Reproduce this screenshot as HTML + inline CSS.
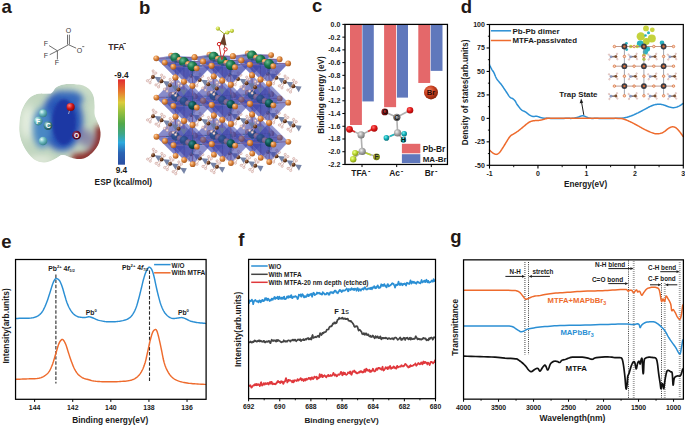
<!DOCTYPE html>
<html><head><meta charset="utf-8"><style>
html,body{margin:0;padding:0;background:#fff;}
svg{display:block;font-family:"Liberation Sans", sans-serif;}
</style></head><body>
<svg width="685" height="425" viewBox="0 0 685 425">
<rect width="685" height="425" fill="#fff"/>
<text x="1.40" y="12.90" font-size="18.5" font-weight="bold" text-anchor="start" fill="#231815" >a</text>
<text x="139.00" y="14.00" font-size="18.5" font-weight="bold" text-anchor="start" fill="#231815" >b</text>
<text x="312.10" y="12.20" font-size="18.5" font-weight="bold" text-anchor="start" fill="#231815" >c</text>
<text x="460.80" y="12.90" font-size="18.5" font-weight="bold" text-anchor="start" fill="#231815" >d</text>
<text x="1.20" y="247.60" font-size="18.5" font-weight="bold" text-anchor="start" fill="#231815" >e</text>
<text x="238.30" y="245.90" font-size="18.5" font-weight="bold" text-anchor="start" fill="#231815" >f</text>
<text x="450.30" y="242.80" font-size="18.5" font-weight="bold" text-anchor="start" fill="#231815" >g</text>
<line x1="49.10" y1="45.60" x2="57.40" y2="50.80" stroke="#4a4a4a" stroke-width="0.8" />
<line x1="49.70" y1="54.70" x2="57.40" y2="50.80" stroke="#4a4a4a" stroke-width="0.8" />
<line x1="57.40" y1="50.80" x2="57.40" y2="59.40" stroke="#4a4a4a" stroke-width="0.8" />
<line x1="57.40" y1="50.80" x2="68.50" y2="44.70" stroke="#4a4a4a" stroke-width="0.8" />
<line x1="68.50" y1="44.70" x2="76.20" y2="48.20" stroke="#4a4a4a" stroke-width="0.8" />
<line x1="67.50" y1="44.50" x2="67.50" y2="34.70" stroke="#4a4a4a" stroke-width="0.8" />
<line x1="69.40" y1="44.50" x2="69.40" y2="34.70" stroke="#4a4a4a" stroke-width="0.8" />
<text x="68.50" y="33.40" font-size="7.0" font-weight="normal" text-anchor="middle" fill="#3a3a3a" >O</text>
<text x="79.50" y="52.60" font-size="7.0" font-weight="normal" text-anchor="middle" fill="#3a3a3a" >O</text>
<line x1="82.2" y1="46.6" x2="84.3" y2="46.6" stroke="#3a3a3a" stroke-width="0.7"/>
<text x="46.00" y="46.00" font-size="7.0" font-weight="normal" text-anchor="middle" fill="#3a3a3a" >F</text>
<text x="45.80" y="58.40" font-size="7.0" font-weight="normal" text-anchor="middle" fill="#3a3a3a" >F</text>
<text x="56.90" y="64.90" font-size="7.0" font-weight="normal" text-anchor="middle" fill="#3a3a3a" >F</text>
<text x="108.20" y="49.70" font-size="8.6" font-weight="bold" text-anchor="start" fill="#3a2c2c" >TFA</text>
<rect x="123.3" y="43.0" width="2.6" height="0.9" fill="#3a2c2c"/>
<defs><linearGradient id="cbar" x1="0" y1="0" x2="0" y2="1">
<stop offset="0" stop-color="#e02a30"/><stop offset="0.14" stop-color="#e8762e"/><stop offset="0.27" stop-color="#dccc3c"/>
<stop offset="0.38" stop-color="#98c03e"/><stop offset="0.52" stop-color="#52a84a"/><stop offset="0.64" stop-color="#3ea688"/>
<stop offset="0.74" stop-color="#2eaade"/><stop offset="0.86" stop-color="#2a64b4"/><stop offset="1" stop-color="#2a4ea2"/></linearGradient></defs>
<rect x="118.0" y="79.3" width="7.0" height="85.4" fill="url(#cbar)"/>
<text x="121.40" y="77.90" font-size="8.3" font-weight="bold" text-anchor="middle" fill="#1a1a1a" >-9.4</text>
<text x="121.40" y="173.40" font-size="8.3" font-weight="bold" text-anchor="middle" fill="#1a1a1a" >9.4</text>
<text x="94.60" y="185.00" font-size="8.3" font-weight="bold" text-anchor="start" fill="#1a1a1a" >ESP (kcal/mol)</text>
<defs><clipPath id="espclip"><path d="M73.0,84.0 L74.0,84.1 L75.4,84.2 L77.1,84.4 L78.8,84.6 L80.5,84.8 L82.0,85.2 L83.3,85.6 L84.6,86.2 L85.8,86.7 L86.9,87.4 L88.0,88.2 L89.0,89.0 L89.9,90.0 L90.8,91.0 L91.6,92.2 L92.4,93.4 L93.0,94.7 L93.5,96.0 L93.9,97.4 L94.1,98.9 L94.3,100.4 L94.4,101.9 L94.4,103.5 L94.5,105.0 L94.5,106.5 L94.5,108.1 L94.4,109.7 L94.4,111.2 L94.4,112.7 L94.5,114.0 L94.7,115.2 L95.0,116.2 L95.3,117.1 L95.7,118.0 L96.1,119.0 L96.5,120.0 L97.0,121.1 L97.5,122.2 L98.1,123.4 L98.6,124.6 L99.1,125.8 L99.5,127.0 L99.8,128.3 L100.1,129.6 L100.3,130.9 L100.5,132.2 L100.5,133.6 L100.5,135.0 L100.4,136.5 L100.2,138.0 L99.9,139.5 L99.5,141.0 L99.1,142.5 L98.5,144.0 L97.8,145.4 L97.0,146.8 L96.1,148.2 L95.1,149.5 L94.1,150.8 L93.0,152.0 L91.8,153.2 L90.5,154.3 L89.2,155.4 L87.8,156.4 L86.4,157.3 L85.0,158.0 L83.7,158.5 L82.3,158.8 L81.0,159.0 L79.7,159.1 L78.3,159.1 L77.0,159.0 L75.7,158.8 L74.3,158.6 L72.9,158.2 L71.6,157.8 L70.3,157.4 L69.0,157.0 L67.8,156.6 L66.6,156.1 L65.4,155.6 L64.3,155.2 L63.2,155.0 L62.0,155.0 L60.9,155.3 L59.8,155.9 L58.7,156.7 L57.6,157.5 L56.3,158.3 L55.0,159.0 L53.5,159.7 L51.9,160.4 L50.2,161.2 L48.4,161.8 L46.7,162.3 L45.0,162.5 L43.3,162.5 L41.6,162.3 L39.9,162.0 L38.2,161.5 L36.6,160.8 L35.0,160.0 L33.5,159.0 L32.1,157.8 L30.7,156.4 L29.4,154.9 L28.1,153.5 L27.0,152.0 L26.0,150.6 L25.0,149.1 L24.2,147.6 L23.4,146.1 L22.7,144.6 L22.0,143.0 L21.4,141.4 L20.9,139.8 L20.4,138.1 L20.1,136.4 L19.7,134.7 L19.5,133.0 L19.3,131.2 L19.2,129.4 L19.2,127.6 L19.3,125.7 L19.4,123.8 L19.5,122.0 L19.7,120.1 L19.9,118.3 L20.2,116.4 L20.6,114.5 L21.0,112.7 L21.5,111.0 L22.1,109.3 L22.8,107.7 L23.5,106.2 L24.3,104.7 L25.1,103.3 L26.0,102.0 L26.9,100.8 L27.9,99.6 L28.8,98.6 L29.9,97.6 L30.9,96.8 L32.0,96.0 L33.1,95.4 L34.3,94.8 L35.4,94.4 L36.6,94.0 L37.8,93.7 L39.0,93.5 L40.2,93.4 L41.4,93.3 L42.6,93.4 L43.8,93.4 L44.9,93.5 L46.0,93.5 L47.0,93.5 L48.0,93.6 L48.9,93.6 L49.8,93.6 L50.7,93.4 L51.5,93.0 L52.3,92.3 L53.0,91.4 L53.7,90.4 L54.4,89.3 L55.1,88.3 L56.0,87.5 L57.0,86.8 L58.0,86.2 L59.2,85.7 L60.4,85.2 L61.6,84.8 L63.0,84.5 L64.6,84.3 L66.5,84.1 L68.4,84.1 L70.3,84.0 L71.9,84.0 L73.0,84.0Z"/></clipPath>
<filter id="bl3" x="-50%" y="-50%" width="200%" height="200%"><feGaussianBlur stdDeviation="3"/></filter>
<filter id="bl5" x="-50%" y="-50%" width="200%" height="200%"><feGaussianBlur stdDeviation="5"/></filter>
<filter id="bl2" x="-50%" y="-50%" width="200%" height="200%"><feGaussianBlur stdDeviation="1.5"/></filter>
<radialGradient id="gTeal" cx="0.35" cy="0.32" r="0.75"><stop offset="0" stop-color="#e0fafa"/><stop offset="0.45" stop-color="#70bcc0"/><stop offset="1" stop-color="#2e7880"/></radialGradient>
<radialGradient id="gTealD" cx="0.35" cy="0.32" r="0.75"><stop offset="0" stop-color="#b8e0e0"/><stop offset="0.5" stop-color="#3e8488"/><stop offset="1" stop-color="#1a4a50"/></radialGradient>
<radialGradient id="gORed" cx="0.35" cy="0.32" r="0.75"><stop offset="0" stop-color="#ff8080"/><stop offset="0.5" stop-color="#d01818"/><stop offset="1" stop-color="#800000"/></radialGradient>
<radialGradient id="gOMar" cx="0.35" cy="0.32" r="0.75"><stop offset="0" stop-color="#a05070"/><stop offset="0.5" stop-color="#6a1030"/><stop offset="1" stop-color="#400018"/></radialGradient>
</defs>
<g clip-path="url(#espclip)">
<path d="M73.0,84.0 L74.0,84.1 L75.4,84.2 L77.1,84.4 L78.8,84.6 L80.5,84.8 L82.0,85.2 L83.3,85.6 L84.6,86.2 L85.8,86.7 L86.9,87.4 L88.0,88.2 L89.0,89.0 L89.9,90.0 L90.8,91.0 L91.6,92.2 L92.4,93.4 L93.0,94.7 L93.5,96.0 L93.9,97.4 L94.1,98.9 L94.3,100.4 L94.4,101.9 L94.4,103.5 L94.5,105.0 L94.5,106.5 L94.5,108.1 L94.4,109.7 L94.4,111.2 L94.4,112.7 L94.5,114.0 L94.7,115.2 L95.0,116.2 L95.3,117.1 L95.7,118.0 L96.1,119.0 L96.5,120.0 L97.0,121.1 L97.5,122.2 L98.1,123.4 L98.6,124.6 L99.1,125.8 L99.5,127.0 L99.8,128.3 L100.1,129.6 L100.3,130.9 L100.5,132.2 L100.5,133.6 L100.5,135.0 L100.4,136.5 L100.2,138.0 L99.9,139.5 L99.5,141.0 L99.1,142.5 L98.5,144.0 L97.8,145.4 L97.0,146.8 L96.1,148.2 L95.1,149.5 L94.1,150.8 L93.0,152.0 L91.8,153.2 L90.5,154.3 L89.2,155.4 L87.8,156.4 L86.4,157.3 L85.0,158.0 L83.7,158.5 L82.3,158.8 L81.0,159.0 L79.7,159.1 L78.3,159.1 L77.0,159.0 L75.7,158.8 L74.3,158.6 L72.9,158.2 L71.6,157.8 L70.3,157.4 L69.0,157.0 L67.8,156.6 L66.6,156.1 L65.4,155.6 L64.3,155.2 L63.2,155.0 L62.0,155.0 L60.9,155.3 L59.8,155.9 L58.7,156.7 L57.6,157.5 L56.3,158.3 L55.0,159.0 L53.5,159.7 L51.9,160.4 L50.2,161.2 L48.4,161.8 L46.7,162.3 L45.0,162.5 L43.3,162.5 L41.6,162.3 L39.9,162.0 L38.2,161.5 L36.6,160.8 L35.0,160.0 L33.5,159.0 L32.1,157.8 L30.7,156.4 L29.4,154.9 L28.1,153.5 L27.0,152.0 L26.0,150.6 L25.0,149.1 L24.2,147.6 L23.4,146.1 L22.7,144.6 L22.0,143.0 L21.4,141.4 L20.9,139.8 L20.4,138.1 L20.1,136.4 L19.7,134.7 L19.5,133.0 L19.3,131.2 L19.2,129.4 L19.2,127.6 L19.3,125.7 L19.4,123.8 L19.5,122.0 L19.7,120.1 L19.9,118.3 L20.2,116.4 L20.6,114.5 L21.0,112.7 L21.5,111.0 L22.1,109.3 L22.8,107.7 L23.5,106.2 L24.3,104.7 L25.1,103.3 L26.0,102.0 L26.9,100.8 L27.9,99.6 L28.8,98.6 L29.9,97.6 L30.9,96.8 L32.0,96.0 L33.1,95.4 L34.3,94.8 L35.4,94.4 L36.6,94.0 L37.8,93.7 L39.0,93.5 L40.2,93.4 L41.4,93.3 L42.6,93.4 L43.8,93.4 L44.9,93.5 L46.0,93.5 L47.0,93.5 L48.0,93.6 L48.9,93.6 L49.8,93.6 L50.7,93.4 L51.5,93.0 L52.3,92.3 L53.0,91.4 L53.7,90.4 L54.4,89.3 L55.1,88.3 L56.0,87.5 L57.0,86.8 L58.0,86.2 L59.2,85.7 L60.4,85.2 L61.6,84.8 L63.0,84.5 L64.6,84.3 L66.5,84.1 L68.4,84.1 L70.3,84.0 L71.9,84.0 L73.0,84.0Z" fill="#c2d6c0"/>
<g filter="url(#bl5)">
<ellipse cx="28" cy="122" rx="8" ry="17" fill="#e6efe0"/>
<ellipse cx="82" cy="87" rx="10" ry="3.5" fill="#dce8d6"/>
</g>
<g filter="url(#bl3)">
<ellipse cx="84" cy="91" rx="10" ry="5" fill="#cadcc6"/>
<ellipse cx="93" cy="108" rx="4" ry="10" fill="#cadcc6"/>
<ellipse cx="40" cy="160" rx="13" ry="4" fill="#e2eadc"/>
<ellipse cx="97" cy="116" rx="3.5" ry="12" fill="#d0e2cc"/>
</g>
<g filter="url(#bl3)">
<path d="M100,126 Q101,146 90,155 Q82,160 72,158" fill="none" stroke="#882222" stroke-width="9"/>
<ellipse cx="62" cy="121" rx="21" ry="30" fill="#2c58b8"/>
<ellipse cx="70" cy="99" rx="13" ry="8" fill="#3468bc"/>
<ellipse cx="42" cy="128" rx="9" ry="20" fill="#4a88c4"/>
<ellipse cx="86" cy="138" rx="7" ry="9" fill="#8a8aa8"/>
</g>
<g filter="url(#bl2)">
<ellipse cx="64" cy="122" rx="12" ry="23" fill="#1c38a4"/>
</g>
</g>
<line x1="70.70" y1="106.80" x2="68.50" y2="114.00" stroke="#c0c0d0" stroke-width="0.8" />
<circle cx="43" cy="113.3" r="4.0" fill="url(#gTeal)"/>
<circle cx="38.2" cy="121" r="4.4" fill="url(#gTeal)"/>
<circle cx="48" cy="125.6" r="4.4" fill="url(#gTealD)"/>
<circle cx="43" cy="141" r="4.3" fill="url(#gTeal)"/>
<text x="38.20" y="123.60" font-size="6.8" font-weight="bold" text-anchor="middle" fill="#fff" >F</text>
<text x="48.20" y="128.20" font-size="6.8" font-weight="bold" text-anchor="middle" fill="#fff" >C</text>
<circle cx="70.6" cy="107" r="4.1" fill="url(#gORed)"/>
<circle cx="76.6" cy="135.2" r="4.4" fill="url(#gOMar)"/>
<text x="76.60" y="137.70" font-size="6.6" font-weight="bold" text-anchor="middle" fill="#fff" >O</text>
<defs>
<radialGradient id="gOr" cx="0.35" cy="0.32" r="0.75"><stop offset="0" stop-color="#ffd0a0"/><stop offset="0.45" stop-color="#e08a40"/><stop offset="1" stop-color="#a05018"/></radialGradient>
<radialGradient id="gPb" cx="0.35" cy="0.32" r="0.75"><stop offset="0" stop-color="#3a9090"/><stop offset="0.45" stop-color="#0e5858"/><stop offset="1" stop-color="#053030"/></radialGradient>
<radialGradient id="gPbG" cx="0.35" cy="0.32" r="0.75"><stop offset="0" stop-color="#70c090"/><stop offset="0.45" stop-color="#1a7a50"/><stop offset="1" stop-color="#0a4828"/></radialGradient>
<radialGradient id="gMA" cx="0.35" cy="0.32" r="0.75"><stop offset="0" stop-color="#b08060"/><stop offset="0.5" stop-color="#6a3a1c"/><stop offset="1" stop-color="#3a1e0c"/></radialGradient>
<radialGradient id="gYF" cx="0.35" cy="0.32" r="0.75"><stop offset="0" stop-color="#f8ffb0"/><stop offset="0.5" stop-color="#c8d840"/><stop offset="1" stop-color="#909818"/></radialGradient>
</defs>
<g transform="translate(152.95,76.95)"><polygon points="1.4,-0.2 8.2,0.3 5.4,6.0" fill="#6a7aa0" fill-opacity="0.92"/><line x1="0" y1="0" x2="0.2" y2="-6.0" stroke="#d0a8a0" stroke-width="0.8"/><line x1="0" y1="0" x2="2.8" y2="-3.9" stroke="#d0a8a0" stroke-width="0.8"/><line x1="0" y1="0" x2="-5.5" y2="3.8" stroke="#d0a8a0" stroke-width="0.8"/><line x1="0" y1="0" x2="-2.9" y2="5.8" stroke="#d0a8a0" stroke-width="0.8"/><circle cx="0" cy="0" r="2.0" fill="url(#gMA)"/><circle cx="0.2" cy="-6.0" r="1.15" fill="#f4e8e6" stroke="#c49088" stroke-width="0.5"/><circle cx="2.8" cy="-3.9" r="1.15" fill="#f4e8e6" stroke="#c49088" stroke-width="0.5"/><circle cx="-5.5" cy="3.8" r="1.15" fill="#f4e8e6" stroke="#c49088" stroke-width="0.5"/><circle cx="-2.9" cy="5.8" r="1.15" fill="#f4e8e6" stroke="#c49088" stroke-width="0.5"/></g>
<g transform="translate(153.05,116.15)"><polygon points="1.4,-0.2 8.2,0.3 5.4,6.0" fill="#6a7aa0" fill-opacity="0.92"/><line x1="0" y1="0" x2="0.2" y2="-6.0" stroke="#d0a8a0" stroke-width="0.8"/><line x1="0" y1="0" x2="2.8" y2="-3.9" stroke="#d0a8a0" stroke-width="0.8"/><line x1="0" y1="0" x2="-5.5" y2="3.8" stroke="#d0a8a0" stroke-width="0.8"/><line x1="0" y1="0" x2="-2.9" y2="5.8" stroke="#d0a8a0" stroke-width="0.8"/><circle cx="0" cy="0" r="2.0" fill="url(#gMA)"/><circle cx="0.2" cy="-6.0" r="1.15" fill="#f4e8e6" stroke="#c49088" stroke-width="0.5"/><circle cx="2.8" cy="-3.9" r="1.15" fill="#f4e8e6" stroke="#c49088" stroke-width="0.5"/><circle cx="-5.5" cy="3.8" r="1.15" fill="#f4e8e6" stroke="#c49088" stroke-width="0.5"/><circle cx="-2.9" cy="5.8" r="1.15" fill="#f4e8e6" stroke="#c49088" stroke-width="0.5"/></g>
<g transform="translate(153.15,155.35)"><polygon points="1.4,-0.2 8.2,0.3 5.4,6.0" fill="#6a7aa0" fill-opacity="0.92"/><line x1="0" y1="0" x2="0.2" y2="-6.0" stroke="#d0a8a0" stroke-width="0.8"/><line x1="0" y1="0" x2="2.8" y2="-3.9" stroke="#d0a8a0" stroke-width="0.8"/><line x1="0" y1="0" x2="-5.5" y2="3.8" stroke="#d0a8a0" stroke-width="0.8"/><line x1="0" y1="0" x2="-2.9" y2="5.8" stroke="#d0a8a0" stroke-width="0.8"/><circle cx="0" cy="0" r="2.0" fill="url(#gMA)"/><circle cx="0.2" cy="-6.0" r="1.15" fill="#f4e8e6" stroke="#c49088" stroke-width="0.5"/><circle cx="2.8" cy="-3.9" r="1.15" fill="#f4e8e6" stroke="#c49088" stroke-width="0.5"/><circle cx="-5.5" cy="3.8" r="1.15" fill="#f4e8e6" stroke="#c49088" stroke-width="0.5"/><circle cx="-2.9" cy="5.8" r="1.15" fill="#f4e8e6" stroke="#c49088" stroke-width="0.5"/></g>
<g transform="translate(191.25,75.85)"><polygon points="1.4,-0.2 8.2,0.3 5.4,6.0" fill="#6a7aa0" fill-opacity="0.92"/><line x1="0" y1="0" x2="0.2" y2="-6.0" stroke="#d0a8a0" stroke-width="0.8"/><line x1="0" y1="0" x2="2.8" y2="-3.9" stroke="#d0a8a0" stroke-width="0.8"/><line x1="0" y1="0" x2="-5.5" y2="3.8" stroke="#d0a8a0" stroke-width="0.8"/><line x1="0" y1="0" x2="-2.9" y2="5.8" stroke="#d0a8a0" stroke-width="0.8"/><circle cx="0" cy="0" r="2.0" fill="url(#gMA)"/><circle cx="0.2" cy="-6.0" r="1.15" fill="#f4e8e6" stroke="#c49088" stroke-width="0.5"/><circle cx="2.8" cy="-3.9" r="1.15" fill="#f4e8e6" stroke="#c49088" stroke-width="0.5"/><circle cx="-5.5" cy="3.8" r="1.15" fill="#f4e8e6" stroke="#c49088" stroke-width="0.5"/><circle cx="-2.9" cy="5.8" r="1.15" fill="#f4e8e6" stroke="#c49088" stroke-width="0.5"/></g>
<g transform="translate(191.35,115.05)"><polygon points="1.4,-0.2 8.2,0.3 5.4,6.0" fill="#6a7aa0" fill-opacity="0.92"/><line x1="0" y1="0" x2="0.2" y2="-6.0" stroke="#d0a8a0" stroke-width="0.8"/><line x1="0" y1="0" x2="2.8" y2="-3.9" stroke="#d0a8a0" stroke-width="0.8"/><line x1="0" y1="0" x2="-5.5" y2="3.8" stroke="#d0a8a0" stroke-width="0.8"/><line x1="0" y1="0" x2="-2.9" y2="5.8" stroke="#d0a8a0" stroke-width="0.8"/><circle cx="0" cy="0" r="2.0" fill="url(#gMA)"/><circle cx="0.2" cy="-6.0" r="1.15" fill="#f4e8e6" stroke="#c49088" stroke-width="0.5"/><circle cx="2.8" cy="-3.9" r="1.15" fill="#f4e8e6" stroke="#c49088" stroke-width="0.5"/><circle cx="-5.5" cy="3.8" r="1.15" fill="#f4e8e6" stroke="#c49088" stroke-width="0.5"/><circle cx="-2.9" cy="5.8" r="1.15" fill="#f4e8e6" stroke="#c49088" stroke-width="0.5"/></g>
<g transform="translate(191.45,154.25)"><polygon points="1.4,-0.2 8.2,0.3 5.4,6.0" fill="#6a7aa0" fill-opacity="0.92"/><line x1="0" y1="0" x2="0.2" y2="-6.0" stroke="#d0a8a0" stroke-width="0.8"/><line x1="0" y1="0" x2="2.8" y2="-3.9" stroke="#d0a8a0" stroke-width="0.8"/><line x1="0" y1="0" x2="-5.5" y2="3.8" stroke="#d0a8a0" stroke-width="0.8"/><line x1="0" y1="0" x2="-2.9" y2="5.8" stroke="#d0a8a0" stroke-width="0.8"/><circle cx="0" cy="0" r="2.0" fill="url(#gMA)"/><circle cx="0.2" cy="-6.0" r="1.15" fill="#f4e8e6" stroke="#c49088" stroke-width="0.5"/><circle cx="2.8" cy="-3.9" r="1.15" fill="#f4e8e6" stroke="#c49088" stroke-width="0.5"/><circle cx="-5.5" cy="3.8" r="1.15" fill="#f4e8e6" stroke="#c49088" stroke-width="0.5"/><circle cx="-2.9" cy="5.8" r="1.15" fill="#f4e8e6" stroke="#c49088" stroke-width="0.5"/></g>
<g transform="translate(229.55,74.75)"><polygon points="1.4,-0.2 8.2,0.3 5.4,6.0" fill="#6a7aa0" fill-opacity="0.92"/><line x1="0" y1="0" x2="0.2" y2="-6.0" stroke="#d0a8a0" stroke-width="0.8"/><line x1="0" y1="0" x2="2.8" y2="-3.9" stroke="#d0a8a0" stroke-width="0.8"/><line x1="0" y1="0" x2="-5.5" y2="3.8" stroke="#d0a8a0" stroke-width="0.8"/><line x1="0" y1="0" x2="-2.9" y2="5.8" stroke="#d0a8a0" stroke-width="0.8"/><circle cx="0" cy="0" r="2.0" fill="url(#gMA)"/><circle cx="0.2" cy="-6.0" r="1.15" fill="#f4e8e6" stroke="#c49088" stroke-width="0.5"/><circle cx="2.8" cy="-3.9" r="1.15" fill="#f4e8e6" stroke="#c49088" stroke-width="0.5"/><circle cx="-5.5" cy="3.8" r="1.15" fill="#f4e8e6" stroke="#c49088" stroke-width="0.5"/><circle cx="-2.9" cy="5.8" r="1.15" fill="#f4e8e6" stroke="#c49088" stroke-width="0.5"/></g>
<g transform="translate(229.65,113.95)"><polygon points="1.4,-0.2 8.2,0.3 5.4,6.0" fill="#6a7aa0" fill-opacity="0.92"/><line x1="0" y1="0" x2="0.2" y2="-6.0" stroke="#d0a8a0" stroke-width="0.8"/><line x1="0" y1="0" x2="2.8" y2="-3.9" stroke="#d0a8a0" stroke-width="0.8"/><line x1="0" y1="0" x2="-5.5" y2="3.8" stroke="#d0a8a0" stroke-width="0.8"/><line x1="0" y1="0" x2="-2.9" y2="5.8" stroke="#d0a8a0" stroke-width="0.8"/><circle cx="0" cy="0" r="2.0" fill="url(#gMA)"/><circle cx="0.2" cy="-6.0" r="1.15" fill="#f4e8e6" stroke="#c49088" stroke-width="0.5"/><circle cx="2.8" cy="-3.9" r="1.15" fill="#f4e8e6" stroke="#c49088" stroke-width="0.5"/><circle cx="-5.5" cy="3.8" r="1.15" fill="#f4e8e6" stroke="#c49088" stroke-width="0.5"/><circle cx="-2.9" cy="5.8" r="1.15" fill="#f4e8e6" stroke="#c49088" stroke-width="0.5"/></g>
<g transform="translate(229.75,153.15)"><polygon points="1.4,-0.2 8.2,0.3 5.4,6.0" fill="#6a7aa0" fill-opacity="0.92"/><line x1="0" y1="0" x2="0.2" y2="-6.0" stroke="#d0a8a0" stroke-width="0.8"/><line x1="0" y1="0" x2="2.8" y2="-3.9" stroke="#d0a8a0" stroke-width="0.8"/><line x1="0" y1="0" x2="-5.5" y2="3.8" stroke="#d0a8a0" stroke-width="0.8"/><line x1="0" y1="0" x2="-2.9" y2="5.8" stroke="#d0a8a0" stroke-width="0.8"/><circle cx="0" cy="0" r="2.0" fill="url(#gMA)"/><circle cx="0.2" cy="-6.0" r="1.15" fill="#f4e8e6" stroke="#c49088" stroke-width="0.5"/><circle cx="2.8" cy="-3.9" r="1.15" fill="#f4e8e6" stroke="#c49088" stroke-width="0.5"/><circle cx="-5.5" cy="3.8" r="1.15" fill="#f4e8e6" stroke="#c49088" stroke-width="0.5"/><circle cx="-2.9" cy="5.8" r="1.15" fill="#f4e8e6" stroke="#c49088" stroke-width="0.5"/></g>
<g transform="translate(267.85,73.65)"><polygon points="1.4,-0.2 8.2,0.3 5.4,6.0" fill="#6a7aa0" fill-opacity="0.92"/><line x1="0" y1="0" x2="0.2" y2="-6.0" stroke="#d0a8a0" stroke-width="0.8"/><line x1="0" y1="0" x2="2.8" y2="-3.9" stroke="#d0a8a0" stroke-width="0.8"/><line x1="0" y1="0" x2="-5.5" y2="3.8" stroke="#d0a8a0" stroke-width="0.8"/><line x1="0" y1="0" x2="-2.9" y2="5.8" stroke="#d0a8a0" stroke-width="0.8"/><circle cx="0" cy="0" r="2.0" fill="url(#gMA)"/><circle cx="0.2" cy="-6.0" r="1.15" fill="#f4e8e6" stroke="#c49088" stroke-width="0.5"/><circle cx="2.8" cy="-3.9" r="1.15" fill="#f4e8e6" stroke="#c49088" stroke-width="0.5"/><circle cx="-5.5" cy="3.8" r="1.15" fill="#f4e8e6" stroke="#c49088" stroke-width="0.5"/><circle cx="-2.9" cy="5.8" r="1.15" fill="#f4e8e6" stroke="#c49088" stroke-width="0.5"/></g>
<g transform="translate(267.95,112.85)"><polygon points="1.4,-0.2 8.2,0.3 5.4,6.0" fill="#6a7aa0" fill-opacity="0.92"/><line x1="0" y1="0" x2="0.2" y2="-6.0" stroke="#d0a8a0" stroke-width="0.8"/><line x1="0" y1="0" x2="2.8" y2="-3.9" stroke="#d0a8a0" stroke-width="0.8"/><line x1="0" y1="0" x2="-5.5" y2="3.8" stroke="#d0a8a0" stroke-width="0.8"/><line x1="0" y1="0" x2="-2.9" y2="5.8" stroke="#d0a8a0" stroke-width="0.8"/><circle cx="0" cy="0" r="2.0" fill="url(#gMA)"/><circle cx="0.2" cy="-6.0" r="1.15" fill="#f4e8e6" stroke="#c49088" stroke-width="0.5"/><circle cx="2.8" cy="-3.9" r="1.15" fill="#f4e8e6" stroke="#c49088" stroke-width="0.5"/><circle cx="-5.5" cy="3.8" r="1.15" fill="#f4e8e6" stroke="#c49088" stroke-width="0.5"/><circle cx="-2.9" cy="5.8" r="1.15" fill="#f4e8e6" stroke="#c49088" stroke-width="0.5"/></g>
<g transform="translate(268.05,152.05)"><polygon points="1.4,-0.2 8.2,0.3 5.4,6.0" fill="#6a7aa0" fill-opacity="0.92"/><line x1="0" y1="0" x2="0.2" y2="-6.0" stroke="#d0a8a0" stroke-width="0.8"/><line x1="0" y1="0" x2="2.8" y2="-3.9" stroke="#d0a8a0" stroke-width="0.8"/><line x1="0" y1="0" x2="-5.5" y2="3.8" stroke="#d0a8a0" stroke-width="0.8"/><line x1="0" y1="0" x2="-2.9" y2="5.8" stroke="#d0a8a0" stroke-width="0.8"/><circle cx="0" cy="0" r="2.0" fill="url(#gMA)"/><circle cx="0.2" cy="-6.0" r="1.15" fill="#f4e8e6" stroke="#c49088" stroke-width="0.5"/><circle cx="2.8" cy="-3.9" r="1.15" fill="#f4e8e6" stroke="#c49088" stroke-width="0.5"/><circle cx="-5.5" cy="3.8" r="1.15" fill="#f4e8e6" stroke="#c49088" stroke-width="0.5"/><circle cx="-2.9" cy="5.8" r="1.15" fill="#f4e8e6" stroke="#c49088" stroke-width="0.5"/></g>
<line x1="175.40" y1="57.80" x2="184.97" y2="57.53" stroke="#1a7070" stroke-width="1.0" />
<line x1="184.97" y1="57.53" x2="194.55" y2="57.25" stroke="#c87868" stroke-width="1.0" />
<line x1="175.40" y1="57.80" x2="165.83" y2="58.08" stroke="#1a7070" stroke-width="1.0" />
<line x1="165.83" y1="58.08" x2="156.25" y2="58.35" stroke="#c87868" stroke-width="1.0" />
<line x1="175.40" y1="57.80" x2="175.43" y2="67.60" stroke="#1a7070" stroke-width="1.0" />
<line x1="175.43" y1="67.60" x2="175.45" y2="77.40" stroke="#c87868" stroke-width="1.0" />
<circle cx="171.15" cy="55.70" r="2.9" fill="url(#gOr)"/>
<polygon points="156.25,58.35 179.65,59.90 175.45,77.40" fill="#3f46aa" fill-opacity="0.5" stroke="#8a90e0" stroke-opacity="0.35" stroke-width="0.4"/>
<polygon points="179.65,59.90 194.55,57.25 175.45,77.40" fill="#3f46aa" fill-opacity="0.58" stroke="#8a90e0" stroke-opacity="0.35" stroke-width="0.4"/>
<polygon points="156.25,58.35 171.15,55.70 175.45,77.40" fill="#3f46aa" fill-opacity="0.34" stroke="#8a90e0" stroke-opacity="0.35" stroke-width="0.4"/>
<polygon points="171.15,55.70 194.55,57.25 175.45,77.40" fill="#3f46aa" fill-opacity="0.38" stroke="#8a90e0" stroke-opacity="0.35" stroke-width="0.4"/>
<polygon points="156.25,58.35 179.65,59.90 194.55,57.25 171.15,55.70" fill="#3f46aa" fill-opacity="0.36" stroke="#8a90e0" stroke-opacity="0.35" stroke-width="0.4"/>
<circle cx="175.40" cy="57.80" r="5.0" fill="url(#gPbG)"/>
<line x1="213.70" y1="56.70" x2="223.27" y2="56.43" stroke="#1a7070" stroke-width="1.0" />
<line x1="223.27" y1="56.43" x2="232.85" y2="56.15" stroke="#c87868" stroke-width="1.0" />
<line x1="213.70" y1="56.70" x2="204.12" y2="56.98" stroke="#1a7070" stroke-width="1.0" />
<line x1="204.12" y1="56.98" x2="194.55" y2="57.25" stroke="#c87868" stroke-width="1.0" />
<line x1="213.70" y1="56.70" x2="213.72" y2="66.50" stroke="#1a7070" stroke-width="1.0" />
<line x1="213.72" y1="66.50" x2="213.75" y2="76.30" stroke="#c87868" stroke-width="1.0" />
<circle cx="209.45" cy="54.60" r="2.9" fill="url(#gOr)"/>
<polygon points="194.55,57.25 217.95,58.80 213.75,76.30" fill="#3f46aa" fill-opacity="0.5" stroke="#8a90e0" stroke-opacity="0.35" stroke-width="0.4"/>
<polygon points="217.95,58.80 232.85,56.15 213.75,76.30" fill="#3f46aa" fill-opacity="0.58" stroke="#8a90e0" stroke-opacity="0.35" stroke-width="0.4"/>
<polygon points="194.55,57.25 209.45,54.60 213.75,76.30" fill="#3f46aa" fill-opacity="0.34" stroke="#8a90e0" stroke-opacity="0.35" stroke-width="0.4"/>
<polygon points="209.45,54.60 232.85,56.15 213.75,76.30" fill="#3f46aa" fill-opacity="0.38" stroke="#8a90e0" stroke-opacity="0.35" stroke-width="0.4"/>
<polygon points="194.55,57.25 217.95,58.80 232.85,56.15 209.45,54.60" fill="#3f46aa" fill-opacity="0.36" stroke="#8a90e0" stroke-opacity="0.35" stroke-width="0.4"/>
<circle cx="213.70" cy="56.70" r="5.0" fill="url(#gPbG)"/>
<line x1="252.00" y1="55.60" x2="261.57" y2="55.33" stroke="#1a7070" stroke-width="1.0" />
<line x1="261.57" y1="55.33" x2="271.15" y2="55.05" stroke="#c87868" stroke-width="1.0" />
<line x1="252.00" y1="55.60" x2="242.43" y2="55.88" stroke="#1a7070" stroke-width="1.0" />
<line x1="242.43" y1="55.88" x2="232.85" y2="56.15" stroke="#c87868" stroke-width="1.0" />
<line x1="252.00" y1="55.60" x2="252.03" y2="65.40" stroke="#1a7070" stroke-width="1.0" />
<line x1="252.03" y1="65.40" x2="252.05" y2="75.20" stroke="#c87868" stroke-width="1.0" />
<circle cx="247.75" cy="53.50" r="2.9" fill="url(#gOr)"/>
<polygon points="232.85,56.15 256.25,57.70 252.05,75.20" fill="#3f46aa" fill-opacity="0.5" stroke="#8a90e0" stroke-opacity="0.35" stroke-width="0.4"/>
<polygon points="256.25,57.70 271.15,55.05 252.05,75.20" fill="#3f46aa" fill-opacity="0.58" stroke="#8a90e0" stroke-opacity="0.35" stroke-width="0.4"/>
<polygon points="232.85,56.15 247.75,53.50 252.05,75.20" fill="#3f46aa" fill-opacity="0.34" stroke="#8a90e0" stroke-opacity="0.35" stroke-width="0.4"/>
<polygon points="247.75,53.50 271.15,55.05 252.05,75.20" fill="#3f46aa" fill-opacity="0.38" stroke="#8a90e0" stroke-opacity="0.35" stroke-width="0.4"/>
<polygon points="232.85,56.15 256.25,57.70 271.15,55.05 247.75,53.50" fill="#3f46aa" fill-opacity="0.36" stroke="#8a90e0" stroke-opacity="0.35" stroke-width="0.4"/>
<circle cx="252.00" cy="55.60" r="5.0" fill="url(#gPbG)"/>
<line x1="175.50" y1="97.00" x2="185.07" y2="96.72" stroke="#1a7070" stroke-width="1.0" />
<line x1="185.07" y1="96.72" x2="194.65" y2="96.45" stroke="#c87868" stroke-width="1.0" />
<line x1="175.50" y1="97.00" x2="165.93" y2="97.28" stroke="#1a7070" stroke-width="1.0" />
<line x1="165.93" y1="97.28" x2="156.35" y2="97.55" stroke="#c87868" stroke-width="1.0" />
<line x1="175.50" y1="97.00" x2="175.53" y2="106.80" stroke="#1a7070" stroke-width="1.0" />
<line x1="175.53" y1="106.80" x2="175.55" y2="116.60" stroke="#c87868" stroke-width="1.0" />
<line x1="175.50" y1="97.00" x2="175.47" y2="87.20" stroke="#1a7070" stroke-width="1.0" />
<line x1="175.47" y1="87.20" x2="175.45" y2="77.40" stroke="#c87868" stroke-width="1.0" />
<circle cx="171.25" cy="94.90" r="2.9" fill="url(#gOr)"/>
<polygon points="171.25,94.90 175.45,77.40 156.35,97.55" fill="#3f46aa" fill-opacity="0.24" stroke="#8a90e0" stroke-opacity="0.35" stroke-width="0.4"/>
<polygon points="171.25,94.90 194.65,96.45 175.45,77.40" fill="#3f46aa" fill-opacity="0.24" stroke="#8a90e0" stroke-opacity="0.35" stroke-width="0.4"/>
<polygon points="171.25,94.90 156.35,97.55 175.55,116.60" fill="#3f46aa" fill-opacity="0.24" stroke="#8a90e0" stroke-opacity="0.35" stroke-width="0.4"/>
<polygon points="171.25,94.90 175.55,116.60 194.65,96.45" fill="#3f46aa" fill-opacity="0.24" stroke="#8a90e0" stroke-opacity="0.35" stroke-width="0.4"/>
<polygon points="179.75,99.10 175.45,77.40 156.35,97.55" fill="#3f46aa" fill-opacity="0.5" stroke="#8a90e0" stroke-opacity="0.35" stroke-width="0.4"/>
<polygon points="179.75,99.10 194.65,96.45 175.45,77.40" fill="#3f46aa" fill-opacity="0.42" stroke="#8a90e0" stroke-opacity="0.35" stroke-width="0.4"/>
<polygon points="179.75,99.10 156.35,97.55 175.55,116.60" fill="#3f46aa" fill-opacity="0.58" stroke="#8a90e0" stroke-opacity="0.35" stroke-width="0.4"/>
<polygon points="179.75,99.10 175.55,116.60 194.65,96.45" fill="#3f46aa" fill-opacity="0.48" stroke="#8a90e0" stroke-opacity="0.35" stroke-width="0.4"/>
<circle cx="175.50" cy="97.00" r="4.3" fill="url(#gPb)"/>
<line x1="213.80" y1="95.90" x2="223.37" y2="95.62" stroke="#1a7070" stroke-width="1.0" />
<line x1="223.37" y1="95.62" x2="232.95" y2="95.35" stroke="#c87868" stroke-width="1.0" />
<line x1="213.80" y1="95.90" x2="204.22" y2="96.18" stroke="#1a7070" stroke-width="1.0" />
<line x1="204.22" y1="96.18" x2="194.65" y2="96.45" stroke="#c87868" stroke-width="1.0" />
<line x1="213.80" y1="95.90" x2="213.82" y2="105.70" stroke="#1a7070" stroke-width="1.0" />
<line x1="213.82" y1="105.70" x2="213.85" y2="115.50" stroke="#c87868" stroke-width="1.0" />
<line x1="213.80" y1="95.90" x2="213.77" y2="86.10" stroke="#1a7070" stroke-width="1.0" />
<line x1="213.77" y1="86.10" x2="213.75" y2="76.30" stroke="#c87868" stroke-width="1.0" />
<circle cx="209.55" cy="93.80" r="2.9" fill="url(#gOr)"/>
<polygon points="209.55,93.80 213.75,76.30 194.65,96.45" fill="#3f46aa" fill-opacity="0.24" stroke="#8a90e0" stroke-opacity="0.35" stroke-width="0.4"/>
<polygon points="209.55,93.80 232.95,95.35 213.75,76.30" fill="#3f46aa" fill-opacity="0.24" stroke="#8a90e0" stroke-opacity="0.35" stroke-width="0.4"/>
<polygon points="209.55,93.80 194.65,96.45 213.85,115.50" fill="#3f46aa" fill-opacity="0.24" stroke="#8a90e0" stroke-opacity="0.35" stroke-width="0.4"/>
<polygon points="209.55,93.80 213.85,115.50 232.95,95.35" fill="#3f46aa" fill-opacity="0.24" stroke="#8a90e0" stroke-opacity="0.35" stroke-width="0.4"/>
<polygon points="218.05,98.00 213.75,76.30 194.65,96.45" fill="#3f46aa" fill-opacity="0.5" stroke="#8a90e0" stroke-opacity="0.35" stroke-width="0.4"/>
<polygon points="218.05,98.00 232.95,95.35 213.75,76.30" fill="#3f46aa" fill-opacity="0.42" stroke="#8a90e0" stroke-opacity="0.35" stroke-width="0.4"/>
<polygon points="218.05,98.00 194.65,96.45 213.85,115.50" fill="#3f46aa" fill-opacity="0.58" stroke="#8a90e0" stroke-opacity="0.35" stroke-width="0.4"/>
<polygon points="218.05,98.00 213.85,115.50 232.95,95.35" fill="#3f46aa" fill-opacity="0.48" stroke="#8a90e0" stroke-opacity="0.35" stroke-width="0.4"/>
<circle cx="213.80" cy="95.90" r="4.3" fill="url(#gPb)"/>
<line x1="252.10" y1="94.80" x2="261.68" y2="94.52" stroke="#1a7070" stroke-width="1.0" />
<line x1="261.68" y1="94.52" x2="271.25" y2="94.25" stroke="#c87868" stroke-width="1.0" />
<line x1="252.10" y1="94.80" x2="242.53" y2="95.08" stroke="#1a7070" stroke-width="1.0" />
<line x1="242.53" y1="95.08" x2="232.95" y2="95.35" stroke="#c87868" stroke-width="1.0" />
<line x1="252.10" y1="94.80" x2="252.13" y2="104.60" stroke="#1a7070" stroke-width="1.0" />
<line x1="252.13" y1="104.60" x2="252.15" y2="114.40" stroke="#c87868" stroke-width="1.0" />
<line x1="252.10" y1="94.80" x2="252.08" y2="85.00" stroke="#1a7070" stroke-width="1.0" />
<line x1="252.08" y1="85.00" x2="252.05" y2="75.20" stroke="#c87868" stroke-width="1.0" />
<circle cx="247.85" cy="92.70" r="2.9" fill="url(#gOr)"/>
<polygon points="247.85,92.70 252.05,75.20 232.95,95.35" fill="#3f46aa" fill-opacity="0.24" stroke="#8a90e0" stroke-opacity="0.35" stroke-width="0.4"/>
<polygon points="247.85,92.70 271.25,94.25 252.05,75.20" fill="#3f46aa" fill-opacity="0.24" stroke="#8a90e0" stroke-opacity="0.35" stroke-width="0.4"/>
<polygon points="247.85,92.70 232.95,95.35 252.15,114.40" fill="#3f46aa" fill-opacity="0.24" stroke="#8a90e0" stroke-opacity="0.35" stroke-width="0.4"/>
<polygon points="247.85,92.70 252.15,114.40 271.25,94.25" fill="#3f46aa" fill-opacity="0.24" stroke="#8a90e0" stroke-opacity="0.35" stroke-width="0.4"/>
<polygon points="256.35,96.90 252.05,75.20 232.95,95.35" fill="#3f46aa" fill-opacity="0.5" stroke="#8a90e0" stroke-opacity="0.35" stroke-width="0.4"/>
<polygon points="256.35,96.90 271.25,94.25 252.05,75.20" fill="#3f46aa" fill-opacity="0.42" stroke="#8a90e0" stroke-opacity="0.35" stroke-width="0.4"/>
<polygon points="256.35,96.90 232.95,95.35 252.15,114.40" fill="#3f46aa" fill-opacity="0.58" stroke="#8a90e0" stroke-opacity="0.35" stroke-width="0.4"/>
<polygon points="256.35,96.90 252.15,114.40 271.25,94.25" fill="#3f46aa" fill-opacity="0.48" stroke="#8a90e0" stroke-opacity="0.35" stroke-width="0.4"/>
<circle cx="252.10" cy="94.80" r="4.3" fill="url(#gPb)"/>
<line x1="175.60" y1="136.20" x2="185.17" y2="135.93" stroke="#1a7070" stroke-width="1.0" />
<line x1="185.17" y1="135.93" x2="194.75" y2="135.65" stroke="#c87868" stroke-width="1.0" />
<line x1="175.60" y1="136.20" x2="166.03" y2="136.48" stroke="#1a7070" stroke-width="1.0" />
<line x1="166.03" y1="136.48" x2="156.45" y2="136.75" stroke="#c87868" stroke-width="1.0" />
<line x1="175.60" y1="136.20" x2="175.62" y2="146.00" stroke="#1a7070" stroke-width="1.0" />
<line x1="175.62" y1="146.00" x2="175.65" y2="155.80" stroke="#c87868" stroke-width="1.0" />
<line x1="175.60" y1="136.20" x2="175.57" y2="126.40" stroke="#1a7070" stroke-width="1.0" />
<line x1="175.57" y1="126.40" x2="175.55" y2="116.60" stroke="#c87868" stroke-width="1.0" />
<circle cx="171.35" cy="134.10" r="2.9" fill="url(#gOr)"/>
<polygon points="171.35,134.10 175.55,116.60 156.45,136.75" fill="#3f46aa" fill-opacity="0.24" stroke="#8a90e0" stroke-opacity="0.35" stroke-width="0.4"/>
<polygon points="171.35,134.10 194.75,135.65 175.55,116.60" fill="#3f46aa" fill-opacity="0.24" stroke="#8a90e0" stroke-opacity="0.35" stroke-width="0.4"/>
<polygon points="171.35,134.10 156.45,136.75 175.65,155.80" fill="#3f46aa" fill-opacity="0.24" stroke="#8a90e0" stroke-opacity="0.35" stroke-width="0.4"/>
<polygon points="171.35,134.10 175.65,155.80 194.75,135.65" fill="#3f46aa" fill-opacity="0.24" stroke="#8a90e0" stroke-opacity="0.35" stroke-width="0.4"/>
<polygon points="179.85,138.30 175.55,116.60 156.45,136.75" fill="#3f46aa" fill-opacity="0.5" stroke="#8a90e0" stroke-opacity="0.35" stroke-width="0.4"/>
<polygon points="179.85,138.30 194.75,135.65 175.55,116.60" fill="#3f46aa" fill-opacity="0.42" stroke="#8a90e0" stroke-opacity="0.35" stroke-width="0.4"/>
<polygon points="179.85,138.30 156.45,136.75 175.65,155.80" fill="#3f46aa" fill-opacity="0.58" stroke="#8a90e0" stroke-opacity="0.35" stroke-width="0.4"/>
<polygon points="179.85,138.30 175.65,155.80 194.75,135.65" fill="#3f46aa" fill-opacity="0.48" stroke="#8a90e0" stroke-opacity="0.35" stroke-width="0.4"/>
<circle cx="175.60" cy="136.20" r="4.3" fill="url(#gPb)"/>
<line x1="213.90" y1="135.10" x2="223.47" y2="134.82" stroke="#1a7070" stroke-width="1.0" />
<line x1="223.47" y1="134.82" x2="233.05" y2="134.55" stroke="#c87868" stroke-width="1.0" />
<line x1="213.90" y1="135.10" x2="204.32" y2="135.38" stroke="#1a7070" stroke-width="1.0" />
<line x1="204.32" y1="135.38" x2="194.75" y2="135.65" stroke="#c87868" stroke-width="1.0" />
<line x1="213.90" y1="135.10" x2="213.92" y2="144.90" stroke="#1a7070" stroke-width="1.0" />
<line x1="213.92" y1="144.90" x2="213.95" y2="154.70" stroke="#c87868" stroke-width="1.0" />
<line x1="213.90" y1="135.10" x2="213.87" y2="125.30" stroke="#1a7070" stroke-width="1.0" />
<line x1="213.87" y1="125.30" x2="213.85" y2="115.50" stroke="#c87868" stroke-width="1.0" />
<circle cx="209.65" cy="133.00" r="2.9" fill="url(#gOr)"/>
<polygon points="209.65,133.00 213.85,115.50 194.75,135.65" fill="#3f46aa" fill-opacity="0.24" stroke="#8a90e0" stroke-opacity="0.35" stroke-width="0.4"/>
<polygon points="209.65,133.00 233.05,134.55 213.85,115.50" fill="#3f46aa" fill-opacity="0.24" stroke="#8a90e0" stroke-opacity="0.35" stroke-width="0.4"/>
<polygon points="209.65,133.00 194.75,135.65 213.95,154.70" fill="#3f46aa" fill-opacity="0.24" stroke="#8a90e0" stroke-opacity="0.35" stroke-width="0.4"/>
<polygon points="209.65,133.00 213.95,154.70 233.05,134.55" fill="#3f46aa" fill-opacity="0.24" stroke="#8a90e0" stroke-opacity="0.35" stroke-width="0.4"/>
<polygon points="218.15,137.20 213.85,115.50 194.75,135.65" fill="#3f46aa" fill-opacity="0.5" stroke="#8a90e0" stroke-opacity="0.35" stroke-width="0.4"/>
<polygon points="218.15,137.20 233.05,134.55 213.85,115.50" fill="#3f46aa" fill-opacity="0.42" stroke="#8a90e0" stroke-opacity="0.35" stroke-width="0.4"/>
<polygon points="218.15,137.20 194.75,135.65 213.95,154.70" fill="#3f46aa" fill-opacity="0.58" stroke="#8a90e0" stroke-opacity="0.35" stroke-width="0.4"/>
<polygon points="218.15,137.20 213.95,154.70 233.05,134.55" fill="#3f46aa" fill-opacity="0.48" stroke="#8a90e0" stroke-opacity="0.35" stroke-width="0.4"/>
<circle cx="213.90" cy="135.10" r="4.3" fill="url(#gPb)"/>
<line x1="252.20" y1="134.00" x2="261.77" y2="133.72" stroke="#1a7070" stroke-width="1.0" />
<line x1="261.77" y1="133.72" x2="271.35" y2="133.45" stroke="#c87868" stroke-width="1.0" />
<line x1="252.20" y1="134.00" x2="242.62" y2="134.28" stroke="#1a7070" stroke-width="1.0" />
<line x1="242.62" y1="134.28" x2="233.05" y2="134.55" stroke="#c87868" stroke-width="1.0" />
<line x1="252.20" y1="134.00" x2="252.22" y2="143.80" stroke="#1a7070" stroke-width="1.0" />
<line x1="252.22" y1="143.80" x2="252.25" y2="153.60" stroke="#c87868" stroke-width="1.0" />
<line x1="252.20" y1="134.00" x2="252.17" y2="124.20" stroke="#1a7070" stroke-width="1.0" />
<line x1="252.17" y1="124.20" x2="252.15" y2="114.40" stroke="#c87868" stroke-width="1.0" />
<circle cx="247.95" cy="131.90" r="2.9" fill="url(#gOr)"/>
<polygon points="247.95,131.90 252.15,114.40 233.05,134.55" fill="#3f46aa" fill-opacity="0.24" stroke="#8a90e0" stroke-opacity="0.35" stroke-width="0.4"/>
<polygon points="247.95,131.90 271.35,133.45 252.15,114.40" fill="#3f46aa" fill-opacity="0.24" stroke="#8a90e0" stroke-opacity="0.35" stroke-width="0.4"/>
<polygon points="247.95,131.90 233.05,134.55 252.25,153.60" fill="#3f46aa" fill-opacity="0.24" stroke="#8a90e0" stroke-opacity="0.35" stroke-width="0.4"/>
<polygon points="247.95,131.90 252.25,153.60 271.35,133.45" fill="#3f46aa" fill-opacity="0.24" stroke="#8a90e0" stroke-opacity="0.35" stroke-width="0.4"/>
<polygon points="256.45,136.10 252.15,114.40 233.05,134.55" fill="#3f46aa" fill-opacity="0.5" stroke="#8a90e0" stroke-opacity="0.35" stroke-width="0.4"/>
<polygon points="256.45,136.10 271.35,133.45 252.15,114.40" fill="#3f46aa" fill-opacity="0.42" stroke="#8a90e0" stroke-opacity="0.35" stroke-width="0.4"/>
<polygon points="256.45,136.10 233.05,134.55 252.25,153.60" fill="#3f46aa" fill-opacity="0.58" stroke="#8a90e0" stroke-opacity="0.35" stroke-width="0.4"/>
<polygon points="256.45,136.10 252.25,153.60 271.35,133.45" fill="#3f46aa" fill-opacity="0.48" stroke="#8a90e0" stroke-opacity="0.35" stroke-width="0.4"/>
<circle cx="252.20" cy="134.00" r="4.3" fill="url(#gPb)"/>
<circle cx="156.25" cy="58.35" r="2.9" fill="url(#gOr)"/>
<circle cx="194.55" cy="57.25" r="2.9" fill="url(#gOr)"/>
<circle cx="175.45" cy="77.40" r="2.9" fill="url(#gOr)"/>
<circle cx="179.65" cy="59.90" r="2.9" fill="url(#gOr)"/>
<circle cx="194.55" cy="57.25" r="2.9" fill="url(#gOr)"/>
<circle cx="232.85" cy="56.15" r="2.9" fill="url(#gOr)"/>
<circle cx="213.75" cy="76.30" r="2.9" fill="url(#gOr)"/>
<circle cx="217.95" cy="58.80" r="2.9" fill="url(#gOr)"/>
<circle cx="232.85" cy="56.15" r="2.9" fill="url(#gOr)"/>
<circle cx="271.15" cy="55.05" r="2.9" fill="url(#gOr)"/>
<circle cx="252.05" cy="75.20" r="2.9" fill="url(#gOr)"/>
<circle cx="256.25" cy="57.70" r="2.9" fill="url(#gOr)"/>
<circle cx="156.35" cy="97.55" r="2.9" fill="url(#gOr)"/>
<circle cx="194.65" cy="96.45" r="2.9" fill="url(#gOr)"/>
<circle cx="175.55" cy="116.60" r="2.9" fill="url(#gOr)"/>
<circle cx="179.75" cy="99.10" r="2.9" fill="url(#gOr)"/>
<circle cx="175.45" cy="77.40" r="2.9" fill="url(#gOr)"/>
<circle cx="194.65" cy="96.45" r="2.9" fill="url(#gOr)"/>
<circle cx="232.95" cy="95.35" r="2.9" fill="url(#gOr)"/>
<circle cx="213.85" cy="115.50" r="2.9" fill="url(#gOr)"/>
<circle cx="218.05" cy="98.00" r="2.9" fill="url(#gOr)"/>
<circle cx="213.75" cy="76.30" r="2.9" fill="url(#gOr)"/>
<circle cx="232.95" cy="95.35" r="2.9" fill="url(#gOr)"/>
<circle cx="271.25" cy="94.25" r="2.9" fill="url(#gOr)"/>
<circle cx="252.15" cy="114.40" r="2.9" fill="url(#gOr)"/>
<circle cx="256.35" cy="96.90" r="2.9" fill="url(#gOr)"/>
<circle cx="252.05" cy="75.20" r="2.9" fill="url(#gOr)"/>
<circle cx="156.45" cy="136.75" r="2.9" fill="url(#gOr)"/>
<circle cx="194.75" cy="135.65" r="2.9" fill="url(#gOr)"/>
<circle cx="175.65" cy="155.80" r="2.9" fill="url(#gOr)"/>
<circle cx="179.85" cy="138.30" r="2.9" fill="url(#gOr)"/>
<circle cx="175.55" cy="116.60" r="2.9" fill="url(#gOr)"/>
<circle cx="194.75" cy="135.65" r="2.9" fill="url(#gOr)"/>
<circle cx="233.05" cy="134.55" r="2.9" fill="url(#gOr)"/>
<circle cx="213.95" cy="154.70" r="2.9" fill="url(#gOr)"/>
<circle cx="218.15" cy="137.20" r="2.9" fill="url(#gOr)"/>
<circle cx="213.85" cy="115.50" r="2.9" fill="url(#gOr)"/>
<circle cx="233.05" cy="134.55" r="2.9" fill="url(#gOr)"/>
<circle cx="271.35" cy="133.45" r="2.9" fill="url(#gOr)"/>
<circle cx="252.25" cy="153.60" r="2.9" fill="url(#gOr)"/>
<circle cx="256.45" cy="136.10" r="2.9" fill="url(#gOr)"/>
<circle cx="252.15" cy="114.40" r="2.9" fill="url(#gOr)"/>
<g transform="translate(161.45,81.15)"><polygon points="1.4,-0.2 8.2,0.3 5.4,6.0" fill="#6a7aa0" fill-opacity="0.92"/><line x1="0" y1="0" x2="0.2" y2="-6.0" stroke="#d0a8a0" stroke-width="0.8"/><line x1="0" y1="0" x2="2.8" y2="-3.9" stroke="#d0a8a0" stroke-width="0.8"/><line x1="0" y1="0" x2="-5.5" y2="3.8" stroke="#d0a8a0" stroke-width="0.8"/><line x1="0" y1="0" x2="-2.9" y2="5.8" stroke="#d0a8a0" stroke-width="0.8"/><circle cx="0" cy="0" r="2.0" fill="url(#gMA)"/><circle cx="0.2" cy="-6.0" r="1.15" fill="#f4e8e6" stroke="#c49088" stroke-width="0.5"/><circle cx="2.8" cy="-3.9" r="1.15" fill="#f4e8e6" stroke="#c49088" stroke-width="0.5"/><circle cx="-5.5" cy="3.8" r="1.15" fill="#f4e8e6" stroke="#c49088" stroke-width="0.5"/><circle cx="-2.9" cy="5.8" r="1.15" fill="#f4e8e6" stroke="#c49088" stroke-width="0.5"/></g>
<g transform="translate(161.55,120.35)"><polygon points="1.4,-0.2 8.2,0.3 5.4,6.0" fill="#6a7aa0" fill-opacity="0.92"/><line x1="0" y1="0" x2="0.2" y2="-6.0" stroke="#d0a8a0" stroke-width="0.8"/><line x1="0" y1="0" x2="2.8" y2="-3.9" stroke="#d0a8a0" stroke-width="0.8"/><line x1="0" y1="0" x2="-5.5" y2="3.8" stroke="#d0a8a0" stroke-width="0.8"/><line x1="0" y1="0" x2="-2.9" y2="5.8" stroke="#d0a8a0" stroke-width="0.8"/><circle cx="0" cy="0" r="2.0" fill="url(#gMA)"/><circle cx="0.2" cy="-6.0" r="1.15" fill="#f4e8e6" stroke="#c49088" stroke-width="0.5"/><circle cx="2.8" cy="-3.9" r="1.15" fill="#f4e8e6" stroke="#c49088" stroke-width="0.5"/><circle cx="-5.5" cy="3.8" r="1.15" fill="#f4e8e6" stroke="#c49088" stroke-width="0.5"/><circle cx="-2.9" cy="5.8" r="1.15" fill="#f4e8e6" stroke="#c49088" stroke-width="0.5"/></g>
<g transform="translate(161.65,159.55)"><polygon points="1.4,-0.2 8.2,0.3 5.4,6.0" fill="#6a7aa0" fill-opacity="0.92"/><line x1="0" y1="0" x2="0.2" y2="-6.0" stroke="#d0a8a0" stroke-width="0.8"/><line x1="0" y1="0" x2="2.8" y2="-3.9" stroke="#d0a8a0" stroke-width="0.8"/><line x1="0" y1="0" x2="-5.5" y2="3.8" stroke="#d0a8a0" stroke-width="0.8"/><line x1="0" y1="0" x2="-2.9" y2="5.8" stroke="#d0a8a0" stroke-width="0.8"/><circle cx="0" cy="0" r="2.0" fill="url(#gMA)"/><circle cx="0.2" cy="-6.0" r="1.15" fill="#f4e8e6" stroke="#c49088" stroke-width="0.5"/><circle cx="2.8" cy="-3.9" r="1.15" fill="#f4e8e6" stroke="#c49088" stroke-width="0.5"/><circle cx="-5.5" cy="3.8" r="1.15" fill="#f4e8e6" stroke="#c49088" stroke-width="0.5"/><circle cx="-2.9" cy="5.8" r="1.15" fill="#f4e8e6" stroke="#c49088" stroke-width="0.5"/></g>
<g transform="translate(199.75,80.05)"><polygon points="1.4,-0.2 8.2,0.3 5.4,6.0" fill="#6a7aa0" fill-opacity="0.92"/><line x1="0" y1="0" x2="0.2" y2="-6.0" stroke="#d0a8a0" stroke-width="0.8"/><line x1="0" y1="0" x2="2.8" y2="-3.9" stroke="#d0a8a0" stroke-width="0.8"/><line x1="0" y1="0" x2="-5.5" y2="3.8" stroke="#d0a8a0" stroke-width="0.8"/><line x1="0" y1="0" x2="-2.9" y2="5.8" stroke="#d0a8a0" stroke-width="0.8"/><circle cx="0" cy="0" r="2.0" fill="url(#gMA)"/><circle cx="0.2" cy="-6.0" r="1.15" fill="#f4e8e6" stroke="#c49088" stroke-width="0.5"/><circle cx="2.8" cy="-3.9" r="1.15" fill="#f4e8e6" stroke="#c49088" stroke-width="0.5"/><circle cx="-5.5" cy="3.8" r="1.15" fill="#f4e8e6" stroke="#c49088" stroke-width="0.5"/><circle cx="-2.9" cy="5.8" r="1.15" fill="#f4e8e6" stroke="#c49088" stroke-width="0.5"/></g>
<g transform="translate(199.85,119.25)"><polygon points="1.4,-0.2 8.2,0.3 5.4,6.0" fill="#6a7aa0" fill-opacity="0.92"/><line x1="0" y1="0" x2="0.2" y2="-6.0" stroke="#d0a8a0" stroke-width="0.8"/><line x1="0" y1="0" x2="2.8" y2="-3.9" stroke="#d0a8a0" stroke-width="0.8"/><line x1="0" y1="0" x2="-5.5" y2="3.8" stroke="#d0a8a0" stroke-width="0.8"/><line x1="0" y1="0" x2="-2.9" y2="5.8" stroke="#d0a8a0" stroke-width="0.8"/><circle cx="0" cy="0" r="2.0" fill="url(#gMA)"/><circle cx="0.2" cy="-6.0" r="1.15" fill="#f4e8e6" stroke="#c49088" stroke-width="0.5"/><circle cx="2.8" cy="-3.9" r="1.15" fill="#f4e8e6" stroke="#c49088" stroke-width="0.5"/><circle cx="-5.5" cy="3.8" r="1.15" fill="#f4e8e6" stroke="#c49088" stroke-width="0.5"/><circle cx="-2.9" cy="5.8" r="1.15" fill="#f4e8e6" stroke="#c49088" stroke-width="0.5"/></g>
<g transform="translate(199.95,158.45)"><polygon points="1.4,-0.2 8.2,0.3 5.4,6.0" fill="#6a7aa0" fill-opacity="0.92"/><line x1="0" y1="0" x2="0.2" y2="-6.0" stroke="#d0a8a0" stroke-width="0.8"/><line x1="0" y1="0" x2="2.8" y2="-3.9" stroke="#d0a8a0" stroke-width="0.8"/><line x1="0" y1="0" x2="-5.5" y2="3.8" stroke="#d0a8a0" stroke-width="0.8"/><line x1="0" y1="0" x2="-2.9" y2="5.8" stroke="#d0a8a0" stroke-width="0.8"/><circle cx="0" cy="0" r="2.0" fill="url(#gMA)"/><circle cx="0.2" cy="-6.0" r="1.15" fill="#f4e8e6" stroke="#c49088" stroke-width="0.5"/><circle cx="2.8" cy="-3.9" r="1.15" fill="#f4e8e6" stroke="#c49088" stroke-width="0.5"/><circle cx="-5.5" cy="3.8" r="1.15" fill="#f4e8e6" stroke="#c49088" stroke-width="0.5"/><circle cx="-2.9" cy="5.8" r="1.15" fill="#f4e8e6" stroke="#c49088" stroke-width="0.5"/></g>
<g transform="translate(238.05,78.95)"><polygon points="1.4,-0.2 8.2,0.3 5.4,6.0" fill="#6a7aa0" fill-opacity="0.92"/><line x1="0" y1="0" x2="0.2" y2="-6.0" stroke="#d0a8a0" stroke-width="0.8"/><line x1="0" y1="0" x2="2.8" y2="-3.9" stroke="#d0a8a0" stroke-width="0.8"/><line x1="0" y1="0" x2="-5.5" y2="3.8" stroke="#d0a8a0" stroke-width="0.8"/><line x1="0" y1="0" x2="-2.9" y2="5.8" stroke="#d0a8a0" stroke-width="0.8"/><circle cx="0" cy="0" r="2.0" fill="url(#gMA)"/><circle cx="0.2" cy="-6.0" r="1.15" fill="#f4e8e6" stroke="#c49088" stroke-width="0.5"/><circle cx="2.8" cy="-3.9" r="1.15" fill="#f4e8e6" stroke="#c49088" stroke-width="0.5"/><circle cx="-5.5" cy="3.8" r="1.15" fill="#f4e8e6" stroke="#c49088" stroke-width="0.5"/><circle cx="-2.9" cy="5.8" r="1.15" fill="#f4e8e6" stroke="#c49088" stroke-width="0.5"/></g>
<g transform="translate(238.15,118.15)"><polygon points="1.4,-0.2 8.2,0.3 5.4,6.0" fill="#6a7aa0" fill-opacity="0.92"/><line x1="0" y1="0" x2="0.2" y2="-6.0" stroke="#d0a8a0" stroke-width="0.8"/><line x1="0" y1="0" x2="2.8" y2="-3.9" stroke="#d0a8a0" stroke-width="0.8"/><line x1="0" y1="0" x2="-5.5" y2="3.8" stroke="#d0a8a0" stroke-width="0.8"/><line x1="0" y1="0" x2="-2.9" y2="5.8" stroke="#d0a8a0" stroke-width="0.8"/><circle cx="0" cy="0" r="2.0" fill="url(#gMA)"/><circle cx="0.2" cy="-6.0" r="1.15" fill="#f4e8e6" stroke="#c49088" stroke-width="0.5"/><circle cx="2.8" cy="-3.9" r="1.15" fill="#f4e8e6" stroke="#c49088" stroke-width="0.5"/><circle cx="-5.5" cy="3.8" r="1.15" fill="#f4e8e6" stroke="#c49088" stroke-width="0.5"/><circle cx="-2.9" cy="5.8" r="1.15" fill="#f4e8e6" stroke="#c49088" stroke-width="0.5"/></g>
<g transform="translate(238.25,157.35)"><polygon points="1.4,-0.2 8.2,0.3 5.4,6.0" fill="#6a7aa0" fill-opacity="0.92"/><line x1="0" y1="0" x2="0.2" y2="-6.0" stroke="#d0a8a0" stroke-width="0.8"/><line x1="0" y1="0" x2="2.8" y2="-3.9" stroke="#d0a8a0" stroke-width="0.8"/><line x1="0" y1="0" x2="-5.5" y2="3.8" stroke="#d0a8a0" stroke-width="0.8"/><line x1="0" y1="0" x2="-2.9" y2="5.8" stroke="#d0a8a0" stroke-width="0.8"/><circle cx="0" cy="0" r="2.0" fill="url(#gMA)"/><circle cx="0.2" cy="-6.0" r="1.15" fill="#f4e8e6" stroke="#c49088" stroke-width="0.5"/><circle cx="2.8" cy="-3.9" r="1.15" fill="#f4e8e6" stroke="#c49088" stroke-width="0.5"/><circle cx="-5.5" cy="3.8" r="1.15" fill="#f4e8e6" stroke="#c49088" stroke-width="0.5"/><circle cx="-2.9" cy="5.8" r="1.15" fill="#f4e8e6" stroke="#c49088" stroke-width="0.5"/></g>
<g transform="translate(276.35,77.85)"><polygon points="1.4,-0.2 8.2,0.3 5.4,6.0" fill="#6a7aa0" fill-opacity="0.92"/><line x1="0" y1="0" x2="0.2" y2="-6.0" stroke="#d0a8a0" stroke-width="0.8"/><line x1="0" y1="0" x2="2.8" y2="-3.9" stroke="#d0a8a0" stroke-width="0.8"/><line x1="0" y1="0" x2="-5.5" y2="3.8" stroke="#d0a8a0" stroke-width="0.8"/><line x1="0" y1="0" x2="-2.9" y2="5.8" stroke="#d0a8a0" stroke-width="0.8"/><circle cx="0" cy="0" r="2.0" fill="url(#gMA)"/><circle cx="0.2" cy="-6.0" r="1.15" fill="#f4e8e6" stroke="#c49088" stroke-width="0.5"/><circle cx="2.8" cy="-3.9" r="1.15" fill="#f4e8e6" stroke="#c49088" stroke-width="0.5"/><circle cx="-5.5" cy="3.8" r="1.15" fill="#f4e8e6" stroke="#c49088" stroke-width="0.5"/><circle cx="-2.9" cy="5.8" r="1.15" fill="#f4e8e6" stroke="#c49088" stroke-width="0.5"/></g>
<g transform="translate(276.45,117.05)"><polygon points="1.4,-0.2 8.2,0.3 5.4,6.0" fill="#6a7aa0" fill-opacity="0.92"/><line x1="0" y1="0" x2="0.2" y2="-6.0" stroke="#d0a8a0" stroke-width="0.8"/><line x1="0" y1="0" x2="2.8" y2="-3.9" stroke="#d0a8a0" stroke-width="0.8"/><line x1="0" y1="0" x2="-5.5" y2="3.8" stroke="#d0a8a0" stroke-width="0.8"/><line x1="0" y1="0" x2="-2.9" y2="5.8" stroke="#d0a8a0" stroke-width="0.8"/><circle cx="0" cy="0" r="2.0" fill="url(#gMA)"/><circle cx="0.2" cy="-6.0" r="1.15" fill="#f4e8e6" stroke="#c49088" stroke-width="0.5"/><circle cx="2.8" cy="-3.9" r="1.15" fill="#f4e8e6" stroke="#c49088" stroke-width="0.5"/><circle cx="-5.5" cy="3.8" r="1.15" fill="#f4e8e6" stroke="#c49088" stroke-width="0.5"/><circle cx="-2.9" cy="5.8" r="1.15" fill="#f4e8e6" stroke="#c49088" stroke-width="0.5"/></g>
<g transform="translate(276.55,156.25)"><polygon points="1.4,-0.2 8.2,0.3 5.4,6.0" fill="#6a7aa0" fill-opacity="0.92"/><line x1="0" y1="0" x2="0.2" y2="-6.0" stroke="#d0a8a0" stroke-width="0.8"/><line x1="0" y1="0" x2="2.8" y2="-3.9" stroke="#d0a8a0" stroke-width="0.8"/><line x1="0" y1="0" x2="-5.5" y2="3.8" stroke="#d0a8a0" stroke-width="0.8"/><line x1="0" y1="0" x2="-2.9" y2="5.8" stroke="#d0a8a0" stroke-width="0.8"/><circle cx="0" cy="0" r="2.0" fill="url(#gMA)"/><circle cx="0.2" cy="-6.0" r="1.15" fill="#f4e8e6" stroke="#c49088" stroke-width="0.5"/><circle cx="2.8" cy="-3.9" r="1.15" fill="#f4e8e6" stroke="#c49088" stroke-width="0.5"/><circle cx="-5.5" cy="3.8" r="1.15" fill="#f4e8e6" stroke="#c49088" stroke-width="0.5"/><circle cx="-2.9" cy="5.8" r="1.15" fill="#f4e8e6" stroke="#c49088" stroke-width="0.5"/></g>
<line x1="183.90" y1="62.00" x2="193.47" y2="61.73" stroke="#1a7070" stroke-width="1.0" />
<line x1="193.47" y1="61.73" x2="203.05" y2="61.45" stroke="#c87868" stroke-width="1.0" />
<line x1="183.90" y1="62.00" x2="174.33" y2="62.27" stroke="#1a7070" stroke-width="1.0" />
<line x1="174.33" y1="62.27" x2="164.75" y2="62.55" stroke="#c87868" stroke-width="1.0" />
<line x1="183.90" y1="62.00" x2="183.93" y2="71.80" stroke="#1a7070" stroke-width="1.0" />
<line x1="183.93" y1="71.80" x2="183.95" y2="81.60" stroke="#c87868" stroke-width="1.0" />
<circle cx="179.65" cy="59.90" r="2.9" fill="url(#gOr)"/>
<polygon points="164.75,62.55 188.15,64.10 183.95,81.60" fill="#3f46aa" fill-opacity="0.5" stroke="#8a90e0" stroke-opacity="0.35" stroke-width="0.4"/>
<polygon points="188.15,64.10 203.05,61.45 183.95,81.60" fill="#3f46aa" fill-opacity="0.58" stroke="#8a90e0" stroke-opacity="0.35" stroke-width="0.4"/>
<polygon points="164.75,62.55 179.65,59.90 183.95,81.60" fill="#3f46aa" fill-opacity="0.34" stroke="#8a90e0" stroke-opacity="0.35" stroke-width="0.4"/>
<polygon points="179.65,59.90 203.05,61.45 183.95,81.60" fill="#3f46aa" fill-opacity="0.38" stroke="#8a90e0" stroke-opacity="0.35" stroke-width="0.4"/>
<polygon points="164.75,62.55 188.15,64.10 203.05,61.45 179.65,59.90" fill="#3f46aa" fill-opacity="0.36" stroke="#8a90e0" stroke-opacity="0.35" stroke-width="0.4"/>
<circle cx="183.90" cy="62.00" r="5.0" fill="url(#gPbG)"/>
<line x1="222.20" y1="60.90" x2="231.77" y2="60.63" stroke="#1a7070" stroke-width="1.0" />
<line x1="231.77" y1="60.63" x2="241.35" y2="60.35" stroke="#c87868" stroke-width="1.0" />
<line x1="222.20" y1="60.90" x2="212.62" y2="61.18" stroke="#1a7070" stroke-width="1.0" />
<line x1="212.62" y1="61.18" x2="203.05" y2="61.45" stroke="#c87868" stroke-width="1.0" />
<line x1="222.20" y1="60.90" x2="222.22" y2="70.70" stroke="#1a7070" stroke-width="1.0" />
<line x1="222.22" y1="70.70" x2="222.25" y2="80.50" stroke="#c87868" stroke-width="1.0" />
<circle cx="217.95" cy="58.80" r="2.9" fill="url(#gOr)"/>
<polygon points="203.05,61.45 226.45,63.00 222.25,80.50" fill="#3f46aa" fill-opacity="0.5" stroke="#8a90e0" stroke-opacity="0.35" stroke-width="0.4"/>
<polygon points="226.45,63.00 241.35,60.35 222.25,80.50" fill="#3f46aa" fill-opacity="0.58" stroke="#8a90e0" stroke-opacity="0.35" stroke-width="0.4"/>
<polygon points="203.05,61.45 217.95,58.80 222.25,80.50" fill="#3f46aa" fill-opacity="0.34" stroke="#8a90e0" stroke-opacity="0.35" stroke-width="0.4"/>
<polygon points="217.95,58.80 241.35,60.35 222.25,80.50" fill="#3f46aa" fill-opacity="0.38" stroke="#8a90e0" stroke-opacity="0.35" stroke-width="0.4"/>
<polygon points="203.05,61.45 226.45,63.00 241.35,60.35 217.95,58.80" fill="#3f46aa" fill-opacity="0.36" stroke="#8a90e0" stroke-opacity="0.35" stroke-width="0.4"/>
<circle cx="222.20" cy="60.90" r="5.0" fill="url(#gPbG)"/>
<line x1="260.50" y1="59.80" x2="270.07" y2="59.52" stroke="#1a7070" stroke-width="1.0" />
<line x1="270.07" y1="59.52" x2="279.65" y2="59.25" stroke="#c87868" stroke-width="1.0" />
<line x1="260.50" y1="59.80" x2="250.93" y2="60.07" stroke="#1a7070" stroke-width="1.0" />
<line x1="250.93" y1="60.07" x2="241.35" y2="60.35" stroke="#c87868" stroke-width="1.0" />
<line x1="260.50" y1="59.80" x2="260.52" y2="69.60" stroke="#1a7070" stroke-width="1.0" />
<line x1="260.52" y1="69.60" x2="260.55" y2="79.40" stroke="#c87868" stroke-width="1.0" />
<circle cx="256.25" cy="57.70" r="2.9" fill="url(#gOr)"/>
<polygon points="241.35,60.35 264.75,61.90 260.55,79.40" fill="#3f46aa" fill-opacity="0.5" stroke="#8a90e0" stroke-opacity="0.35" stroke-width="0.4"/>
<polygon points="264.75,61.90 279.65,59.25 260.55,79.40" fill="#3f46aa" fill-opacity="0.58" stroke="#8a90e0" stroke-opacity="0.35" stroke-width="0.4"/>
<polygon points="241.35,60.35 256.25,57.70 260.55,79.40" fill="#3f46aa" fill-opacity="0.34" stroke="#8a90e0" stroke-opacity="0.35" stroke-width="0.4"/>
<polygon points="256.25,57.70 279.65,59.25 260.55,79.40" fill="#3f46aa" fill-opacity="0.38" stroke="#8a90e0" stroke-opacity="0.35" stroke-width="0.4"/>
<polygon points="241.35,60.35 264.75,61.90 279.65,59.25 256.25,57.70" fill="#3f46aa" fill-opacity="0.36" stroke="#8a90e0" stroke-opacity="0.35" stroke-width="0.4"/>
<circle cx="260.50" cy="59.80" r="5.0" fill="url(#gPbG)"/>
<line x1="184.00" y1="101.20" x2="193.57" y2="100.92" stroke="#1a7070" stroke-width="1.0" />
<line x1="193.57" y1="100.92" x2="203.15" y2="100.65" stroke="#c87868" stroke-width="1.0" />
<line x1="184.00" y1="101.20" x2="174.43" y2="101.48" stroke="#1a7070" stroke-width="1.0" />
<line x1="174.43" y1="101.48" x2="164.85" y2="101.75" stroke="#c87868" stroke-width="1.0" />
<line x1="184.00" y1="101.20" x2="184.03" y2="111.00" stroke="#1a7070" stroke-width="1.0" />
<line x1="184.03" y1="111.00" x2="184.05" y2="120.80" stroke="#c87868" stroke-width="1.0" />
<line x1="184.00" y1="101.20" x2="183.97" y2="91.40" stroke="#1a7070" stroke-width="1.0" />
<line x1="183.97" y1="91.40" x2="183.95" y2="81.60" stroke="#c87868" stroke-width="1.0" />
<circle cx="179.75" cy="99.10" r="2.9" fill="url(#gOr)"/>
<polygon points="179.75,99.10 183.95,81.60 164.85,101.75" fill="#3f46aa" fill-opacity="0.24" stroke="#8a90e0" stroke-opacity="0.35" stroke-width="0.4"/>
<polygon points="179.75,99.10 203.15,100.65 183.95,81.60" fill="#3f46aa" fill-opacity="0.24" stroke="#8a90e0" stroke-opacity="0.35" stroke-width="0.4"/>
<polygon points="179.75,99.10 164.85,101.75 184.05,120.80" fill="#3f46aa" fill-opacity="0.24" stroke="#8a90e0" stroke-opacity="0.35" stroke-width="0.4"/>
<polygon points="179.75,99.10 184.05,120.80 203.15,100.65" fill="#3f46aa" fill-opacity="0.24" stroke="#8a90e0" stroke-opacity="0.35" stroke-width="0.4"/>
<polygon points="188.25,103.30 183.95,81.60 164.85,101.75" fill="#3f46aa" fill-opacity="0.5" stroke="#8a90e0" stroke-opacity="0.35" stroke-width="0.4"/>
<polygon points="188.25,103.30 203.15,100.65 183.95,81.60" fill="#3f46aa" fill-opacity="0.42" stroke="#8a90e0" stroke-opacity="0.35" stroke-width="0.4"/>
<polygon points="188.25,103.30 164.85,101.75 184.05,120.80" fill="#3f46aa" fill-opacity="0.58" stroke="#8a90e0" stroke-opacity="0.35" stroke-width="0.4"/>
<polygon points="188.25,103.30 184.05,120.80 203.15,100.65" fill="#3f46aa" fill-opacity="0.48" stroke="#8a90e0" stroke-opacity="0.35" stroke-width="0.4"/>
<circle cx="184.00" cy="101.20" r="4.3" fill="url(#gPb)"/>
<line x1="222.30" y1="100.10" x2="231.87" y2="99.83" stroke="#1a7070" stroke-width="1.0" />
<line x1="231.87" y1="99.83" x2="241.45" y2="99.55" stroke="#c87868" stroke-width="1.0" />
<line x1="222.30" y1="100.10" x2="212.72" y2="100.38" stroke="#1a7070" stroke-width="1.0" />
<line x1="212.72" y1="100.38" x2="203.15" y2="100.65" stroke="#c87868" stroke-width="1.0" />
<line x1="222.30" y1="100.10" x2="222.32" y2="109.90" stroke="#1a7070" stroke-width="1.0" />
<line x1="222.32" y1="109.90" x2="222.35" y2="119.70" stroke="#c87868" stroke-width="1.0" />
<line x1="222.30" y1="100.10" x2="222.27" y2="90.30" stroke="#1a7070" stroke-width="1.0" />
<line x1="222.27" y1="90.30" x2="222.25" y2="80.50" stroke="#c87868" stroke-width="1.0" />
<circle cx="218.05" cy="98.00" r="2.9" fill="url(#gOr)"/>
<polygon points="218.05,98.00 222.25,80.50 203.15,100.65" fill="#3f46aa" fill-opacity="0.24" stroke="#8a90e0" stroke-opacity="0.35" stroke-width="0.4"/>
<polygon points="218.05,98.00 241.45,99.55 222.25,80.50" fill="#3f46aa" fill-opacity="0.24" stroke="#8a90e0" stroke-opacity="0.35" stroke-width="0.4"/>
<polygon points="218.05,98.00 203.15,100.65 222.35,119.70" fill="#3f46aa" fill-opacity="0.24" stroke="#8a90e0" stroke-opacity="0.35" stroke-width="0.4"/>
<polygon points="218.05,98.00 222.35,119.70 241.45,99.55" fill="#3f46aa" fill-opacity="0.24" stroke="#8a90e0" stroke-opacity="0.35" stroke-width="0.4"/>
<polygon points="226.55,102.20 222.25,80.50 203.15,100.65" fill="#3f46aa" fill-opacity="0.5" stroke="#8a90e0" stroke-opacity="0.35" stroke-width="0.4"/>
<polygon points="226.55,102.20 241.45,99.55 222.25,80.50" fill="#3f46aa" fill-opacity="0.42" stroke="#8a90e0" stroke-opacity="0.35" stroke-width="0.4"/>
<polygon points="226.55,102.20 203.15,100.65 222.35,119.70" fill="#3f46aa" fill-opacity="0.58" stroke="#8a90e0" stroke-opacity="0.35" stroke-width="0.4"/>
<polygon points="226.55,102.20 222.35,119.70 241.45,99.55" fill="#3f46aa" fill-opacity="0.48" stroke="#8a90e0" stroke-opacity="0.35" stroke-width="0.4"/>
<circle cx="222.30" cy="100.10" r="4.3" fill="url(#gPb)"/>
<line x1="260.60" y1="99.00" x2="270.18" y2="98.72" stroke="#1a7070" stroke-width="1.0" />
<line x1="270.18" y1="98.72" x2="279.75" y2="98.45" stroke="#c87868" stroke-width="1.0" />
<line x1="260.60" y1="99.00" x2="251.03" y2="99.28" stroke="#1a7070" stroke-width="1.0" />
<line x1="251.03" y1="99.28" x2="241.45" y2="99.55" stroke="#c87868" stroke-width="1.0" />
<line x1="260.60" y1="99.00" x2="260.62" y2="108.80" stroke="#1a7070" stroke-width="1.0" />
<line x1="260.62" y1="108.80" x2="260.65" y2="118.60" stroke="#c87868" stroke-width="1.0" />
<line x1="260.60" y1="99.00" x2="260.58" y2="89.20" stroke="#1a7070" stroke-width="1.0" />
<line x1="260.58" y1="89.20" x2="260.55" y2="79.40" stroke="#c87868" stroke-width="1.0" />
<circle cx="256.35" cy="96.90" r="2.9" fill="url(#gOr)"/>
<polygon points="256.35,96.90 260.55,79.40 241.45,99.55" fill="#3f46aa" fill-opacity="0.24" stroke="#8a90e0" stroke-opacity="0.35" stroke-width="0.4"/>
<polygon points="256.35,96.90 279.75,98.45 260.55,79.40" fill="#3f46aa" fill-opacity="0.24" stroke="#8a90e0" stroke-opacity="0.35" stroke-width="0.4"/>
<polygon points="256.35,96.90 241.45,99.55 260.65,118.60" fill="#3f46aa" fill-opacity="0.24" stroke="#8a90e0" stroke-opacity="0.35" stroke-width="0.4"/>
<polygon points="256.35,96.90 260.65,118.60 279.75,98.45" fill="#3f46aa" fill-opacity="0.24" stroke="#8a90e0" stroke-opacity="0.35" stroke-width="0.4"/>
<polygon points="264.85,101.10 260.55,79.40 241.45,99.55" fill="#3f46aa" fill-opacity="0.5" stroke="#8a90e0" stroke-opacity="0.35" stroke-width="0.4"/>
<polygon points="264.85,101.10 279.75,98.45 260.55,79.40" fill="#3f46aa" fill-opacity="0.42" stroke="#8a90e0" stroke-opacity="0.35" stroke-width="0.4"/>
<polygon points="264.85,101.10 241.45,99.55 260.65,118.60" fill="#3f46aa" fill-opacity="0.58" stroke="#8a90e0" stroke-opacity="0.35" stroke-width="0.4"/>
<polygon points="264.85,101.10 260.65,118.60 279.75,98.45" fill="#3f46aa" fill-opacity="0.48" stroke="#8a90e0" stroke-opacity="0.35" stroke-width="0.4"/>
<circle cx="260.60" cy="99.00" r="4.3" fill="url(#gPb)"/>
<line x1="184.10" y1="140.40" x2="193.67" y2="140.13" stroke="#1a7070" stroke-width="1.0" />
<line x1="193.67" y1="140.13" x2="203.25" y2="139.85" stroke="#c87868" stroke-width="1.0" />
<line x1="184.10" y1="140.40" x2="174.53" y2="140.68" stroke="#1a7070" stroke-width="1.0" />
<line x1="174.53" y1="140.68" x2="164.95" y2="140.95" stroke="#c87868" stroke-width="1.0" />
<line x1="184.10" y1="140.40" x2="184.12" y2="150.20" stroke="#1a7070" stroke-width="1.0" />
<line x1="184.12" y1="150.20" x2="184.15" y2="160.00" stroke="#c87868" stroke-width="1.0" />
<line x1="184.10" y1="140.40" x2="184.07" y2="130.60" stroke="#1a7070" stroke-width="1.0" />
<line x1="184.07" y1="130.60" x2="184.05" y2="120.80" stroke="#c87868" stroke-width="1.0" />
<circle cx="179.85" cy="138.30" r="2.9" fill="url(#gOr)"/>
<polygon points="179.85,138.30 184.05,120.80 164.95,140.95" fill="#3f46aa" fill-opacity="0.24" stroke="#8a90e0" stroke-opacity="0.35" stroke-width="0.4"/>
<polygon points="179.85,138.30 203.25,139.85 184.05,120.80" fill="#3f46aa" fill-opacity="0.24" stroke="#8a90e0" stroke-opacity="0.35" stroke-width="0.4"/>
<polygon points="179.85,138.30 164.95,140.95 184.15,160.00" fill="#3f46aa" fill-opacity="0.24" stroke="#8a90e0" stroke-opacity="0.35" stroke-width="0.4"/>
<polygon points="179.85,138.30 184.15,160.00 203.25,139.85" fill="#3f46aa" fill-opacity="0.24" stroke="#8a90e0" stroke-opacity="0.35" stroke-width="0.4"/>
<polygon points="188.35,142.50 184.05,120.80 164.95,140.95" fill="#3f46aa" fill-opacity="0.5" stroke="#8a90e0" stroke-opacity="0.35" stroke-width="0.4"/>
<polygon points="188.35,142.50 203.25,139.85 184.05,120.80" fill="#3f46aa" fill-opacity="0.42" stroke="#8a90e0" stroke-opacity="0.35" stroke-width="0.4"/>
<polygon points="188.35,142.50 164.95,140.95 184.15,160.00" fill="#3f46aa" fill-opacity="0.58" stroke="#8a90e0" stroke-opacity="0.35" stroke-width="0.4"/>
<polygon points="188.35,142.50 184.15,160.00 203.25,139.85" fill="#3f46aa" fill-opacity="0.48" stroke="#8a90e0" stroke-opacity="0.35" stroke-width="0.4"/>
<circle cx="184.10" cy="140.40" r="4.3" fill="url(#gPb)"/>
<line x1="222.40" y1="139.30" x2="231.97" y2="139.03" stroke="#1a7070" stroke-width="1.0" />
<line x1="231.97" y1="139.03" x2="241.55" y2="138.75" stroke="#c87868" stroke-width="1.0" />
<line x1="222.40" y1="139.30" x2="212.82" y2="139.58" stroke="#1a7070" stroke-width="1.0" />
<line x1="212.82" y1="139.58" x2="203.25" y2="139.85" stroke="#c87868" stroke-width="1.0" />
<line x1="222.40" y1="139.30" x2="222.42" y2="149.10" stroke="#1a7070" stroke-width="1.0" />
<line x1="222.42" y1="149.10" x2="222.45" y2="158.90" stroke="#c87868" stroke-width="1.0" />
<line x1="222.40" y1="139.30" x2="222.37" y2="129.50" stroke="#1a7070" stroke-width="1.0" />
<line x1="222.37" y1="129.50" x2="222.35" y2="119.70" stroke="#c87868" stroke-width="1.0" />
<circle cx="218.15" cy="137.20" r="2.9" fill="url(#gOr)"/>
<polygon points="218.15,137.20 222.35,119.70 203.25,139.85" fill="#3f46aa" fill-opacity="0.24" stroke="#8a90e0" stroke-opacity="0.35" stroke-width="0.4"/>
<polygon points="218.15,137.20 241.55,138.75 222.35,119.70" fill="#3f46aa" fill-opacity="0.24" stroke="#8a90e0" stroke-opacity="0.35" stroke-width="0.4"/>
<polygon points="218.15,137.20 203.25,139.85 222.45,158.90" fill="#3f46aa" fill-opacity="0.24" stroke="#8a90e0" stroke-opacity="0.35" stroke-width="0.4"/>
<polygon points="218.15,137.20 222.45,158.90 241.55,138.75" fill="#3f46aa" fill-opacity="0.24" stroke="#8a90e0" stroke-opacity="0.35" stroke-width="0.4"/>
<polygon points="226.65,141.40 222.35,119.70 203.25,139.85" fill="#3f46aa" fill-opacity="0.5" stroke="#8a90e0" stroke-opacity="0.35" stroke-width="0.4"/>
<polygon points="226.65,141.40 241.55,138.75 222.35,119.70" fill="#3f46aa" fill-opacity="0.42" stroke="#8a90e0" stroke-opacity="0.35" stroke-width="0.4"/>
<polygon points="226.65,141.40 203.25,139.85 222.45,158.90" fill="#3f46aa" fill-opacity="0.58" stroke="#8a90e0" stroke-opacity="0.35" stroke-width="0.4"/>
<polygon points="226.65,141.40 222.45,158.90 241.55,138.75" fill="#3f46aa" fill-opacity="0.48" stroke="#8a90e0" stroke-opacity="0.35" stroke-width="0.4"/>
<circle cx="222.40" cy="139.30" r="4.3" fill="url(#gPb)"/>
<line x1="260.70" y1="138.20" x2="270.27" y2="137.93" stroke="#1a7070" stroke-width="1.0" />
<line x1="270.27" y1="137.93" x2="279.85" y2="137.65" stroke="#c87868" stroke-width="1.0" />
<line x1="260.70" y1="138.20" x2="251.12" y2="138.48" stroke="#1a7070" stroke-width="1.0" />
<line x1="251.12" y1="138.48" x2="241.55" y2="138.75" stroke="#c87868" stroke-width="1.0" />
<line x1="260.70" y1="138.20" x2="260.72" y2="148.00" stroke="#1a7070" stroke-width="1.0" />
<line x1="260.72" y1="148.00" x2="260.75" y2="157.80" stroke="#c87868" stroke-width="1.0" />
<line x1="260.70" y1="138.20" x2="260.68" y2="128.40" stroke="#1a7070" stroke-width="1.0" />
<line x1="260.68" y1="128.40" x2="260.65" y2="118.60" stroke="#c87868" stroke-width="1.0" />
<circle cx="256.45" cy="136.10" r="2.9" fill="url(#gOr)"/>
<polygon points="256.45,136.10 260.65,118.60 241.55,138.75" fill="#3f46aa" fill-opacity="0.24" stroke="#8a90e0" stroke-opacity="0.35" stroke-width="0.4"/>
<polygon points="256.45,136.10 279.85,137.65 260.65,118.60" fill="#3f46aa" fill-opacity="0.24" stroke="#8a90e0" stroke-opacity="0.35" stroke-width="0.4"/>
<polygon points="256.45,136.10 241.55,138.75 260.75,157.80" fill="#3f46aa" fill-opacity="0.24" stroke="#8a90e0" stroke-opacity="0.35" stroke-width="0.4"/>
<polygon points="256.45,136.10 260.75,157.80 279.85,137.65" fill="#3f46aa" fill-opacity="0.24" stroke="#8a90e0" stroke-opacity="0.35" stroke-width="0.4"/>
<polygon points="264.95,140.30 260.65,118.60 241.55,138.75" fill="#3f46aa" fill-opacity="0.5" stroke="#8a90e0" stroke-opacity="0.35" stroke-width="0.4"/>
<polygon points="264.95,140.30 279.85,137.65 260.65,118.60" fill="#3f46aa" fill-opacity="0.42" stroke="#8a90e0" stroke-opacity="0.35" stroke-width="0.4"/>
<polygon points="264.95,140.30 241.55,138.75 260.75,157.80" fill="#3f46aa" fill-opacity="0.58" stroke="#8a90e0" stroke-opacity="0.35" stroke-width="0.4"/>
<polygon points="264.95,140.30 260.75,157.80 279.85,137.65" fill="#3f46aa" fill-opacity="0.48" stroke="#8a90e0" stroke-opacity="0.35" stroke-width="0.4"/>
<circle cx="260.70" cy="138.20" r="4.3" fill="url(#gPb)"/>
<circle cx="164.75" cy="62.55" r="2.9" fill="url(#gOr)"/>
<circle cx="203.05" cy="61.45" r="2.9" fill="url(#gOr)"/>
<circle cx="183.95" cy="81.60" r="2.9" fill="url(#gOr)"/>
<circle cx="188.15" cy="64.10" r="2.9" fill="url(#gOr)"/>
<circle cx="203.05" cy="61.45" r="2.9" fill="url(#gOr)"/>
<circle cx="241.35" cy="60.35" r="2.9" fill="url(#gOr)"/>
<circle cx="222.25" cy="80.50" r="2.9" fill="url(#gOr)"/>
<circle cx="226.45" cy="63.00" r="2.9" fill="url(#gOr)"/>
<circle cx="241.35" cy="60.35" r="2.9" fill="url(#gOr)"/>
<circle cx="279.65" cy="59.25" r="2.9" fill="url(#gOr)"/>
<circle cx="260.55" cy="79.40" r="2.9" fill="url(#gOr)"/>
<circle cx="264.75" cy="61.90" r="2.9" fill="url(#gOr)"/>
<circle cx="164.85" cy="101.75" r="2.9" fill="url(#gOr)"/>
<circle cx="203.15" cy="100.65" r="2.9" fill="url(#gOr)"/>
<circle cx="184.05" cy="120.80" r="2.9" fill="url(#gOr)"/>
<circle cx="188.25" cy="103.30" r="2.9" fill="url(#gOr)"/>
<circle cx="183.95" cy="81.60" r="2.9" fill="url(#gOr)"/>
<circle cx="203.15" cy="100.65" r="2.9" fill="url(#gOr)"/>
<circle cx="241.45" cy="99.55" r="2.9" fill="url(#gOr)"/>
<circle cx="222.35" cy="119.70" r="2.9" fill="url(#gOr)"/>
<circle cx="226.55" cy="102.20" r="2.9" fill="url(#gOr)"/>
<circle cx="222.25" cy="80.50" r="2.9" fill="url(#gOr)"/>
<circle cx="241.45" cy="99.55" r="2.9" fill="url(#gOr)"/>
<circle cx="279.75" cy="98.45" r="2.9" fill="url(#gOr)"/>
<circle cx="260.65" cy="118.60" r="2.9" fill="url(#gOr)"/>
<circle cx="264.85" cy="101.10" r="2.9" fill="url(#gOr)"/>
<circle cx="260.55" cy="79.40" r="2.9" fill="url(#gOr)"/>
<circle cx="164.95" cy="140.95" r="2.9" fill="url(#gOr)"/>
<circle cx="203.25" cy="139.85" r="2.9" fill="url(#gOr)"/>
<circle cx="184.15" cy="160.00" r="2.9" fill="url(#gOr)"/>
<circle cx="188.35" cy="142.50" r="2.9" fill="url(#gOr)"/>
<circle cx="184.05" cy="120.80" r="2.9" fill="url(#gOr)"/>
<circle cx="203.25" cy="139.85" r="2.9" fill="url(#gOr)"/>
<circle cx="241.55" cy="138.75" r="2.9" fill="url(#gOr)"/>
<circle cx="222.45" cy="158.90" r="2.9" fill="url(#gOr)"/>
<circle cx="226.65" cy="141.40" r="2.9" fill="url(#gOr)"/>
<circle cx="222.35" cy="119.70" r="2.9" fill="url(#gOr)"/>
<circle cx="241.55" cy="138.75" r="2.9" fill="url(#gOr)"/>
<circle cx="279.85" cy="137.65" r="2.9" fill="url(#gOr)"/>
<circle cx="260.75" cy="157.80" r="2.9" fill="url(#gOr)"/>
<circle cx="264.95" cy="140.30" r="2.9" fill="url(#gOr)"/>
<circle cx="260.65" cy="118.60" r="2.9" fill="url(#gOr)"/>
<g transform="translate(169.95,85.35)"><polygon points="1.4,-0.2 8.2,0.3 5.4,6.0" fill="#6a7aa0" fill-opacity="0.92"/><line x1="0" y1="0" x2="0.2" y2="-6.0" stroke="#d0a8a0" stroke-width="0.8"/><line x1="0" y1="0" x2="2.8" y2="-3.9" stroke="#d0a8a0" stroke-width="0.8"/><line x1="0" y1="0" x2="-5.5" y2="3.8" stroke="#d0a8a0" stroke-width="0.8"/><line x1="0" y1="0" x2="-2.9" y2="5.8" stroke="#d0a8a0" stroke-width="0.8"/><circle cx="0" cy="0" r="2.0" fill="url(#gMA)"/><circle cx="0.2" cy="-6.0" r="1.15" fill="#f4e8e6" stroke="#c49088" stroke-width="0.5"/><circle cx="2.8" cy="-3.9" r="1.15" fill="#f4e8e6" stroke="#c49088" stroke-width="0.5"/><circle cx="-5.5" cy="3.8" r="1.15" fill="#f4e8e6" stroke="#c49088" stroke-width="0.5"/><circle cx="-2.9" cy="5.8" r="1.15" fill="#f4e8e6" stroke="#c49088" stroke-width="0.5"/></g>
<g transform="translate(170.05,124.55)"><polygon points="1.4,-0.2 8.2,0.3 5.4,6.0" fill="#6a7aa0" fill-opacity="0.92"/><line x1="0" y1="0" x2="0.2" y2="-6.0" stroke="#d0a8a0" stroke-width="0.8"/><line x1="0" y1="0" x2="2.8" y2="-3.9" stroke="#d0a8a0" stroke-width="0.8"/><line x1="0" y1="0" x2="-5.5" y2="3.8" stroke="#d0a8a0" stroke-width="0.8"/><line x1="0" y1="0" x2="-2.9" y2="5.8" stroke="#d0a8a0" stroke-width="0.8"/><circle cx="0" cy="0" r="2.0" fill="url(#gMA)"/><circle cx="0.2" cy="-6.0" r="1.15" fill="#f4e8e6" stroke="#c49088" stroke-width="0.5"/><circle cx="2.8" cy="-3.9" r="1.15" fill="#f4e8e6" stroke="#c49088" stroke-width="0.5"/><circle cx="-5.5" cy="3.8" r="1.15" fill="#f4e8e6" stroke="#c49088" stroke-width="0.5"/><circle cx="-2.9" cy="5.8" r="1.15" fill="#f4e8e6" stroke="#c49088" stroke-width="0.5"/></g>
<g transform="translate(170.15,163.75)"><polygon points="1.4,-0.2 8.2,0.3 5.4,6.0" fill="#6a7aa0" fill-opacity="0.92"/><line x1="0" y1="0" x2="0.2" y2="-6.0" stroke="#d0a8a0" stroke-width="0.8"/><line x1="0" y1="0" x2="2.8" y2="-3.9" stroke="#d0a8a0" stroke-width="0.8"/><line x1="0" y1="0" x2="-5.5" y2="3.8" stroke="#d0a8a0" stroke-width="0.8"/><line x1="0" y1="0" x2="-2.9" y2="5.8" stroke="#d0a8a0" stroke-width="0.8"/><circle cx="0" cy="0" r="2.0" fill="url(#gMA)"/><circle cx="0.2" cy="-6.0" r="1.15" fill="#f4e8e6" stroke="#c49088" stroke-width="0.5"/><circle cx="2.8" cy="-3.9" r="1.15" fill="#f4e8e6" stroke="#c49088" stroke-width="0.5"/><circle cx="-5.5" cy="3.8" r="1.15" fill="#f4e8e6" stroke="#c49088" stroke-width="0.5"/><circle cx="-2.9" cy="5.8" r="1.15" fill="#f4e8e6" stroke="#c49088" stroke-width="0.5"/></g>
<g transform="translate(208.25,84.25)"><polygon points="1.4,-0.2 8.2,0.3 5.4,6.0" fill="#6a7aa0" fill-opacity="0.92"/><line x1="0" y1="0" x2="0.2" y2="-6.0" stroke="#d0a8a0" stroke-width="0.8"/><line x1="0" y1="0" x2="2.8" y2="-3.9" stroke="#d0a8a0" stroke-width="0.8"/><line x1="0" y1="0" x2="-5.5" y2="3.8" stroke="#d0a8a0" stroke-width="0.8"/><line x1="0" y1="0" x2="-2.9" y2="5.8" stroke="#d0a8a0" stroke-width="0.8"/><circle cx="0" cy="0" r="2.0" fill="url(#gMA)"/><circle cx="0.2" cy="-6.0" r="1.15" fill="#f4e8e6" stroke="#c49088" stroke-width="0.5"/><circle cx="2.8" cy="-3.9" r="1.15" fill="#f4e8e6" stroke="#c49088" stroke-width="0.5"/><circle cx="-5.5" cy="3.8" r="1.15" fill="#f4e8e6" stroke="#c49088" stroke-width="0.5"/><circle cx="-2.9" cy="5.8" r="1.15" fill="#f4e8e6" stroke="#c49088" stroke-width="0.5"/></g>
<g transform="translate(208.35,123.45)"><polygon points="1.4,-0.2 8.2,0.3 5.4,6.0" fill="#6a7aa0" fill-opacity="0.92"/><line x1="0" y1="0" x2="0.2" y2="-6.0" stroke="#d0a8a0" stroke-width="0.8"/><line x1="0" y1="0" x2="2.8" y2="-3.9" stroke="#d0a8a0" stroke-width="0.8"/><line x1="0" y1="0" x2="-5.5" y2="3.8" stroke="#d0a8a0" stroke-width="0.8"/><line x1="0" y1="0" x2="-2.9" y2="5.8" stroke="#d0a8a0" stroke-width="0.8"/><circle cx="0" cy="0" r="2.0" fill="url(#gMA)"/><circle cx="0.2" cy="-6.0" r="1.15" fill="#f4e8e6" stroke="#c49088" stroke-width="0.5"/><circle cx="2.8" cy="-3.9" r="1.15" fill="#f4e8e6" stroke="#c49088" stroke-width="0.5"/><circle cx="-5.5" cy="3.8" r="1.15" fill="#f4e8e6" stroke="#c49088" stroke-width="0.5"/><circle cx="-2.9" cy="5.8" r="1.15" fill="#f4e8e6" stroke="#c49088" stroke-width="0.5"/></g>
<g transform="translate(208.45,162.65)"><polygon points="1.4,-0.2 8.2,0.3 5.4,6.0" fill="#6a7aa0" fill-opacity="0.92"/><line x1="0" y1="0" x2="0.2" y2="-6.0" stroke="#d0a8a0" stroke-width="0.8"/><line x1="0" y1="0" x2="2.8" y2="-3.9" stroke="#d0a8a0" stroke-width="0.8"/><line x1="0" y1="0" x2="-5.5" y2="3.8" stroke="#d0a8a0" stroke-width="0.8"/><line x1="0" y1="0" x2="-2.9" y2="5.8" stroke="#d0a8a0" stroke-width="0.8"/><circle cx="0" cy="0" r="2.0" fill="url(#gMA)"/><circle cx="0.2" cy="-6.0" r="1.15" fill="#f4e8e6" stroke="#c49088" stroke-width="0.5"/><circle cx="2.8" cy="-3.9" r="1.15" fill="#f4e8e6" stroke="#c49088" stroke-width="0.5"/><circle cx="-5.5" cy="3.8" r="1.15" fill="#f4e8e6" stroke="#c49088" stroke-width="0.5"/><circle cx="-2.9" cy="5.8" r="1.15" fill="#f4e8e6" stroke="#c49088" stroke-width="0.5"/></g>
<g transform="translate(246.55,83.15)"><polygon points="1.4,-0.2 8.2,0.3 5.4,6.0" fill="#6a7aa0" fill-opacity="0.92"/><line x1="0" y1="0" x2="0.2" y2="-6.0" stroke="#d0a8a0" stroke-width="0.8"/><line x1="0" y1="0" x2="2.8" y2="-3.9" stroke="#d0a8a0" stroke-width="0.8"/><line x1="0" y1="0" x2="-5.5" y2="3.8" stroke="#d0a8a0" stroke-width="0.8"/><line x1="0" y1="0" x2="-2.9" y2="5.8" stroke="#d0a8a0" stroke-width="0.8"/><circle cx="0" cy="0" r="2.0" fill="url(#gMA)"/><circle cx="0.2" cy="-6.0" r="1.15" fill="#f4e8e6" stroke="#c49088" stroke-width="0.5"/><circle cx="2.8" cy="-3.9" r="1.15" fill="#f4e8e6" stroke="#c49088" stroke-width="0.5"/><circle cx="-5.5" cy="3.8" r="1.15" fill="#f4e8e6" stroke="#c49088" stroke-width="0.5"/><circle cx="-2.9" cy="5.8" r="1.15" fill="#f4e8e6" stroke="#c49088" stroke-width="0.5"/></g>
<g transform="translate(246.65,122.35)"><polygon points="1.4,-0.2 8.2,0.3 5.4,6.0" fill="#6a7aa0" fill-opacity="0.92"/><line x1="0" y1="0" x2="0.2" y2="-6.0" stroke="#d0a8a0" stroke-width="0.8"/><line x1="0" y1="0" x2="2.8" y2="-3.9" stroke="#d0a8a0" stroke-width="0.8"/><line x1="0" y1="0" x2="-5.5" y2="3.8" stroke="#d0a8a0" stroke-width="0.8"/><line x1="0" y1="0" x2="-2.9" y2="5.8" stroke="#d0a8a0" stroke-width="0.8"/><circle cx="0" cy="0" r="2.0" fill="url(#gMA)"/><circle cx="0.2" cy="-6.0" r="1.15" fill="#f4e8e6" stroke="#c49088" stroke-width="0.5"/><circle cx="2.8" cy="-3.9" r="1.15" fill="#f4e8e6" stroke="#c49088" stroke-width="0.5"/><circle cx="-5.5" cy="3.8" r="1.15" fill="#f4e8e6" stroke="#c49088" stroke-width="0.5"/><circle cx="-2.9" cy="5.8" r="1.15" fill="#f4e8e6" stroke="#c49088" stroke-width="0.5"/></g>
<g transform="translate(246.75,161.55)"><polygon points="1.4,-0.2 8.2,0.3 5.4,6.0" fill="#6a7aa0" fill-opacity="0.92"/><line x1="0" y1="0" x2="0.2" y2="-6.0" stroke="#d0a8a0" stroke-width="0.8"/><line x1="0" y1="0" x2="2.8" y2="-3.9" stroke="#d0a8a0" stroke-width="0.8"/><line x1="0" y1="0" x2="-5.5" y2="3.8" stroke="#d0a8a0" stroke-width="0.8"/><line x1="0" y1="0" x2="-2.9" y2="5.8" stroke="#d0a8a0" stroke-width="0.8"/><circle cx="0" cy="0" r="2.0" fill="url(#gMA)"/><circle cx="0.2" cy="-6.0" r="1.15" fill="#f4e8e6" stroke="#c49088" stroke-width="0.5"/><circle cx="2.8" cy="-3.9" r="1.15" fill="#f4e8e6" stroke="#c49088" stroke-width="0.5"/><circle cx="-5.5" cy="3.8" r="1.15" fill="#f4e8e6" stroke="#c49088" stroke-width="0.5"/><circle cx="-2.9" cy="5.8" r="1.15" fill="#f4e8e6" stroke="#c49088" stroke-width="0.5"/></g>
<g transform="translate(284.85,82.05)"><polygon points="1.4,-0.2 8.2,0.3 5.4,6.0" fill="#6a7aa0" fill-opacity="0.92"/><line x1="0" y1="0" x2="0.2" y2="-6.0" stroke="#d0a8a0" stroke-width="0.8"/><line x1="0" y1="0" x2="2.8" y2="-3.9" stroke="#d0a8a0" stroke-width="0.8"/><line x1="0" y1="0" x2="-5.5" y2="3.8" stroke="#d0a8a0" stroke-width="0.8"/><line x1="0" y1="0" x2="-2.9" y2="5.8" stroke="#d0a8a0" stroke-width="0.8"/><circle cx="0" cy="0" r="2.0" fill="url(#gMA)"/><circle cx="0.2" cy="-6.0" r="1.15" fill="#f4e8e6" stroke="#c49088" stroke-width="0.5"/><circle cx="2.8" cy="-3.9" r="1.15" fill="#f4e8e6" stroke="#c49088" stroke-width="0.5"/><circle cx="-5.5" cy="3.8" r="1.15" fill="#f4e8e6" stroke="#c49088" stroke-width="0.5"/><circle cx="-2.9" cy="5.8" r="1.15" fill="#f4e8e6" stroke="#c49088" stroke-width="0.5"/></g>
<g transform="translate(284.95,121.25)"><polygon points="1.4,-0.2 8.2,0.3 5.4,6.0" fill="#6a7aa0" fill-opacity="0.92"/><line x1="0" y1="0" x2="0.2" y2="-6.0" stroke="#d0a8a0" stroke-width="0.8"/><line x1="0" y1="0" x2="2.8" y2="-3.9" stroke="#d0a8a0" stroke-width="0.8"/><line x1="0" y1="0" x2="-5.5" y2="3.8" stroke="#d0a8a0" stroke-width="0.8"/><line x1="0" y1="0" x2="-2.9" y2="5.8" stroke="#d0a8a0" stroke-width="0.8"/><circle cx="0" cy="0" r="2.0" fill="url(#gMA)"/><circle cx="0.2" cy="-6.0" r="1.15" fill="#f4e8e6" stroke="#c49088" stroke-width="0.5"/><circle cx="2.8" cy="-3.9" r="1.15" fill="#f4e8e6" stroke="#c49088" stroke-width="0.5"/><circle cx="-5.5" cy="3.8" r="1.15" fill="#f4e8e6" stroke="#c49088" stroke-width="0.5"/><circle cx="-2.9" cy="5.8" r="1.15" fill="#f4e8e6" stroke="#c49088" stroke-width="0.5"/></g>
<g transform="translate(285.05,160.45)"><polygon points="1.4,-0.2 8.2,0.3 5.4,6.0" fill="#6a7aa0" fill-opacity="0.92"/><line x1="0" y1="0" x2="0.2" y2="-6.0" stroke="#d0a8a0" stroke-width="0.8"/><line x1="0" y1="0" x2="2.8" y2="-3.9" stroke="#d0a8a0" stroke-width="0.8"/><line x1="0" y1="0" x2="-5.5" y2="3.8" stroke="#d0a8a0" stroke-width="0.8"/><line x1="0" y1="0" x2="-2.9" y2="5.8" stroke="#d0a8a0" stroke-width="0.8"/><circle cx="0" cy="0" r="2.0" fill="url(#gMA)"/><circle cx="0.2" cy="-6.0" r="1.15" fill="#f4e8e6" stroke="#c49088" stroke-width="0.5"/><circle cx="2.8" cy="-3.9" r="1.15" fill="#f4e8e6" stroke="#c49088" stroke-width="0.5"/><circle cx="-5.5" cy="3.8" r="1.15" fill="#f4e8e6" stroke="#c49088" stroke-width="0.5"/><circle cx="-2.9" cy="5.8" r="1.15" fill="#f4e8e6" stroke="#c49088" stroke-width="0.5"/></g>
<line x1="192.40" y1="66.20" x2="201.97" y2="65.92" stroke="#1a7070" stroke-width="1.0" />
<line x1="201.97" y1="65.92" x2="211.55" y2="65.65" stroke="#c87868" stroke-width="1.0" />
<line x1="192.40" y1="66.20" x2="182.83" y2="66.48" stroke="#1a7070" stroke-width="1.0" />
<line x1="182.83" y1="66.48" x2="173.25" y2="66.75" stroke="#c87868" stroke-width="1.0" />
<line x1="192.40" y1="66.20" x2="192.43" y2="76.00" stroke="#1a7070" stroke-width="1.0" />
<line x1="192.43" y1="76.00" x2="192.45" y2="85.80" stroke="#c87868" stroke-width="1.0" />
<circle cx="188.15" cy="64.10" r="2.9" fill="url(#gOr)"/>
<polygon points="173.25,66.75 196.65,68.30 192.45,85.80" fill="#3f46aa" fill-opacity="0.5" stroke="#8a90e0" stroke-opacity="0.35" stroke-width="0.4"/>
<polygon points="196.65,68.30 211.55,65.65 192.45,85.80" fill="#3f46aa" fill-opacity="0.58" stroke="#8a90e0" stroke-opacity="0.35" stroke-width="0.4"/>
<polygon points="173.25,66.75 188.15,64.10 192.45,85.80" fill="#3f46aa" fill-opacity="0.34" stroke="#8a90e0" stroke-opacity="0.35" stroke-width="0.4"/>
<polygon points="188.15,64.10 211.55,65.65 192.45,85.80" fill="#3f46aa" fill-opacity="0.38" stroke="#8a90e0" stroke-opacity="0.35" stroke-width="0.4"/>
<polygon points="173.25,66.75 196.65,68.30 211.55,65.65 188.15,64.10" fill="#3f46aa" fill-opacity="0.36" stroke="#8a90e0" stroke-opacity="0.35" stroke-width="0.4"/>
<circle cx="192.40" cy="66.20" r="5.0" fill="url(#gPbG)"/>
<line x1="230.70" y1="65.10" x2="240.27" y2="64.83" stroke="#1a7070" stroke-width="1.0" />
<line x1="240.27" y1="64.83" x2="249.85" y2="64.55" stroke="#c87868" stroke-width="1.0" />
<line x1="230.70" y1="65.10" x2="221.12" y2="65.38" stroke="#1a7070" stroke-width="1.0" />
<line x1="221.12" y1="65.38" x2="211.55" y2="65.65" stroke="#c87868" stroke-width="1.0" />
<line x1="230.70" y1="65.10" x2="230.72" y2="74.90" stroke="#1a7070" stroke-width="1.0" />
<line x1="230.72" y1="74.90" x2="230.75" y2="84.70" stroke="#c87868" stroke-width="1.0" />
<circle cx="226.45" cy="63.00" r="2.9" fill="url(#gOr)"/>
<polygon points="211.55,65.65 234.95,67.20 230.75,84.70" fill="#3f46aa" fill-opacity="0.5" stroke="#8a90e0" stroke-opacity="0.35" stroke-width="0.4"/>
<polygon points="234.95,67.20 249.85,64.55 230.75,84.70" fill="#3f46aa" fill-opacity="0.58" stroke="#8a90e0" stroke-opacity="0.35" stroke-width="0.4"/>
<polygon points="211.55,65.65 226.45,63.00 230.75,84.70" fill="#3f46aa" fill-opacity="0.34" stroke="#8a90e0" stroke-opacity="0.35" stroke-width="0.4"/>
<polygon points="226.45,63.00 249.85,64.55 230.75,84.70" fill="#3f46aa" fill-opacity="0.38" stroke="#8a90e0" stroke-opacity="0.35" stroke-width="0.4"/>
<polygon points="211.55,65.65 234.95,67.20 249.85,64.55 226.45,63.00" fill="#3f46aa" fill-opacity="0.36" stroke="#8a90e0" stroke-opacity="0.35" stroke-width="0.4"/>
<circle cx="230.70" cy="65.10" r="5.0" fill="url(#gPbG)"/>
<line x1="269.00" y1="64.00" x2="278.57" y2="63.73" stroke="#1a7070" stroke-width="1.0" />
<line x1="278.57" y1="63.73" x2="288.15" y2="63.45" stroke="#c87868" stroke-width="1.0" />
<line x1="269.00" y1="64.00" x2="259.43" y2="64.28" stroke="#1a7070" stroke-width="1.0" />
<line x1="259.43" y1="64.28" x2="249.85" y2="64.55" stroke="#c87868" stroke-width="1.0" />
<line x1="269.00" y1="64.00" x2="269.02" y2="73.80" stroke="#1a7070" stroke-width="1.0" />
<line x1="269.02" y1="73.80" x2="269.05" y2="83.60" stroke="#c87868" stroke-width="1.0" />
<circle cx="264.75" cy="61.90" r="2.9" fill="url(#gOr)"/>
<polygon points="249.85,64.55 273.25,66.10 269.05,83.60" fill="#3f46aa" fill-opacity="0.5" stroke="#8a90e0" stroke-opacity="0.35" stroke-width="0.4"/>
<polygon points="273.25,66.10 288.15,63.45 269.05,83.60" fill="#3f46aa" fill-opacity="0.58" stroke="#8a90e0" stroke-opacity="0.35" stroke-width="0.4"/>
<polygon points="249.85,64.55 264.75,61.90 269.05,83.60" fill="#3f46aa" fill-opacity="0.34" stroke="#8a90e0" stroke-opacity="0.35" stroke-width="0.4"/>
<polygon points="264.75,61.90 288.15,63.45 269.05,83.60" fill="#3f46aa" fill-opacity="0.38" stroke="#8a90e0" stroke-opacity="0.35" stroke-width="0.4"/>
<polygon points="249.85,64.55 273.25,66.10 288.15,63.45 264.75,61.90" fill="#3f46aa" fill-opacity="0.36" stroke="#8a90e0" stroke-opacity="0.35" stroke-width="0.4"/>
<circle cx="269.00" cy="64.00" r="5.0" fill="url(#gPbG)"/>
<line x1="192.50" y1="105.40" x2="202.07" y2="105.12" stroke="#1a7070" stroke-width="1.0" />
<line x1="202.07" y1="105.12" x2="211.65" y2="104.85" stroke="#c87868" stroke-width="1.0" />
<line x1="192.50" y1="105.40" x2="182.93" y2="105.68" stroke="#1a7070" stroke-width="1.0" />
<line x1="182.93" y1="105.68" x2="173.35" y2="105.95" stroke="#c87868" stroke-width="1.0" />
<line x1="192.50" y1="105.40" x2="192.53" y2="115.20" stroke="#1a7070" stroke-width="1.0" />
<line x1="192.53" y1="115.20" x2="192.55" y2="125.00" stroke="#c87868" stroke-width="1.0" />
<line x1="192.50" y1="105.40" x2="192.47" y2="95.60" stroke="#1a7070" stroke-width="1.0" />
<line x1="192.47" y1="95.60" x2="192.45" y2="85.80" stroke="#c87868" stroke-width="1.0" />
<circle cx="188.25" cy="103.30" r="2.9" fill="url(#gOr)"/>
<polygon points="188.25,103.30 192.45,85.80 173.35,105.95" fill="#3f46aa" fill-opacity="0.24" stroke="#8a90e0" stroke-opacity="0.35" stroke-width="0.4"/>
<polygon points="188.25,103.30 211.65,104.85 192.45,85.80" fill="#3f46aa" fill-opacity="0.24" stroke="#8a90e0" stroke-opacity="0.35" stroke-width="0.4"/>
<polygon points="188.25,103.30 173.35,105.95 192.55,125.00" fill="#3f46aa" fill-opacity="0.24" stroke="#8a90e0" stroke-opacity="0.35" stroke-width="0.4"/>
<polygon points="188.25,103.30 192.55,125.00 211.65,104.85" fill="#3f46aa" fill-opacity="0.24" stroke="#8a90e0" stroke-opacity="0.35" stroke-width="0.4"/>
<polygon points="196.75,107.50 192.45,85.80 173.35,105.95" fill="#3f46aa" fill-opacity="0.5" stroke="#8a90e0" stroke-opacity="0.35" stroke-width="0.4"/>
<polygon points="196.75,107.50 211.65,104.85 192.45,85.80" fill="#3f46aa" fill-opacity="0.42" stroke="#8a90e0" stroke-opacity="0.35" stroke-width="0.4"/>
<polygon points="196.75,107.50 173.35,105.95 192.55,125.00" fill="#3f46aa" fill-opacity="0.58" stroke="#8a90e0" stroke-opacity="0.35" stroke-width="0.4"/>
<polygon points="196.75,107.50 192.55,125.00 211.65,104.85" fill="#3f46aa" fill-opacity="0.48" stroke="#8a90e0" stroke-opacity="0.35" stroke-width="0.4"/>
<circle cx="192.50" cy="105.40" r="4.3" fill="url(#gPb)"/>
<line x1="230.80" y1="104.30" x2="240.37" y2="104.03" stroke="#1a7070" stroke-width="1.0" />
<line x1="240.37" y1="104.03" x2="249.95" y2="103.75" stroke="#c87868" stroke-width="1.0" />
<line x1="230.80" y1="104.30" x2="221.22" y2="104.58" stroke="#1a7070" stroke-width="1.0" />
<line x1="221.22" y1="104.58" x2="211.65" y2="104.85" stroke="#c87868" stroke-width="1.0" />
<line x1="230.80" y1="104.30" x2="230.82" y2="114.10" stroke="#1a7070" stroke-width="1.0" />
<line x1="230.82" y1="114.10" x2="230.85" y2="123.90" stroke="#c87868" stroke-width="1.0" />
<line x1="230.80" y1="104.30" x2="230.77" y2="94.50" stroke="#1a7070" stroke-width="1.0" />
<line x1="230.77" y1="94.50" x2="230.75" y2="84.70" stroke="#c87868" stroke-width="1.0" />
<circle cx="226.55" cy="102.20" r="2.9" fill="url(#gOr)"/>
<polygon points="226.55,102.20 230.75,84.70 211.65,104.85" fill="#3f46aa" fill-opacity="0.24" stroke="#8a90e0" stroke-opacity="0.35" stroke-width="0.4"/>
<polygon points="226.55,102.20 249.95,103.75 230.75,84.70" fill="#3f46aa" fill-opacity="0.24" stroke="#8a90e0" stroke-opacity="0.35" stroke-width="0.4"/>
<polygon points="226.55,102.20 211.65,104.85 230.85,123.90" fill="#3f46aa" fill-opacity="0.24" stroke="#8a90e0" stroke-opacity="0.35" stroke-width="0.4"/>
<polygon points="226.55,102.20 230.85,123.90 249.95,103.75" fill="#3f46aa" fill-opacity="0.24" stroke="#8a90e0" stroke-opacity="0.35" stroke-width="0.4"/>
<polygon points="235.05,106.40 230.75,84.70 211.65,104.85" fill="#3f46aa" fill-opacity="0.5" stroke="#8a90e0" stroke-opacity="0.35" stroke-width="0.4"/>
<polygon points="235.05,106.40 249.95,103.75 230.75,84.70" fill="#3f46aa" fill-opacity="0.42" stroke="#8a90e0" stroke-opacity="0.35" stroke-width="0.4"/>
<polygon points="235.05,106.40 211.65,104.85 230.85,123.90" fill="#3f46aa" fill-opacity="0.58" stroke="#8a90e0" stroke-opacity="0.35" stroke-width="0.4"/>
<polygon points="235.05,106.40 230.85,123.90 249.95,103.75" fill="#3f46aa" fill-opacity="0.48" stroke="#8a90e0" stroke-opacity="0.35" stroke-width="0.4"/>
<circle cx="230.80" cy="104.30" r="4.3" fill="url(#gPb)"/>
<line x1="269.10" y1="103.20" x2="278.68" y2="102.92" stroke="#1a7070" stroke-width="1.0" />
<line x1="278.68" y1="102.92" x2="288.25" y2="102.65" stroke="#c87868" stroke-width="1.0" />
<line x1="269.10" y1="103.20" x2="259.53" y2="103.48" stroke="#1a7070" stroke-width="1.0" />
<line x1="259.53" y1="103.48" x2="249.95" y2="103.75" stroke="#c87868" stroke-width="1.0" />
<line x1="269.10" y1="103.20" x2="269.12" y2="113.00" stroke="#1a7070" stroke-width="1.0" />
<line x1="269.12" y1="113.00" x2="269.15" y2="122.80" stroke="#c87868" stroke-width="1.0" />
<line x1="269.10" y1="103.20" x2="269.08" y2="93.40" stroke="#1a7070" stroke-width="1.0" />
<line x1="269.08" y1="93.40" x2="269.05" y2="83.60" stroke="#c87868" stroke-width="1.0" />
<circle cx="264.85" cy="101.10" r="2.9" fill="url(#gOr)"/>
<polygon points="264.85,101.10 269.05,83.60 249.95,103.75" fill="#3f46aa" fill-opacity="0.24" stroke="#8a90e0" stroke-opacity="0.35" stroke-width="0.4"/>
<polygon points="264.85,101.10 288.25,102.65 269.05,83.60" fill="#3f46aa" fill-opacity="0.24" stroke="#8a90e0" stroke-opacity="0.35" stroke-width="0.4"/>
<polygon points="264.85,101.10 249.95,103.75 269.15,122.80" fill="#3f46aa" fill-opacity="0.24" stroke="#8a90e0" stroke-opacity="0.35" stroke-width="0.4"/>
<polygon points="264.85,101.10 269.15,122.80 288.25,102.65" fill="#3f46aa" fill-opacity="0.24" stroke="#8a90e0" stroke-opacity="0.35" stroke-width="0.4"/>
<polygon points="273.35,105.30 269.05,83.60 249.95,103.75" fill="#3f46aa" fill-opacity="0.5" stroke="#8a90e0" stroke-opacity="0.35" stroke-width="0.4"/>
<polygon points="273.35,105.30 288.25,102.65 269.05,83.60" fill="#3f46aa" fill-opacity="0.42" stroke="#8a90e0" stroke-opacity="0.35" stroke-width="0.4"/>
<polygon points="273.35,105.30 249.95,103.75 269.15,122.80" fill="#3f46aa" fill-opacity="0.58" stroke="#8a90e0" stroke-opacity="0.35" stroke-width="0.4"/>
<polygon points="273.35,105.30 269.15,122.80 288.25,102.65" fill="#3f46aa" fill-opacity="0.48" stroke="#8a90e0" stroke-opacity="0.35" stroke-width="0.4"/>
<circle cx="269.10" cy="103.20" r="4.3" fill="url(#gPb)"/>
<line x1="192.60" y1="144.60" x2="202.17" y2="144.33" stroke="#1a7070" stroke-width="1.0" />
<line x1="202.17" y1="144.33" x2="211.75" y2="144.05" stroke="#c87868" stroke-width="1.0" />
<line x1="192.60" y1="144.60" x2="183.03" y2="144.88" stroke="#1a7070" stroke-width="1.0" />
<line x1="183.03" y1="144.88" x2="173.45" y2="145.15" stroke="#c87868" stroke-width="1.0" />
<line x1="192.60" y1="144.60" x2="192.62" y2="154.40" stroke="#1a7070" stroke-width="1.0" />
<line x1="192.62" y1="154.40" x2="192.65" y2="164.20" stroke="#c87868" stroke-width="1.0" />
<line x1="192.60" y1="144.60" x2="192.57" y2="134.80" stroke="#1a7070" stroke-width="1.0" />
<line x1="192.57" y1="134.80" x2="192.55" y2="125.00" stroke="#c87868" stroke-width="1.0" />
<circle cx="188.35" cy="142.50" r="2.9" fill="url(#gOr)"/>
<polygon points="188.35,142.50 192.55,125.00 173.45,145.15" fill="#3f46aa" fill-opacity="0.24" stroke="#8a90e0" stroke-opacity="0.35" stroke-width="0.4"/>
<polygon points="188.35,142.50 211.75,144.05 192.55,125.00" fill="#3f46aa" fill-opacity="0.24" stroke="#8a90e0" stroke-opacity="0.35" stroke-width="0.4"/>
<polygon points="188.35,142.50 173.45,145.15 192.65,164.20" fill="#3f46aa" fill-opacity="0.24" stroke="#8a90e0" stroke-opacity="0.35" stroke-width="0.4"/>
<polygon points="188.35,142.50 192.65,164.20 211.75,144.05" fill="#3f46aa" fill-opacity="0.24" stroke="#8a90e0" stroke-opacity="0.35" stroke-width="0.4"/>
<polygon points="196.85,146.70 192.55,125.00 173.45,145.15" fill="#3f46aa" fill-opacity="0.5" stroke="#8a90e0" stroke-opacity="0.35" stroke-width="0.4"/>
<polygon points="196.85,146.70 211.75,144.05 192.55,125.00" fill="#3f46aa" fill-opacity="0.42" stroke="#8a90e0" stroke-opacity="0.35" stroke-width="0.4"/>
<polygon points="196.85,146.70 173.45,145.15 192.65,164.20" fill="#3f46aa" fill-opacity="0.58" stroke="#8a90e0" stroke-opacity="0.35" stroke-width="0.4"/>
<polygon points="196.85,146.70 192.65,164.20 211.75,144.05" fill="#3f46aa" fill-opacity="0.48" stroke="#8a90e0" stroke-opacity="0.35" stroke-width="0.4"/>
<circle cx="192.60" cy="144.60" r="4.3" fill="url(#gPb)"/>
<line x1="230.90" y1="143.50" x2="240.47" y2="143.22" stroke="#1a7070" stroke-width="1.0" />
<line x1="240.47" y1="143.22" x2="250.05" y2="142.95" stroke="#c87868" stroke-width="1.0" />
<line x1="230.90" y1="143.50" x2="221.32" y2="143.78" stroke="#1a7070" stroke-width="1.0" />
<line x1="221.32" y1="143.78" x2="211.75" y2="144.05" stroke="#c87868" stroke-width="1.0" />
<line x1="230.90" y1="143.50" x2="230.92" y2="153.30" stroke="#1a7070" stroke-width="1.0" />
<line x1="230.92" y1="153.30" x2="230.95" y2="163.10" stroke="#c87868" stroke-width="1.0" />
<line x1="230.90" y1="143.50" x2="230.87" y2="133.70" stroke="#1a7070" stroke-width="1.0" />
<line x1="230.87" y1="133.70" x2="230.85" y2="123.90" stroke="#c87868" stroke-width="1.0" />
<circle cx="226.65" cy="141.40" r="2.9" fill="url(#gOr)"/>
<polygon points="226.65,141.40 230.85,123.90 211.75,144.05" fill="#3f46aa" fill-opacity="0.24" stroke="#8a90e0" stroke-opacity="0.35" stroke-width="0.4"/>
<polygon points="226.65,141.40 250.05,142.95 230.85,123.90" fill="#3f46aa" fill-opacity="0.24" stroke="#8a90e0" stroke-opacity="0.35" stroke-width="0.4"/>
<polygon points="226.65,141.40 211.75,144.05 230.95,163.10" fill="#3f46aa" fill-opacity="0.24" stroke="#8a90e0" stroke-opacity="0.35" stroke-width="0.4"/>
<polygon points="226.65,141.40 230.95,163.10 250.05,142.95" fill="#3f46aa" fill-opacity="0.24" stroke="#8a90e0" stroke-opacity="0.35" stroke-width="0.4"/>
<polygon points="235.15,145.60 230.85,123.90 211.75,144.05" fill="#3f46aa" fill-opacity="0.5" stroke="#8a90e0" stroke-opacity="0.35" stroke-width="0.4"/>
<polygon points="235.15,145.60 250.05,142.95 230.85,123.90" fill="#3f46aa" fill-opacity="0.42" stroke="#8a90e0" stroke-opacity="0.35" stroke-width="0.4"/>
<polygon points="235.15,145.60 211.75,144.05 230.95,163.10" fill="#3f46aa" fill-opacity="0.58" stroke="#8a90e0" stroke-opacity="0.35" stroke-width="0.4"/>
<polygon points="235.15,145.60 230.95,163.10 250.05,142.95" fill="#3f46aa" fill-opacity="0.48" stroke="#8a90e0" stroke-opacity="0.35" stroke-width="0.4"/>
<circle cx="230.90" cy="143.50" r="4.3" fill="url(#gPb)"/>
<line x1="269.20" y1="142.40" x2="278.77" y2="142.12" stroke="#1a7070" stroke-width="1.0" />
<line x1="278.77" y1="142.12" x2="288.35" y2="141.85" stroke="#c87868" stroke-width="1.0" />
<line x1="269.20" y1="142.40" x2="259.62" y2="142.68" stroke="#1a7070" stroke-width="1.0" />
<line x1="259.62" y1="142.68" x2="250.05" y2="142.95" stroke="#c87868" stroke-width="1.0" />
<line x1="269.20" y1="142.40" x2="269.22" y2="152.20" stroke="#1a7070" stroke-width="1.0" />
<line x1="269.22" y1="152.20" x2="269.25" y2="162.00" stroke="#c87868" stroke-width="1.0" />
<line x1="269.20" y1="142.40" x2="269.18" y2="132.60" stroke="#1a7070" stroke-width="1.0" />
<line x1="269.18" y1="132.60" x2="269.15" y2="122.80" stroke="#c87868" stroke-width="1.0" />
<circle cx="264.95" cy="140.30" r="2.9" fill="url(#gOr)"/>
<polygon points="264.95,140.30 269.15,122.80 250.05,142.95" fill="#3f46aa" fill-opacity="0.24" stroke="#8a90e0" stroke-opacity="0.35" stroke-width="0.4"/>
<polygon points="264.95,140.30 288.35,141.85 269.15,122.80" fill="#3f46aa" fill-opacity="0.24" stroke="#8a90e0" stroke-opacity="0.35" stroke-width="0.4"/>
<polygon points="264.95,140.30 250.05,142.95 269.25,162.00" fill="#3f46aa" fill-opacity="0.24" stroke="#8a90e0" stroke-opacity="0.35" stroke-width="0.4"/>
<polygon points="264.95,140.30 269.25,162.00 288.35,141.85" fill="#3f46aa" fill-opacity="0.24" stroke="#8a90e0" stroke-opacity="0.35" stroke-width="0.4"/>
<polygon points="273.45,144.50 269.15,122.80 250.05,142.95" fill="#3f46aa" fill-opacity="0.5" stroke="#8a90e0" stroke-opacity="0.35" stroke-width="0.4"/>
<polygon points="273.45,144.50 288.35,141.85 269.15,122.80" fill="#3f46aa" fill-opacity="0.42" stroke="#8a90e0" stroke-opacity="0.35" stroke-width="0.4"/>
<polygon points="273.45,144.50 250.05,142.95 269.25,162.00" fill="#3f46aa" fill-opacity="0.58" stroke="#8a90e0" stroke-opacity="0.35" stroke-width="0.4"/>
<polygon points="273.45,144.50 269.25,162.00 288.35,141.85" fill="#3f46aa" fill-opacity="0.48" stroke="#8a90e0" stroke-opacity="0.35" stroke-width="0.4"/>
<circle cx="269.20" cy="142.40" r="4.3" fill="url(#gPb)"/>
<circle cx="173.25" cy="66.75" r="2.9" fill="url(#gOr)"/>
<circle cx="211.55" cy="65.65" r="2.9" fill="url(#gOr)"/>
<circle cx="192.45" cy="85.80" r="2.9" fill="url(#gOr)"/>
<circle cx="196.65" cy="68.30" r="2.9" fill="url(#gOr)"/>
<circle cx="211.55" cy="65.65" r="2.9" fill="url(#gOr)"/>
<circle cx="249.85" cy="64.55" r="2.9" fill="url(#gOr)"/>
<circle cx="230.75" cy="84.70" r="2.9" fill="url(#gOr)"/>
<circle cx="234.95" cy="67.20" r="2.9" fill="url(#gOr)"/>
<circle cx="249.85" cy="64.55" r="2.9" fill="url(#gOr)"/>
<circle cx="288.15" cy="63.45" r="2.9" fill="url(#gOr)"/>
<circle cx="269.05" cy="83.60" r="2.9" fill="url(#gOr)"/>
<circle cx="273.25" cy="66.10" r="2.9" fill="url(#gOr)"/>
<circle cx="173.35" cy="105.95" r="2.9" fill="url(#gOr)"/>
<circle cx="211.65" cy="104.85" r="2.9" fill="url(#gOr)"/>
<circle cx="192.55" cy="125.00" r="2.9" fill="url(#gOr)"/>
<circle cx="196.75" cy="107.50" r="2.9" fill="url(#gOr)"/>
<circle cx="192.45" cy="85.80" r="2.9" fill="url(#gOr)"/>
<circle cx="211.65" cy="104.85" r="2.9" fill="url(#gOr)"/>
<circle cx="249.95" cy="103.75" r="2.9" fill="url(#gOr)"/>
<circle cx="230.85" cy="123.90" r="2.9" fill="url(#gOr)"/>
<circle cx="235.05" cy="106.40" r="2.9" fill="url(#gOr)"/>
<circle cx="230.75" cy="84.70" r="2.9" fill="url(#gOr)"/>
<circle cx="249.95" cy="103.75" r="2.9" fill="url(#gOr)"/>
<circle cx="288.25" cy="102.65" r="2.9" fill="url(#gOr)"/>
<circle cx="269.15" cy="122.80" r="2.9" fill="url(#gOr)"/>
<circle cx="273.35" cy="105.30" r="2.9" fill="url(#gOr)"/>
<circle cx="269.05" cy="83.60" r="2.9" fill="url(#gOr)"/>
<circle cx="173.45" cy="145.15" r="2.9" fill="url(#gOr)"/>
<circle cx="211.75" cy="144.05" r="2.9" fill="url(#gOr)"/>
<circle cx="192.65" cy="164.20" r="2.9" fill="url(#gOr)"/>
<circle cx="196.85" cy="146.70" r="2.9" fill="url(#gOr)"/>
<circle cx="192.55" cy="125.00" r="2.9" fill="url(#gOr)"/>
<circle cx="211.75" cy="144.05" r="2.9" fill="url(#gOr)"/>
<circle cx="250.05" cy="142.95" r="2.9" fill="url(#gOr)"/>
<circle cx="230.95" cy="163.10" r="2.9" fill="url(#gOr)"/>
<circle cx="235.15" cy="145.60" r="2.9" fill="url(#gOr)"/>
<circle cx="230.85" cy="123.90" r="2.9" fill="url(#gOr)"/>
<circle cx="250.05" cy="142.95" r="2.9" fill="url(#gOr)"/>
<circle cx="288.35" cy="141.85" r="2.9" fill="url(#gOr)"/>
<circle cx="269.25" cy="162.00" r="2.9" fill="url(#gOr)"/>
<circle cx="273.45" cy="144.50" r="2.9" fill="url(#gOr)"/>
<circle cx="269.15" cy="122.80" r="2.9" fill="url(#gOr)"/>
<g transform="translate(178.45,89.55)"><polygon points="1.4,-0.2 8.2,0.3 5.4,6.0" fill="#6a7aa0" fill-opacity="0.92"/><line x1="0" y1="0" x2="0.2" y2="-6.0" stroke="#d0a8a0" stroke-width="0.8"/><line x1="0" y1="0" x2="2.8" y2="-3.9" stroke="#d0a8a0" stroke-width="0.8"/><line x1="0" y1="0" x2="-5.5" y2="3.8" stroke="#d0a8a0" stroke-width="0.8"/><line x1="0" y1="0" x2="-2.9" y2="5.8" stroke="#d0a8a0" stroke-width="0.8"/><circle cx="0" cy="0" r="2.0" fill="url(#gMA)"/><circle cx="0.2" cy="-6.0" r="1.15" fill="#f4e8e6" stroke="#c49088" stroke-width="0.5"/><circle cx="2.8" cy="-3.9" r="1.15" fill="#f4e8e6" stroke="#c49088" stroke-width="0.5"/><circle cx="-5.5" cy="3.8" r="1.15" fill="#f4e8e6" stroke="#c49088" stroke-width="0.5"/><circle cx="-2.9" cy="5.8" r="1.15" fill="#f4e8e6" stroke="#c49088" stroke-width="0.5"/></g>
<g transform="translate(178.55,128.75)"><polygon points="1.4,-0.2 8.2,0.3 5.4,6.0" fill="#6a7aa0" fill-opacity="0.92"/><line x1="0" y1="0" x2="0.2" y2="-6.0" stroke="#d0a8a0" stroke-width="0.8"/><line x1="0" y1="0" x2="2.8" y2="-3.9" stroke="#d0a8a0" stroke-width="0.8"/><line x1="0" y1="0" x2="-5.5" y2="3.8" stroke="#d0a8a0" stroke-width="0.8"/><line x1="0" y1="0" x2="-2.9" y2="5.8" stroke="#d0a8a0" stroke-width="0.8"/><circle cx="0" cy="0" r="2.0" fill="url(#gMA)"/><circle cx="0.2" cy="-6.0" r="1.15" fill="#f4e8e6" stroke="#c49088" stroke-width="0.5"/><circle cx="2.8" cy="-3.9" r="1.15" fill="#f4e8e6" stroke="#c49088" stroke-width="0.5"/><circle cx="-5.5" cy="3.8" r="1.15" fill="#f4e8e6" stroke="#c49088" stroke-width="0.5"/><circle cx="-2.9" cy="5.8" r="1.15" fill="#f4e8e6" stroke="#c49088" stroke-width="0.5"/></g>
<g transform="translate(178.65,167.95)"><polygon points="1.4,-0.2 8.2,0.3 5.4,6.0" fill="#6a7aa0" fill-opacity="0.92"/><line x1="0" y1="0" x2="0.2" y2="-6.0" stroke="#d0a8a0" stroke-width="0.8"/><line x1="0" y1="0" x2="2.8" y2="-3.9" stroke="#d0a8a0" stroke-width="0.8"/><line x1="0" y1="0" x2="-5.5" y2="3.8" stroke="#d0a8a0" stroke-width="0.8"/><line x1="0" y1="0" x2="-2.9" y2="5.8" stroke="#d0a8a0" stroke-width="0.8"/><circle cx="0" cy="0" r="2.0" fill="url(#gMA)"/><circle cx="0.2" cy="-6.0" r="1.15" fill="#f4e8e6" stroke="#c49088" stroke-width="0.5"/><circle cx="2.8" cy="-3.9" r="1.15" fill="#f4e8e6" stroke="#c49088" stroke-width="0.5"/><circle cx="-5.5" cy="3.8" r="1.15" fill="#f4e8e6" stroke="#c49088" stroke-width="0.5"/><circle cx="-2.9" cy="5.8" r="1.15" fill="#f4e8e6" stroke="#c49088" stroke-width="0.5"/></g>
<g transform="translate(216.75,88.45)"><polygon points="1.4,-0.2 8.2,0.3 5.4,6.0" fill="#6a7aa0" fill-opacity="0.92"/><line x1="0" y1="0" x2="0.2" y2="-6.0" stroke="#d0a8a0" stroke-width="0.8"/><line x1="0" y1="0" x2="2.8" y2="-3.9" stroke="#d0a8a0" stroke-width="0.8"/><line x1="0" y1="0" x2="-5.5" y2="3.8" stroke="#d0a8a0" stroke-width="0.8"/><line x1="0" y1="0" x2="-2.9" y2="5.8" stroke="#d0a8a0" stroke-width="0.8"/><circle cx="0" cy="0" r="2.0" fill="url(#gMA)"/><circle cx="0.2" cy="-6.0" r="1.15" fill="#f4e8e6" stroke="#c49088" stroke-width="0.5"/><circle cx="2.8" cy="-3.9" r="1.15" fill="#f4e8e6" stroke="#c49088" stroke-width="0.5"/><circle cx="-5.5" cy="3.8" r="1.15" fill="#f4e8e6" stroke="#c49088" stroke-width="0.5"/><circle cx="-2.9" cy="5.8" r="1.15" fill="#f4e8e6" stroke="#c49088" stroke-width="0.5"/></g>
<g transform="translate(216.85,127.65)"><polygon points="1.4,-0.2 8.2,0.3 5.4,6.0" fill="#6a7aa0" fill-opacity="0.92"/><line x1="0" y1="0" x2="0.2" y2="-6.0" stroke="#d0a8a0" stroke-width="0.8"/><line x1="0" y1="0" x2="2.8" y2="-3.9" stroke="#d0a8a0" stroke-width="0.8"/><line x1="0" y1="0" x2="-5.5" y2="3.8" stroke="#d0a8a0" stroke-width="0.8"/><line x1="0" y1="0" x2="-2.9" y2="5.8" stroke="#d0a8a0" stroke-width="0.8"/><circle cx="0" cy="0" r="2.0" fill="url(#gMA)"/><circle cx="0.2" cy="-6.0" r="1.15" fill="#f4e8e6" stroke="#c49088" stroke-width="0.5"/><circle cx="2.8" cy="-3.9" r="1.15" fill="#f4e8e6" stroke="#c49088" stroke-width="0.5"/><circle cx="-5.5" cy="3.8" r="1.15" fill="#f4e8e6" stroke="#c49088" stroke-width="0.5"/><circle cx="-2.9" cy="5.8" r="1.15" fill="#f4e8e6" stroke="#c49088" stroke-width="0.5"/></g>
<g transform="translate(216.95,166.85)"><polygon points="1.4,-0.2 8.2,0.3 5.4,6.0" fill="#6a7aa0" fill-opacity="0.92"/><line x1="0" y1="0" x2="0.2" y2="-6.0" stroke="#d0a8a0" stroke-width="0.8"/><line x1="0" y1="0" x2="2.8" y2="-3.9" stroke="#d0a8a0" stroke-width="0.8"/><line x1="0" y1="0" x2="-5.5" y2="3.8" stroke="#d0a8a0" stroke-width="0.8"/><line x1="0" y1="0" x2="-2.9" y2="5.8" stroke="#d0a8a0" stroke-width="0.8"/><circle cx="0" cy="0" r="2.0" fill="url(#gMA)"/><circle cx="0.2" cy="-6.0" r="1.15" fill="#f4e8e6" stroke="#c49088" stroke-width="0.5"/><circle cx="2.8" cy="-3.9" r="1.15" fill="#f4e8e6" stroke="#c49088" stroke-width="0.5"/><circle cx="-5.5" cy="3.8" r="1.15" fill="#f4e8e6" stroke="#c49088" stroke-width="0.5"/><circle cx="-2.9" cy="5.8" r="1.15" fill="#f4e8e6" stroke="#c49088" stroke-width="0.5"/></g>
<g transform="translate(255.05,87.35)"><polygon points="1.4,-0.2 8.2,0.3 5.4,6.0" fill="#6a7aa0" fill-opacity="0.92"/><line x1="0" y1="0" x2="0.2" y2="-6.0" stroke="#d0a8a0" stroke-width="0.8"/><line x1="0" y1="0" x2="2.8" y2="-3.9" stroke="#d0a8a0" stroke-width="0.8"/><line x1="0" y1="0" x2="-5.5" y2="3.8" stroke="#d0a8a0" stroke-width="0.8"/><line x1="0" y1="0" x2="-2.9" y2="5.8" stroke="#d0a8a0" stroke-width="0.8"/><circle cx="0" cy="0" r="2.0" fill="url(#gMA)"/><circle cx="0.2" cy="-6.0" r="1.15" fill="#f4e8e6" stroke="#c49088" stroke-width="0.5"/><circle cx="2.8" cy="-3.9" r="1.15" fill="#f4e8e6" stroke="#c49088" stroke-width="0.5"/><circle cx="-5.5" cy="3.8" r="1.15" fill="#f4e8e6" stroke="#c49088" stroke-width="0.5"/><circle cx="-2.9" cy="5.8" r="1.15" fill="#f4e8e6" stroke="#c49088" stroke-width="0.5"/></g>
<g transform="translate(255.15,126.55)"><polygon points="1.4,-0.2 8.2,0.3 5.4,6.0" fill="#6a7aa0" fill-opacity="0.92"/><line x1="0" y1="0" x2="0.2" y2="-6.0" stroke="#d0a8a0" stroke-width="0.8"/><line x1="0" y1="0" x2="2.8" y2="-3.9" stroke="#d0a8a0" stroke-width="0.8"/><line x1="0" y1="0" x2="-5.5" y2="3.8" stroke="#d0a8a0" stroke-width="0.8"/><line x1="0" y1="0" x2="-2.9" y2="5.8" stroke="#d0a8a0" stroke-width="0.8"/><circle cx="0" cy="0" r="2.0" fill="url(#gMA)"/><circle cx="0.2" cy="-6.0" r="1.15" fill="#f4e8e6" stroke="#c49088" stroke-width="0.5"/><circle cx="2.8" cy="-3.9" r="1.15" fill="#f4e8e6" stroke="#c49088" stroke-width="0.5"/><circle cx="-5.5" cy="3.8" r="1.15" fill="#f4e8e6" stroke="#c49088" stroke-width="0.5"/><circle cx="-2.9" cy="5.8" r="1.15" fill="#f4e8e6" stroke="#c49088" stroke-width="0.5"/></g>
<g transform="translate(255.25,165.75)"><polygon points="1.4,-0.2 8.2,0.3 5.4,6.0" fill="#6a7aa0" fill-opacity="0.92"/><line x1="0" y1="0" x2="0.2" y2="-6.0" stroke="#d0a8a0" stroke-width="0.8"/><line x1="0" y1="0" x2="2.8" y2="-3.9" stroke="#d0a8a0" stroke-width="0.8"/><line x1="0" y1="0" x2="-5.5" y2="3.8" stroke="#d0a8a0" stroke-width="0.8"/><line x1="0" y1="0" x2="-2.9" y2="5.8" stroke="#d0a8a0" stroke-width="0.8"/><circle cx="0" cy="0" r="2.0" fill="url(#gMA)"/><circle cx="0.2" cy="-6.0" r="1.15" fill="#f4e8e6" stroke="#c49088" stroke-width="0.5"/><circle cx="2.8" cy="-3.9" r="1.15" fill="#f4e8e6" stroke="#c49088" stroke-width="0.5"/><circle cx="-5.5" cy="3.8" r="1.15" fill="#f4e8e6" stroke="#c49088" stroke-width="0.5"/><circle cx="-2.9" cy="5.8" r="1.15" fill="#f4e8e6" stroke="#c49088" stroke-width="0.5"/></g>
<g transform="translate(293.35,86.25)"><polygon points="1.4,-0.2 8.2,0.3 5.4,6.0" fill="#6a7aa0" fill-opacity="0.92"/><line x1="0" y1="0" x2="0.2" y2="-6.0" stroke="#d0a8a0" stroke-width="0.8"/><line x1="0" y1="0" x2="2.8" y2="-3.9" stroke="#d0a8a0" stroke-width="0.8"/><line x1="0" y1="0" x2="-5.5" y2="3.8" stroke="#d0a8a0" stroke-width="0.8"/><line x1="0" y1="0" x2="-2.9" y2="5.8" stroke="#d0a8a0" stroke-width="0.8"/><circle cx="0" cy="0" r="2.0" fill="url(#gMA)"/><circle cx="0.2" cy="-6.0" r="1.15" fill="#f4e8e6" stroke="#c49088" stroke-width="0.5"/><circle cx="2.8" cy="-3.9" r="1.15" fill="#f4e8e6" stroke="#c49088" stroke-width="0.5"/><circle cx="-5.5" cy="3.8" r="1.15" fill="#f4e8e6" stroke="#c49088" stroke-width="0.5"/><circle cx="-2.9" cy="5.8" r="1.15" fill="#f4e8e6" stroke="#c49088" stroke-width="0.5"/></g>
<g transform="translate(293.45,125.45)"><polygon points="1.4,-0.2 8.2,0.3 5.4,6.0" fill="#6a7aa0" fill-opacity="0.92"/><line x1="0" y1="0" x2="0.2" y2="-6.0" stroke="#d0a8a0" stroke-width="0.8"/><line x1="0" y1="0" x2="2.8" y2="-3.9" stroke="#d0a8a0" stroke-width="0.8"/><line x1="0" y1="0" x2="-5.5" y2="3.8" stroke="#d0a8a0" stroke-width="0.8"/><line x1="0" y1="0" x2="-2.9" y2="5.8" stroke="#d0a8a0" stroke-width="0.8"/><circle cx="0" cy="0" r="2.0" fill="url(#gMA)"/><circle cx="0.2" cy="-6.0" r="1.15" fill="#f4e8e6" stroke="#c49088" stroke-width="0.5"/><circle cx="2.8" cy="-3.9" r="1.15" fill="#f4e8e6" stroke="#c49088" stroke-width="0.5"/><circle cx="-5.5" cy="3.8" r="1.15" fill="#f4e8e6" stroke="#c49088" stroke-width="0.5"/><circle cx="-2.9" cy="5.8" r="1.15" fill="#f4e8e6" stroke="#c49088" stroke-width="0.5"/></g>
<g transform="translate(293.55,164.65)"><polygon points="1.4,-0.2 8.2,0.3 5.4,6.0" fill="#6a7aa0" fill-opacity="0.92"/><line x1="0" y1="0" x2="0.2" y2="-6.0" stroke="#d0a8a0" stroke-width="0.8"/><line x1="0" y1="0" x2="2.8" y2="-3.9" stroke="#d0a8a0" stroke-width="0.8"/><line x1="0" y1="0" x2="-5.5" y2="3.8" stroke="#d0a8a0" stroke-width="0.8"/><line x1="0" y1="0" x2="-2.9" y2="5.8" stroke="#d0a8a0" stroke-width="0.8"/><circle cx="0" cy="0" r="2.0" fill="url(#gMA)"/><circle cx="0.2" cy="-6.0" r="1.15" fill="#f4e8e6" stroke="#c49088" stroke-width="0.5"/><circle cx="2.8" cy="-3.9" r="1.15" fill="#f4e8e6" stroke="#c49088" stroke-width="0.5"/><circle cx="-5.5" cy="3.8" r="1.15" fill="#f4e8e6" stroke="#c49088" stroke-width="0.5"/><circle cx="-2.9" cy="5.8" r="1.15" fill="#f4e8e6" stroke="#c49088" stroke-width="0.5"/></g>
<line x1="219.00" y1="44.10" x2="221.60" y2="59.70" stroke="#d03030" stroke-width="1.0" />
<line x1="225.50" y1="49.30" x2="222.00" y2="59.70" stroke="#d03030" stroke-width="1.0" />
<line x1="222.90" y1="40.90" x2="219.00" y2="44.10" stroke="#6a4028" stroke-width="1.0" />
<line x1="222.90" y1="40.90" x2="225.50" y2="49.30" stroke="#6a4028" stroke-width="1.0" />
<line x1="224.20" y1="33.80" x2="222.90" y2="40.90" stroke="#6a4028" stroke-width="1.0" />
<line x1="224.20" y1="33.80" x2="217.90" y2="28.60" stroke="#a0b030" stroke-width="1.0" />
<line x1="224.20" y1="33.80" x2="227.30" y2="32.50" stroke="#a0b030" stroke-width="1.0" />
<line x1="224.20" y1="33.80" x2="231.90" y2="30.80" stroke="#a0b030" stroke-width="1.0" />
<polygon points="224.2,33.5 219.8,44 226.5,45.5" fill="#6a4028"/>
<circle cx="217.90" cy="28.60" r="2.1" fill="url(#gYF)"/>
<circle cx="227.30" cy="32.50" r="2.1" fill="url(#gYF)"/>
<circle cx="231.90" cy="30.80" r="2.1" fill="url(#gYF)"/>
<circle cx="219" cy="44.1" r="1.7" fill="#fff" stroke="#d02020" stroke-width="1.0"/>
<circle cx="225.5" cy="49.3" r="1.7" fill="#fff" stroke="#d02020" stroke-width="1.0"/>
<rect x="350.0" y="24.4" width="11.90" height="100.58" fill="#e4686a"/>
<rect x="362.4" y="24.4" width="11.40" height="77.03" fill="#6078bc"/>
<rect x="384.1" y="24.4" width="12.00" height="82.76" fill="#e4686a"/>
<rect x="396.9" y="24.4" width="11.10" height="73.21" fill="#6078bc"/>
<rect x="418.3" y="24.4" width="11.90" height="58.57" fill="#e4686a"/>
<rect x="430.7" y="24.4" width="11.80" height="46.47" fill="#6078bc"/>
<rect x="344.95" y="24.40" width="102.50" height="140.05" fill="none" stroke="#000" stroke-width="1.25"/>
<line x1="344.95" y1="25.00" x2="344.95" y2="163.85" stroke="#4a4a4a" stroke-width="1.8" />
<line x1="342.35" y1="24.40" x2="344.95" y2="24.40" stroke="#000" stroke-width="1.0" />
<text x="340.30" y="26.90" font-size="7.0" font-weight="bold" text-anchor="end" fill="#1a1a1a" >0.0</text>
<line x1="342.35" y1="37.13" x2="344.95" y2="37.13" stroke="#000" stroke-width="1.0" />
<text x="340.30" y="39.63" font-size="7.0" font-weight="bold" text-anchor="end" fill="#1a1a1a" >-0.2</text>
<line x1="342.35" y1="49.86" x2="344.95" y2="49.86" stroke="#000" stroke-width="1.0" />
<text x="340.30" y="52.36" font-size="7.0" font-weight="bold" text-anchor="end" fill="#1a1a1a" >-0.4</text>
<line x1="342.35" y1="62.60" x2="344.95" y2="62.60" stroke="#000" stroke-width="1.0" />
<text x="340.30" y="65.10" font-size="7.0" font-weight="bold" text-anchor="end" fill="#1a1a1a" >-0.6</text>
<line x1="342.35" y1="75.33" x2="344.95" y2="75.33" stroke="#000" stroke-width="1.0" />
<text x="340.30" y="77.83" font-size="7.0" font-weight="bold" text-anchor="end" fill="#1a1a1a" >-0.8</text>
<line x1="342.35" y1="88.06" x2="344.95" y2="88.06" stroke="#000" stroke-width="1.0" />
<text x="340.30" y="90.56" font-size="7.0" font-weight="bold" text-anchor="end" fill="#1a1a1a" >-1.0</text>
<line x1="342.35" y1="100.79" x2="344.95" y2="100.79" stroke="#000" stroke-width="1.0" />
<text x="340.30" y="103.29" font-size="7.0" font-weight="bold" text-anchor="end" fill="#1a1a1a" >-1.2</text>
<line x1="342.35" y1="113.52" x2="344.95" y2="113.52" stroke="#000" stroke-width="1.0" />
<text x="340.30" y="116.02" font-size="7.0" font-weight="bold" text-anchor="end" fill="#1a1a1a" >-1.4</text>
<line x1="342.35" y1="126.25" x2="344.95" y2="126.25" stroke="#000" stroke-width="1.0" />
<text x="340.30" y="128.75" font-size="7.0" font-weight="bold" text-anchor="end" fill="#1a1a1a" >-1.6</text>
<line x1="342.35" y1="138.99" x2="344.95" y2="138.99" stroke="#000" stroke-width="1.0" />
<text x="340.30" y="141.49" font-size="7.0" font-weight="bold" text-anchor="end" fill="#1a1a1a" >-1.8</text>
<line x1="342.35" y1="151.72" x2="344.95" y2="151.72" stroke="#000" stroke-width="1.0" />
<text x="340.30" y="154.22" font-size="7.0" font-weight="bold" text-anchor="end" fill="#1a1a1a" >-2.0</text>
<line x1="342.35" y1="164.45" x2="344.95" y2="164.45" stroke="#000" stroke-width="1.0" />
<text x="340.30" y="166.95" font-size="7.0" font-weight="bold" text-anchor="end" fill="#1a1a1a" >-2.2</text>
<line x1="362.00" y1="164.45" x2="362.00" y2="167.05" stroke="#000" stroke-width="1.0" />
<line x1="396.70" y1="164.45" x2="396.70" y2="167.05" stroke="#000" stroke-width="1.0" />
<line x1="431.30" y1="164.45" x2="431.30" y2="167.05" stroke="#000" stroke-width="1.0" />
<text x="351.30" y="176.00" font-size="8.4" font-weight="bold" text-anchor="start" fill="#1a1a1a" >TFA<tspan font-size="7.5" dx="0.9" dy="-3.4">-</tspan></text>
<text x="389.20" y="176.00" font-size="8.4" font-weight="bold" text-anchor="start" fill="#1a1a1a" >Ac<tspan font-size="7.5" dx="0.9" dy="-3.4">-</tspan></text>
<text x="424.70" y="176.00" font-size="8.4" font-weight="bold" text-anchor="start" fill="#1a1a1a" >Br<tspan font-size="7.5" dx="0.9" dy="-3.4">-</tspan></text>
<text x="0.00" y="0.00" font-size="8.2" font-weight="bold" text-anchor="middle" fill="#1a1a1a" transform="translate(324.0,95.0) rotate(-90)">Binding energy (eV)</text>
<rect x="401.9" y="143.8" width="18.4" height="9.5" fill="#e4686a"/>
<rect x="401.9" y="154.2" width="18.4" height="8.9" fill="#6078bc"/>
<text x="422.70" y="152.20" font-size="8.3" font-weight="bold" text-anchor="start" fill="#1a1a1a" >Pb-Br</text>
<text x="422.70" y="162.20" font-size="8.0" font-weight="bold" text-anchor="start" fill="#1a1a1a" >MA-Br</text>
<defs>
<radialGradient id="gRed" cx="0.38" cy="0.35" r="0.7"><stop offset="0" stop-color="#ff7070"/><stop offset="0.5" stop-color="#e01818"/><stop offset="1" stop-color="#a00808"/></radialGradient>
<radialGradient id="gDRed" cx="0.38" cy="0.35" r="0.7"><stop offset="0" stop-color="#c04040"/><stop offset="0.5" stop-color="#901010"/><stop offset="1" stop-color="#500404"/></radialGradient>
<radialGradient id="gGrey" cx="0.38" cy="0.35" r="0.7"><stop offset="0" stop-color="#f0f0f0"/><stop offset="0.5" stop-color="#a8a8a8"/><stop offset="1" stop-color="#707070"/></radialGradient>
<radialGradient id="gDGrey" cx="0.38" cy="0.35" r="0.7"><stop offset="0" stop-color="#d0d0d0"/><stop offset="0.5" stop-color="#787878"/><stop offset="1" stop-color="#404040"/></radialGradient>
<radialGradient id="gYel" cx="0.38" cy="0.35" r="0.7"><stop offset="0" stop-color="#f0ff90"/><stop offset="0.5" stop-color="#b8d830"/><stop offset="1" stop-color="#809010"/></radialGradient>
<radialGradient id="gYelD" cx="0.38" cy="0.35" r="0.7"><stop offset="0" stop-color="#c8d060"/><stop offset="0.5" stop-color="#98a020"/><stop offset="1" stop-color="#606808"/></radialGradient>
<radialGradient id="gCyan" cx="0.38" cy="0.35" r="0.7"><stop offset="0" stop-color="#80f0f0"/><stop offset="0.5" stop-color="#10b0b8"/><stop offset="1" stop-color="#087078"/></radialGradient>
<radialGradient id="gBr" cx="0.38" cy="0.35" r="0.7"><stop offset="0" stop-color="#f08060"/><stop offset="0.5" stop-color="#c84020"/><stop offset="1" stop-color="#802008"/></radialGradient>
</defs>
<line x1="349.50" y1="129.30" x2="361.10" y2="134.90" stroke="#b0b0b0" stroke-width="1.6" />
<line x1="374.20" y1="128.30" x2="361.10" y2="134.90" stroke="#b0b0b0" stroke-width="1.6" />
<line x1="361.10" y1="134.90" x2="362.20" y2="151.40" stroke="#b0b0b0" stroke-width="1.6" />
<line x1="362.20" y1="151.40" x2="355.10" y2="153.00" stroke="#b0b0b0" stroke-width="1.6" />
<line x1="362.20" y1="151.40" x2="353.20" y2="158.90" stroke="#b0b0b0" stroke-width="1.6" />
<line x1="362.20" y1="151.40" x2="376.50" y2="156.80" stroke="#b0b0b0" stroke-width="1.6" />
<line x1="349.50" y1="129.30" x2="355.00" y2="132.00" stroke="#e03030" stroke-width="1.6" />
<line x1="374.20" y1="128.30" x2="368.00" y2="131.50" stroke="#e03030" stroke-width="1.6" />
<line x1="362.20" y1="151.40" x2="355.10" y2="153.00" stroke="#b8d030" stroke-width="1.6" />
<line x1="362.20" y1="151.40" x2="371.00" y2="155.00" stroke="#b8d030" stroke-width="1.6" />
<circle cx="349.5" cy="129.3" r="3.4" fill="url(#gRed)"/>
<circle cx="374.2" cy="128.3" r="3.4" fill="url(#gRed)"/>
<circle cx="361.1" cy="134.9" r="3.6" fill="url(#gGrey)"/>
<circle cx="355.1" cy="153.0" r="3.0" fill="url(#gYel)"/>
<circle cx="362.2" cy="151.4" r="3.6" fill="url(#gGrey)"/>
<circle cx="353.2" cy="159.2" r="3.2" fill="url(#gYel)"/>
<circle cx="376.5" cy="156.8" r="3.4" fill="url(#gYelD)"/>
<text x="376.50" y="159.25" font-size="6.8" font-weight="bold" text-anchor="middle" fill="#222" >F</text>
<line x1="384.80" y1="111.90" x2="396.80" y2="117.30" stroke="#b0b0b0" stroke-width="1.6" />
<line x1="410.00" y1="110.20" x2="396.80" y2="117.30" stroke="#b0b0b0" stroke-width="1.6" />
<line x1="396.80" y1="117.30" x2="397.60" y2="132.90" stroke="#b0b0b0" stroke-width="1.6" />
<line x1="397.60" y1="132.90" x2="386.40" y2="137.90" stroke="#b0b0b0" stroke-width="1.6" />
<line x1="397.60" y1="132.90" x2="404.20" y2="133.70" stroke="#b0b0b0" stroke-width="1.6" />
<line x1="397.60" y1="132.90" x2="403.40" y2="140.00" stroke="#b0b0b0" stroke-width="1.6" />
<line x1="397.60" y1="132.90" x2="390.00" y2="136.30" stroke="#20b8c0" stroke-width="1.6" />
<circle cx="384.8" cy="111.9" r="3.4" fill="url(#gDRed)"/>
<text x="384.80" y="114.35" font-size="6.8" font-weight="bold" text-anchor="middle" fill="#111" >O</text>
<circle cx="410.0" cy="110.2" r="3.3" fill="url(#gRed)"/>
<circle cx="396.8" cy="117.3" r="3.6" fill="url(#gDGrey)"/>
<text x="396.80" y="119.75" font-size="6.8" font-weight="bold" text-anchor="middle" fill="#111" >C</text>
<circle cx="397.6" cy="132.9" r="3.6" fill="url(#gGrey)"/>
<circle cx="386.4" cy="137.9" r="2.8" fill="url(#gCyan)"/>
<circle cx="404.2" cy="133.7" r="2.8" fill="url(#gCyan)"/>
<circle cx="403.4" cy="140.0" r="2.8" fill="url(#gCyan)"/>
<text x="403.40" y="142.45" font-size="6.8" font-weight="bold" text-anchor="middle" fill="#111" >H</text>
<circle cx="431.0" cy="92.4" r="7.0" fill="url(#gBr)"/>
<text x="431.00" y="95.14" font-size="7.6" font-weight="bold" text-anchor="middle" fill="#2a0804" >Br</text>
<defs><filter id="bl1" x="-50%" y="-50%" width="200%" height="200%"><feGaussianBlur stdDeviation="0.5"/></filter></defs>
<g filter="url(#bl1)">
<circle cx="646" cy="28.4" r="2.9" fill="#c8d440"/>
<circle cx="652.3" cy="29.8" r="2.4" fill="#c8d440"/>
<circle cx="640.8" cy="36.4" r="4.2" fill="#c4d23c"/>
<circle cx="651.8" cy="38.6" r="4.0" fill="#c4d23c"/>
<circle cx="646.3" cy="41.5" r="3.4" fill="#c0d038"/>
<circle cx="640.2" cy="44.0" r="3.4" fill="#2ab0c0"/>
<circle cx="647.2" cy="48.8" r="2.9" fill="#2ab0c0"/>
<circle cx="645.4" cy="52.0" r="2.6" fill="#30b0c0"/>
<circle cx="637.2" cy="46.5" r="1.8" fill="#c8d440"/>
<circle cx="630.8" cy="46.5" r="1.8" fill="#c8d440"/>
<circle cx="643.9" cy="55.2" r="1.8" fill="#c8d440"/>
<circle cx="643.9" cy="59.2" r="1.7" fill="#c8d440"/>
<circle cx="662.0" cy="42.8" r="2.3" fill="#2ab0c0"/>
<circle cx="626.4" cy="43.3" r="1.4" fill="#2ab0c0"/>
<circle cx="626.7" cy="49.6" r="1.4" fill="#2ab0c0"/>
<circle cx="648.5" cy="32.8" r="1.5" fill="#2ab0c0"/>
<circle cx="645.5" cy="35.5" r="1.3" fill="#2ab0c0"/>
</g>
<line x1="614.40" y1="46.50" x2="673.50" y2="46.50" stroke="#b08070" stroke-width="0.8" />
<line x1="614.40" y1="66.20" x2="673.50" y2="66.20" stroke="#b08070" stroke-width="0.8" />
<line x1="614.40" y1="86.10" x2="673.50" y2="86.10" stroke="#b08070" stroke-width="0.8" />
<line x1="624.40" y1="46.50" x2="624.40" y2="95.70" stroke="#8a8f9a" stroke-width="0.8" />
<line x1="643.90" y1="46.50" x2="643.90" y2="95.70" stroke="#8a8f9a" stroke-width="0.8" />
<line x1="663.60" y1="46.50" x2="663.60" y2="95.70" stroke="#8a8f9a" stroke-width="0.8" />
<g transform="translate(613.4,56.8)"><line x1="-2.4" y1="0" x2="-4.4" y2="-2.2" stroke="#d8b0a8" stroke-width="0.7"/><line x1="-2.4" y1="0" x2="-4.0" y2="2.8" stroke="#d8b0a8" stroke-width="0.7"/><line x1="2.4" y1="-0.2" x2="3.6" y2="-3.0" stroke="#d8b0a8" stroke-width="0.7"/><line x1="2.4" y1="-0.2" x2="4.0" y2="2.4" stroke="#d8b0a8" stroke-width="0.7"/><line x1="2.4" y1="-0.2" x2="4.6" y2="0.2" stroke="#d8b0a8" stroke-width="0.7"/><line x1="-2.4" y1="0" x2="2.4" y2="-0.2" stroke="#8a7470" stroke-width="1.5"/><circle cx="-2.4" cy="0" r="1.35" fill="#8898c0"/><circle cx="2.4" cy="-0.2" r="1.4" fill="#7a5030"/><circle cx="-4.4" cy="-2.2" r="0.75" fill="#f4e4e2" stroke="#c89890" stroke-width="0.4"/><circle cx="-4.0" cy="2.8" r="0.75" fill="#f4e4e2" stroke="#c89890" stroke-width="0.4"/><circle cx="3.6" cy="-3.0" r="0.75" fill="#f4e4e2" stroke="#c89890" stroke-width="0.4"/><circle cx="4.0" cy="2.4" r="0.75" fill="#f4e4e2" stroke="#c89890" stroke-width="0.4"/></g>
<g transform="translate(633.0,56.8)"><line x1="-2.4" y1="0" x2="-4.4" y2="-2.2" stroke="#d8b0a8" stroke-width="0.7"/><line x1="-2.4" y1="0" x2="-4.0" y2="2.8" stroke="#d8b0a8" stroke-width="0.7"/><line x1="2.4" y1="-0.2" x2="3.6" y2="-3.0" stroke="#d8b0a8" stroke-width="0.7"/><line x1="2.4" y1="-0.2" x2="4.0" y2="2.4" stroke="#d8b0a8" stroke-width="0.7"/><line x1="2.4" y1="-0.2" x2="4.6" y2="0.2" stroke="#d8b0a8" stroke-width="0.7"/><line x1="-2.4" y1="0" x2="2.4" y2="-0.2" stroke="#8a7470" stroke-width="1.5"/><circle cx="-2.4" cy="0" r="1.35" fill="#8898c0"/><circle cx="2.4" cy="-0.2" r="1.4" fill="#7a5030"/><circle cx="-4.4" cy="-2.2" r="0.75" fill="#f4e4e2" stroke="#c89890" stroke-width="0.4"/><circle cx="-4.0" cy="2.8" r="0.75" fill="#f4e4e2" stroke="#c89890" stroke-width="0.4"/><circle cx="3.6" cy="-3.0" r="0.75" fill="#f4e4e2" stroke="#c89890" stroke-width="0.4"/><circle cx="4.0" cy="2.4" r="0.75" fill="#f4e4e2" stroke="#c89890" stroke-width="0.4"/></g>
<g transform="translate(652.6,56.8)"><line x1="-2.4" y1="0" x2="-4.4" y2="-2.2" stroke="#d8b0a8" stroke-width="0.7"/><line x1="-2.4" y1="0" x2="-4.0" y2="2.8" stroke="#d8b0a8" stroke-width="0.7"/><line x1="2.4" y1="-0.2" x2="3.6" y2="-3.0" stroke="#d8b0a8" stroke-width="0.7"/><line x1="2.4" y1="-0.2" x2="4.0" y2="2.4" stroke="#d8b0a8" stroke-width="0.7"/><line x1="2.4" y1="-0.2" x2="4.6" y2="0.2" stroke="#d8b0a8" stroke-width="0.7"/><line x1="-2.4" y1="0" x2="2.4" y2="-0.2" stroke="#8a7470" stroke-width="1.5"/><circle cx="-2.4" cy="0" r="1.35" fill="#8898c0"/><circle cx="2.4" cy="-0.2" r="1.4" fill="#7a5030"/><circle cx="-4.4" cy="-2.2" r="0.75" fill="#f4e4e2" stroke="#c89890" stroke-width="0.4"/><circle cx="-4.0" cy="2.8" r="0.75" fill="#f4e4e2" stroke="#c89890" stroke-width="0.4"/><circle cx="3.6" cy="-3.0" r="0.75" fill="#f4e4e2" stroke="#c89890" stroke-width="0.4"/><circle cx="4.0" cy="2.4" r="0.75" fill="#f4e4e2" stroke="#c89890" stroke-width="0.4"/></g>
<g transform="translate(672.2,56.8)"><line x1="-2.4" y1="0" x2="-4.4" y2="-2.2" stroke="#d8b0a8" stroke-width="0.7"/><line x1="-2.4" y1="0" x2="-4.0" y2="2.8" stroke="#d8b0a8" stroke-width="0.7"/><line x1="2.4" y1="-0.2" x2="3.6" y2="-3.0" stroke="#d8b0a8" stroke-width="0.7"/><line x1="2.4" y1="-0.2" x2="4.0" y2="2.4" stroke="#d8b0a8" stroke-width="0.7"/><line x1="2.4" y1="-0.2" x2="4.6" y2="0.2" stroke="#d8b0a8" stroke-width="0.7"/><line x1="-2.4" y1="0" x2="2.4" y2="-0.2" stroke="#8a7470" stroke-width="1.5"/><circle cx="-2.4" cy="0" r="1.35" fill="#8898c0"/><circle cx="2.4" cy="-0.2" r="1.4" fill="#7a5030"/><circle cx="-4.4" cy="-2.2" r="0.75" fill="#f4e4e2" stroke="#c89890" stroke-width="0.4"/><circle cx="-4.0" cy="2.8" r="0.75" fill="#f4e4e2" stroke="#c89890" stroke-width="0.4"/><circle cx="3.6" cy="-3.0" r="0.75" fill="#f4e4e2" stroke="#c89890" stroke-width="0.4"/><circle cx="4.0" cy="2.4" r="0.75" fill="#f4e4e2" stroke="#c89890" stroke-width="0.4"/></g>
<g transform="translate(613.4,76.5)"><line x1="-2.4" y1="0" x2="-4.4" y2="-2.2" stroke="#d8b0a8" stroke-width="0.7"/><line x1="-2.4" y1="0" x2="-4.0" y2="2.8" stroke="#d8b0a8" stroke-width="0.7"/><line x1="2.4" y1="-0.2" x2="3.6" y2="-3.0" stroke="#d8b0a8" stroke-width="0.7"/><line x1="2.4" y1="-0.2" x2="4.0" y2="2.4" stroke="#d8b0a8" stroke-width="0.7"/><line x1="2.4" y1="-0.2" x2="4.6" y2="0.2" stroke="#d8b0a8" stroke-width="0.7"/><line x1="-2.4" y1="0" x2="2.4" y2="-0.2" stroke="#8a7470" stroke-width="1.5"/><circle cx="-2.4" cy="0" r="1.35" fill="#8898c0"/><circle cx="2.4" cy="-0.2" r="1.4" fill="#7a5030"/><circle cx="-4.4" cy="-2.2" r="0.75" fill="#f4e4e2" stroke="#c89890" stroke-width="0.4"/><circle cx="-4.0" cy="2.8" r="0.75" fill="#f4e4e2" stroke="#c89890" stroke-width="0.4"/><circle cx="3.6" cy="-3.0" r="0.75" fill="#f4e4e2" stroke="#c89890" stroke-width="0.4"/><circle cx="4.0" cy="2.4" r="0.75" fill="#f4e4e2" stroke="#c89890" stroke-width="0.4"/></g>
<g transform="translate(633.0,76.5)"><line x1="-2.4" y1="0" x2="-4.4" y2="-2.2" stroke="#d8b0a8" stroke-width="0.7"/><line x1="-2.4" y1="0" x2="-4.0" y2="2.8" stroke="#d8b0a8" stroke-width="0.7"/><line x1="2.4" y1="-0.2" x2="3.6" y2="-3.0" stroke="#d8b0a8" stroke-width="0.7"/><line x1="2.4" y1="-0.2" x2="4.0" y2="2.4" stroke="#d8b0a8" stroke-width="0.7"/><line x1="2.4" y1="-0.2" x2="4.6" y2="0.2" stroke="#d8b0a8" stroke-width="0.7"/><line x1="-2.4" y1="0" x2="2.4" y2="-0.2" stroke="#8a7470" stroke-width="1.5"/><circle cx="-2.4" cy="0" r="1.35" fill="#8898c0"/><circle cx="2.4" cy="-0.2" r="1.4" fill="#7a5030"/><circle cx="-4.4" cy="-2.2" r="0.75" fill="#f4e4e2" stroke="#c89890" stroke-width="0.4"/><circle cx="-4.0" cy="2.8" r="0.75" fill="#f4e4e2" stroke="#c89890" stroke-width="0.4"/><circle cx="3.6" cy="-3.0" r="0.75" fill="#f4e4e2" stroke="#c89890" stroke-width="0.4"/><circle cx="4.0" cy="2.4" r="0.75" fill="#f4e4e2" stroke="#c89890" stroke-width="0.4"/></g>
<g transform="translate(652.6,76.5)"><line x1="-2.4" y1="0" x2="-4.4" y2="-2.2" stroke="#d8b0a8" stroke-width="0.7"/><line x1="-2.4" y1="0" x2="-4.0" y2="2.8" stroke="#d8b0a8" stroke-width="0.7"/><line x1="2.4" y1="-0.2" x2="3.6" y2="-3.0" stroke="#d8b0a8" stroke-width="0.7"/><line x1="2.4" y1="-0.2" x2="4.0" y2="2.4" stroke="#d8b0a8" stroke-width="0.7"/><line x1="2.4" y1="-0.2" x2="4.6" y2="0.2" stroke="#d8b0a8" stroke-width="0.7"/><line x1="-2.4" y1="0" x2="2.4" y2="-0.2" stroke="#8a7470" stroke-width="1.5"/><circle cx="-2.4" cy="0" r="1.35" fill="#8898c0"/><circle cx="2.4" cy="-0.2" r="1.4" fill="#7a5030"/><circle cx="-4.4" cy="-2.2" r="0.75" fill="#f4e4e2" stroke="#c89890" stroke-width="0.4"/><circle cx="-4.0" cy="2.8" r="0.75" fill="#f4e4e2" stroke="#c89890" stroke-width="0.4"/><circle cx="3.6" cy="-3.0" r="0.75" fill="#f4e4e2" stroke="#c89890" stroke-width="0.4"/><circle cx="4.0" cy="2.4" r="0.75" fill="#f4e4e2" stroke="#c89890" stroke-width="0.4"/></g>
<g transform="translate(672.2,76.5)"><line x1="-2.4" y1="0" x2="-4.4" y2="-2.2" stroke="#d8b0a8" stroke-width="0.7"/><line x1="-2.4" y1="0" x2="-4.0" y2="2.8" stroke="#d8b0a8" stroke-width="0.7"/><line x1="2.4" y1="-0.2" x2="3.6" y2="-3.0" stroke="#d8b0a8" stroke-width="0.7"/><line x1="2.4" y1="-0.2" x2="4.0" y2="2.4" stroke="#d8b0a8" stroke-width="0.7"/><line x1="2.4" y1="-0.2" x2="4.6" y2="0.2" stroke="#d8b0a8" stroke-width="0.7"/><line x1="-2.4" y1="0" x2="2.4" y2="-0.2" stroke="#8a7470" stroke-width="1.5"/><circle cx="-2.4" cy="0" r="1.35" fill="#8898c0"/><circle cx="2.4" cy="-0.2" r="1.4" fill="#7a5030"/><circle cx="-4.4" cy="-2.2" r="0.75" fill="#f4e4e2" stroke="#c89890" stroke-width="0.4"/><circle cx="-4.0" cy="2.8" r="0.75" fill="#f4e4e2" stroke="#c89890" stroke-width="0.4"/><circle cx="3.6" cy="-3.0" r="0.75" fill="#f4e4e2" stroke="#c89890" stroke-width="0.4"/><circle cx="4.0" cy="2.4" r="0.75" fill="#f4e4e2" stroke="#c89890" stroke-width="0.4"/></g>
<g transform="translate(613.4,96.2)"><line x1="-2.4" y1="0" x2="-4.4" y2="-2.2" stroke="#d8b0a8" stroke-width="0.7"/><line x1="-2.4" y1="0" x2="-4.0" y2="2.8" stroke="#d8b0a8" stroke-width="0.7"/><line x1="2.4" y1="-0.2" x2="3.6" y2="-3.0" stroke="#d8b0a8" stroke-width="0.7"/><line x1="2.4" y1="-0.2" x2="4.0" y2="2.4" stroke="#d8b0a8" stroke-width="0.7"/><line x1="2.4" y1="-0.2" x2="4.6" y2="0.2" stroke="#d8b0a8" stroke-width="0.7"/><line x1="-2.4" y1="0" x2="2.4" y2="-0.2" stroke="#8a7470" stroke-width="1.5"/><circle cx="-2.4" cy="0" r="1.35" fill="#8898c0"/><circle cx="2.4" cy="-0.2" r="1.4" fill="#7a5030"/><circle cx="-4.4" cy="-2.2" r="0.75" fill="#f4e4e2" stroke="#c89890" stroke-width="0.4"/><circle cx="-4.0" cy="2.8" r="0.75" fill="#f4e4e2" stroke="#c89890" stroke-width="0.4"/><circle cx="3.6" cy="-3.0" r="0.75" fill="#f4e4e2" stroke="#c89890" stroke-width="0.4"/><circle cx="4.0" cy="2.4" r="0.75" fill="#f4e4e2" stroke="#c89890" stroke-width="0.4"/></g>
<g transform="translate(633.0,96.2)"><line x1="-2.4" y1="0" x2="-4.4" y2="-2.2" stroke="#d8b0a8" stroke-width="0.7"/><line x1="-2.4" y1="0" x2="-4.0" y2="2.8" stroke="#d8b0a8" stroke-width="0.7"/><line x1="2.4" y1="-0.2" x2="3.6" y2="-3.0" stroke="#d8b0a8" stroke-width="0.7"/><line x1="2.4" y1="-0.2" x2="4.0" y2="2.4" stroke="#d8b0a8" stroke-width="0.7"/><line x1="2.4" y1="-0.2" x2="4.6" y2="0.2" stroke="#d8b0a8" stroke-width="0.7"/><line x1="-2.4" y1="0" x2="2.4" y2="-0.2" stroke="#8a7470" stroke-width="1.5"/><circle cx="-2.4" cy="0" r="1.35" fill="#8898c0"/><circle cx="2.4" cy="-0.2" r="1.4" fill="#7a5030"/><circle cx="-4.4" cy="-2.2" r="0.75" fill="#f4e4e2" stroke="#c89890" stroke-width="0.4"/><circle cx="-4.0" cy="2.8" r="0.75" fill="#f4e4e2" stroke="#c89890" stroke-width="0.4"/><circle cx="3.6" cy="-3.0" r="0.75" fill="#f4e4e2" stroke="#c89890" stroke-width="0.4"/><circle cx="4.0" cy="2.4" r="0.75" fill="#f4e4e2" stroke="#c89890" stroke-width="0.4"/></g>
<g transform="translate(652.6,96.2)"><line x1="-2.4" y1="0" x2="-4.4" y2="-2.2" stroke="#d8b0a8" stroke-width="0.7"/><line x1="-2.4" y1="0" x2="-4.0" y2="2.8" stroke="#d8b0a8" stroke-width="0.7"/><line x1="2.4" y1="-0.2" x2="3.6" y2="-3.0" stroke="#d8b0a8" stroke-width="0.7"/><line x1="2.4" y1="-0.2" x2="4.0" y2="2.4" stroke="#d8b0a8" stroke-width="0.7"/><line x1="2.4" y1="-0.2" x2="4.6" y2="0.2" stroke="#d8b0a8" stroke-width="0.7"/><line x1="-2.4" y1="0" x2="2.4" y2="-0.2" stroke="#8a7470" stroke-width="1.5"/><circle cx="-2.4" cy="0" r="1.35" fill="#8898c0"/><circle cx="2.4" cy="-0.2" r="1.4" fill="#7a5030"/><circle cx="-4.4" cy="-2.2" r="0.75" fill="#f4e4e2" stroke="#c89890" stroke-width="0.4"/><circle cx="-4.0" cy="2.8" r="0.75" fill="#f4e4e2" stroke="#c89890" stroke-width="0.4"/><circle cx="3.6" cy="-3.0" r="0.75" fill="#f4e4e2" stroke="#c89890" stroke-width="0.4"/><circle cx="4.0" cy="2.4" r="0.75" fill="#f4e4e2" stroke="#c89890" stroke-width="0.4"/></g>
<g transform="translate(672.2,96.2)"><line x1="-2.4" y1="0" x2="-4.4" y2="-2.2" stroke="#d8b0a8" stroke-width="0.7"/><line x1="-2.4" y1="0" x2="-4.0" y2="2.8" stroke="#d8b0a8" stroke-width="0.7"/><line x1="2.4" y1="-0.2" x2="3.6" y2="-3.0" stroke="#d8b0a8" stroke-width="0.7"/><line x1="2.4" y1="-0.2" x2="4.0" y2="2.4" stroke="#d8b0a8" stroke-width="0.7"/><line x1="2.4" y1="-0.2" x2="4.6" y2="0.2" stroke="#d8b0a8" stroke-width="0.7"/><line x1="-2.4" y1="0" x2="2.4" y2="-0.2" stroke="#8a7470" stroke-width="1.5"/><circle cx="-2.4" cy="0" r="1.35" fill="#8898c0"/><circle cx="2.4" cy="-0.2" r="1.4" fill="#7a5030"/><circle cx="-4.4" cy="-2.2" r="0.75" fill="#f4e4e2" stroke="#c89890" stroke-width="0.4"/><circle cx="-4.0" cy="2.8" r="0.75" fill="#f4e4e2" stroke="#c89890" stroke-width="0.4"/><circle cx="3.6" cy="-3.0" r="0.75" fill="#f4e4e2" stroke="#c89890" stroke-width="0.4"/><circle cx="4.0" cy="2.4" r="0.75" fill="#f4e4e2" stroke="#c89890" stroke-width="0.4"/></g>
<circle cx="614.4" cy="46.5" r="1.25" fill="#f6d6c0" stroke="#d86830" stroke-width="0.7"/>
<circle cx="634.1" cy="46.5" r="1.25" fill="#f6d6c0" stroke="#d86830" stroke-width="0.7"/>
<circle cx="653.8" cy="46.5" r="1.25" fill="#f6d6c0" stroke="#d86830" stroke-width="0.7"/>
<circle cx="673.5" cy="46.5" r="1.25" fill="#f6d6c0" stroke="#d86830" stroke-width="0.7"/>
<circle cx="614.4" cy="66.2" r="1.25" fill="#f6d6c0" stroke="#d86830" stroke-width="0.7"/>
<circle cx="634.1" cy="66.2" r="1.25" fill="#f6d6c0" stroke="#d86830" stroke-width="0.7"/>
<circle cx="653.8" cy="66.2" r="1.25" fill="#f6d6c0" stroke="#d86830" stroke-width="0.7"/>
<circle cx="673.5" cy="66.2" r="1.25" fill="#f6d6c0" stroke="#d86830" stroke-width="0.7"/>
<circle cx="614.4" cy="86.1" r="1.25" fill="#f6d6c0" stroke="#d86830" stroke-width="0.7"/>
<circle cx="634.1" cy="86.1" r="1.25" fill="#f6d6c0" stroke="#d86830" stroke-width="0.7"/>
<circle cx="653.8" cy="86.1" r="1.25" fill="#f6d6c0" stroke="#d86830" stroke-width="0.7"/>
<circle cx="673.5" cy="86.1" r="1.25" fill="#f6d6c0" stroke="#d86830" stroke-width="0.7"/>
<circle cx="624.4" cy="56.4" r="1.25" fill="#f6d6c0" stroke="#d86830" stroke-width="0.7"/>
<circle cx="624.4" cy="76.2" r="1.25" fill="#f6d6c0" stroke="#d86830" stroke-width="0.7"/>
<circle cx="624.4" cy="95.8" r="1.25" fill="#f6d6c0" stroke="#d86830" stroke-width="0.7"/>
<circle cx="643.9" cy="56.4" r="1.25" fill="#f6d6c0" stroke="#d86830" stroke-width="0.7"/>
<circle cx="643.9" cy="76.2" r="1.25" fill="#f6d6c0" stroke="#d86830" stroke-width="0.7"/>
<circle cx="643.9" cy="95.8" r="1.25" fill="#f6d6c0" stroke="#d86830" stroke-width="0.7"/>
<circle cx="663.6" cy="56.4" r="1.25" fill="#f6d6c0" stroke="#d86830" stroke-width="0.7"/>
<circle cx="663.6" cy="76.2" r="1.25" fill="#f6d6c0" stroke="#d86830" stroke-width="0.7"/>
<circle cx="663.6" cy="95.8" r="1.25" fill="#f6d6c0" stroke="#d86830" stroke-width="0.7"/>
<circle cx="624.4" cy="46.5" r="2.9" fill="#3c3c44"/><circle cx="624.4" cy="46.5" r="1.2" fill="#d87038"/>
<circle cx="643.9" cy="46.5" r="2.9" fill="#3c3c44"/><circle cx="643.9" cy="46.5" r="1.2" fill="#d87038"/>
<circle cx="663.6" cy="46.5" r="2.9" fill="#3c3c44"/><circle cx="663.6" cy="46.5" r="1.2" fill="#d87038"/>
<circle cx="624.4" cy="66.2" r="2.9" fill="#3c3c44"/><circle cx="624.4" cy="66.2" r="1.2" fill="#d87038"/>
<circle cx="643.9" cy="66.2" r="2.9" fill="#3c3c44"/><circle cx="643.9" cy="66.2" r="1.2" fill="#d87038"/>
<circle cx="663.6" cy="66.2" r="2.9" fill="#3c3c44"/><circle cx="663.6" cy="66.2" r="1.2" fill="#d87038"/>
<circle cx="624.4" cy="86.1" r="2.9" fill="#3c3c44"/><circle cx="624.4" cy="86.1" r="1.2" fill="#d87038"/>
<circle cx="643.9" cy="86.1" r="2.9" fill="#3c3c44"/><circle cx="643.9" cy="86.1" r="1.2" fill="#d87038"/>
<circle cx="663.6" cy="86.1" r="2.9" fill="#3c3c44"/><circle cx="663.6" cy="86.1" r="1.2" fill="#d87038"/>
<polyline points="489.50,64.86 489.65,65.15 489.84,65.53 490.06,65.98 490.32,66.48 490.59,67.02 490.87,67.58 491.16,68.12 491.43,68.65 491.69,69.13 491.92,69.56 492.13,69.91 492.33,70.21 492.51,70.47 492.69,70.72 492.86,70.95 493.04,71.20 493.22,71.46 493.42,71.77 493.63,72.13 493.86,72.56 494.11,73.07 494.36,73.64 494.62,74.26 494.88,74.92 495.16,75.60 495.45,76.30 495.76,77.00 496.08,77.68 496.41,78.33 496.77,78.94 497.14,79.51 497.55,80.06 497.97,80.59 498.41,81.11 498.86,81.62 499.31,82.13 499.77,82.64 500.23,83.17 500.69,83.72 501.13,84.29 501.56,84.89 502.00,85.50 502.44,86.13 502.87,86.77 503.31,87.42 503.74,88.07 504.18,88.73 504.62,89.38 505.05,90.03 505.49,90.68 505.93,91.34 506.38,92.03 506.84,92.74 507.30,93.46 507.76,94.17 508.21,94.85 508.65,95.50 509.07,96.09 509.47,96.61 509.85,97.06 510.20,97.41 510.53,97.67 510.84,97.87 511.14,98.01 511.42,98.11 511.70,98.19 511.97,98.27 512.23,98.36 512.49,98.49 512.76,98.65 513.02,98.85 513.28,99.06 513.53,99.27 513.78,99.49 514.03,99.71 514.27,99.95 514.50,100.19 514.73,100.45 514.96,100.72 515.18,101.00 515.38,101.29 515.56,101.59 515.72,101.90 515.87,102.22 516.03,102.55 516.19,102.90 516.37,103.26 516.58,103.64 516.83,104.05 517.12,104.47 517.46,104.95 517.84,105.48 518.26,106.05 518.71,106.64 519.18,107.24 519.65,107.83 520.13,108.40 520.60,108.93 521.05,109.41 521.48,109.82 521.88,110.16 522.28,110.43 522.66,110.65 523.04,110.83 523.42,110.99 523.79,111.14 524.17,111.29 524.55,111.46 524.95,111.65 525.35,111.89 525.77,112.17 526.21,112.48 526.66,112.82 527.11,113.17 527.56,113.53 528.02,113.88 528.46,114.22 528.90,114.54 529.31,114.83 529.71,115.08 530.09,115.30 530.45,115.50 530.80,115.69 531.14,115.85 531.47,116.00 531.79,116.13 532.12,116.25 532.44,116.34 532.77,116.42 533.11,116.49 533.44,116.52 533.78,116.52 534.11,116.48 534.44,116.43 534.77,116.36 535.11,116.29 535.44,116.24 535.79,116.19 536.14,116.18 536.50,116.21 536.87,116.27 537.25,116.36 537.64,116.48 538.04,116.61 538.43,116.75 538.83,116.90 539.23,117.05 539.62,117.19 540.00,117.32 540.37,117.43 540.73,117.52 541.07,117.62 541.41,117.71 541.74,117.79 542.07,117.87 542.40,117.94 542.73,118.01 543.06,118.07 543.41,118.13 543.76,118.18 544.06,118.22 544.26,118.26 544.40,118.28 544.54,118.30 544.70,118.32 544.95,118.33 545.32,118.34 545.86,118.35 546.62,118.36 547.64,118.37 549.01,118.37 550.74,118.38 552.74,118.38 554.93,118.38 557.21,118.38 559.50,118.38 561.71,118.38 563.76,118.38 565.56,118.37 567.02,118.37 568.16,118.37 569.07,118.37 569.79,118.37 570.37,118.38 570.84,118.38 571.23,118.38 571.59,118.37 571.95,118.35 572.35,118.32 572.83,118.27 573.36,118.21 573.87,118.13 574.36,118.05 574.84,117.95 575.32,117.84 575.79,117.73 576.26,117.61 576.73,117.49 577.20,117.37 577.68,117.24 578.17,117.10 578.66,116.93 579.16,116.74 579.66,116.54 580.16,116.35 580.66,116.17 581.14,116.00 581.62,115.87 582.08,115.78 582.52,115.74 582.95,115.75 583.36,115.81 583.76,115.90 584.14,116.03 584.52,116.17 584.90,116.33 585.27,116.50 585.64,116.67 586.02,116.82 586.40,116.96 586.78,117.09 587.14,117.24 587.50,117.38 587.86,117.54 588.22,117.69 588.59,117.83 588.97,117.97 589.38,118.09 589.81,118.19 590.28,118.27 590.72,118.33 591.10,118.37 591.45,118.39 591.81,118.40 592.21,118.40 592.69,118.39 593.29,118.38 594.03,118.37 594.95,118.37 596.09,118.37 597.53,118.37 599.29,118.38 601.29,118.38 603.45,118.39 605.69,118.39 607.94,118.39 610.12,118.39 612.15,118.39 613.96,118.38 615.47,118.37 616.69,118.36 617.70,118.35 618.54,118.35 619.25,118.35 619.86,118.34 620.41,118.32 620.94,118.29 621.48,118.24 622.07,118.18 622.74,118.09 623.46,117.97 624.19,117.85 624.92,117.70 625.64,117.54 626.37,117.37 627.10,117.18 627.82,116.98 628.55,116.77 629.28,116.54 630.00,116.30 630.73,116.05 631.46,115.78 632.19,115.49 632.91,115.19 633.64,114.88 634.37,114.55 635.09,114.22 635.82,113.89 636.55,113.55 637.27,113.20 638.00,112.86 638.73,112.50 639.45,112.13 640.18,111.75 640.91,111.37 641.63,110.98 642.36,110.60 643.09,110.21 643.81,109.83 644.54,109.45 645.27,109.06 646.02,108.66 646.77,108.25 647.52,107.83 648.26,107.43 649.01,107.03 649.73,106.65 650.45,106.30 651.14,105.98 651.81,105.69 652.45,105.45 653.07,105.23 653.67,105.04 654.26,104.87 654.84,104.73 655.40,104.60 655.96,104.50 656.51,104.41 657.07,104.34 657.62,104.29 658.17,104.25 658.71,104.23 659.24,104.24 659.76,104.26 660.29,104.30 660.81,104.36 661.33,104.44 661.86,104.53 662.40,104.64 662.95,104.76 663.52,104.90 664.10,105.09 664.69,105.30 665.29,105.53 665.89,105.77 666.49,106.01 667.08,106.24 667.66,106.46 668.22,106.66 668.76,106.82 669.29,106.96 669.80,107.10 670.29,107.23 670.77,107.35 671.25,107.45 671.72,107.54 672.19,107.61 672.66,107.65 673.13,107.67 673.61,107.67 674.09,107.63 674.58,107.57 675.06,107.48 675.55,107.38 676.03,107.25 676.52,107.10 677.00,106.94 677.49,106.76 677.97,106.56 678.45,106.35 678.96,106.11 679.50,105.81 680.06,105.48 680.63,105.13 681.18,104.77 681.71,104.41 682.20,104.08 682.64,103.78 683.01,103.53 683.30,103.35" fill="none" stroke="#2b8fd4" stroke-width="1.5" stroke-linejoin="round" stroke-linecap="round" />
<polyline points="489.50,150.00 489.73,150.21 490.03,150.48 490.39,150.81 490.79,151.19 491.23,151.58 491.67,151.98 492.13,152.36 492.57,152.72 492.99,153.03 493.38,153.29 493.73,153.50 494.09,153.69 494.43,153.88 494.77,154.04 495.10,154.17 495.43,154.28 495.77,154.35 496.10,154.38 496.43,154.37 496.77,154.32 497.10,154.22 497.43,154.09 497.75,153.93 498.08,153.72 498.40,153.48 498.73,153.21 499.07,152.89 499.42,152.53 499.78,152.13 500.16,151.69 500.55,151.19 500.95,150.64 501.37,150.04 501.79,149.40 502.22,148.71 502.66,148.01 503.11,147.28 503.57,146.53 504.04,145.78 504.52,145.02 505.02,144.23 505.55,143.37 506.09,142.47 506.65,141.54 507.21,140.61 507.78,139.69 508.33,138.82 508.86,138.01 509.37,137.29 509.85,136.67 510.29,136.16 510.71,135.75 511.10,135.42 511.48,135.15 511.85,134.92 512.21,134.72 512.57,134.53 512.94,134.33 513.32,134.11 513.73,133.85 514.14,133.58 514.55,133.32 514.97,133.06 515.39,132.80 515.81,132.54 516.25,132.27 516.69,131.99 517.14,131.70 517.61,131.38 518.09,131.04 518.58,130.67 519.09,130.27 519.61,129.85 520.15,129.42 520.69,128.97 521.24,128.51 521.79,128.06 522.33,127.60 522.88,127.16 523.41,126.72 523.95,126.28 524.50,125.83 525.04,125.37 525.59,124.90 526.14,124.44 526.68,124.00 527.22,123.57 527.74,123.18 528.25,122.82 528.74,122.50 529.22,122.22 529.67,121.97 530.11,121.76 530.54,121.57 530.96,121.41 531.37,121.26 531.79,121.13 532.22,121.01 532.65,120.91 533.11,120.81 533.57,120.72 534.06,120.67 534.55,120.63 535.05,120.61 535.56,120.60 536.06,120.60 536.55,120.59 537.04,120.58 537.50,120.56 537.95,120.53 538.37,120.48 538.77,120.43 539.15,120.38 539.52,120.32 539.89,120.26 540.25,120.20 540.62,120.13 541.00,120.05 541.40,119.96 541.83,119.87 542.27,119.76 542.72,119.63 543.18,119.49 543.65,119.34 544.13,119.18 544.62,119.03 545.12,118.89 545.62,118.76 546.14,118.64 546.67,118.55 546.96,118.49 546.86,118.44 546.54,118.41 546.18,118.39 545.94,118.38 546.00,118.37 546.51,118.37 547.65,118.37 549.58,118.37 552.49,118.37 556.72,118.36 562.31,118.35 568.93,118.34 576.24,118.33 583.89,118.33 591.54,118.32 598.87,118.33 605.52,118.33 611.17,118.35 615.47,118.37 618.45,118.38 620.49,118.39 621.75,118.40 622.39,118.41 622.59,118.43 622.50,118.46 622.31,118.51 622.18,118.58 622.26,118.69 622.74,118.84 623.46,119.02 624.19,119.23 624.92,119.48 625.64,119.75 626.37,120.04 627.10,120.35 627.82,120.66 628.55,120.99 629.28,121.32 630.00,121.65 630.73,121.99 631.46,122.34 632.19,122.70 632.91,123.07 633.64,123.45 634.37,123.84 635.09,124.23 635.82,124.62 636.55,125.02 637.27,125.41 638.00,125.80 638.73,126.21 639.45,126.62 640.18,127.04 640.91,127.46 641.63,127.88 642.36,128.29 643.09,128.69 643.81,129.07 644.54,129.44 645.28,129.81 646.02,130.17 646.78,130.52 647.54,130.87 648.29,131.21 649.04,131.54 649.77,131.85 650.48,132.14 651.16,132.40 651.81,132.63 652.42,132.85 652.99,133.05 653.53,133.23 654.06,133.39 654.56,133.53 655.06,133.65 655.56,133.74 656.07,133.81 656.59,133.85 657.14,133.85 657.70,133.83 658.27,133.79 658.85,133.71 659.43,133.62 660.01,133.49 660.60,133.34 661.19,133.16 661.78,132.95 662.37,132.71 662.95,132.45 663.54,132.13 664.14,131.74 664.74,131.30 665.35,130.82 665.95,130.33 666.54,129.84 667.13,129.37 667.70,128.93 668.24,128.54 668.76,128.22 669.26,127.95 669.73,127.70 670.18,127.48 670.61,127.28 671.04,127.11 671.45,126.97 671.86,126.87 672.28,126.81 672.70,126.79 673.13,126.81 673.56,126.87 673.97,126.96 674.39,127.08 674.80,127.24 675.21,127.43 675.64,127.67 676.07,127.96 676.52,128.30 676.99,128.70 677.49,129.16 678.03,129.74 678.65,130.45 679.31,131.27 679.99,132.15 680.67,133.06 681.32,133.96 681.94,134.81 682.49,135.57 682.95,136.20 683.30,136.67" fill="none" stroke="#ee6b2d" stroke-width="1.5" stroke-linejoin="round" stroke-linecap="round" />
<rect x="489.50" y="24.50" width="193.80" height="140.80" fill="none" stroke="#000" stroke-width="1.2"/>
<line x1="486.60" y1="24.50" x2="489.50" y2="24.50" stroke="#000" stroke-width="1.1" />
<text x="484.90" y="27.00" font-size="7.0" font-weight="bold" text-anchor="end" fill="#1a1a1a" >100</text>
<line x1="486.60" y1="47.97" x2="489.50" y2="47.97" stroke="#000" stroke-width="1.1" />
<text x="484.90" y="50.47" font-size="7.0" font-weight="bold" text-anchor="end" fill="#1a1a1a" >75</text>
<line x1="486.60" y1="71.43" x2="489.50" y2="71.43" stroke="#000" stroke-width="1.1" />
<text x="484.90" y="73.93" font-size="7.0" font-weight="bold" text-anchor="end" fill="#1a1a1a" >50</text>
<line x1="486.60" y1="94.90" x2="489.50" y2="94.90" stroke="#000" stroke-width="1.1" />
<text x="484.90" y="97.40" font-size="7.0" font-weight="bold" text-anchor="end" fill="#1a1a1a" >25</text>
<line x1="486.60" y1="118.37" x2="489.50" y2="118.37" stroke="#000" stroke-width="1.1" />
<text x="484.90" y="120.87" font-size="7.0" font-weight="bold" text-anchor="end" fill="#1a1a1a" >0</text>
<line x1="486.60" y1="141.83" x2="489.50" y2="141.83" stroke="#000" stroke-width="1.1" />
<text x="484.90" y="144.33" font-size="7.0" font-weight="bold" text-anchor="end" fill="#1a1a1a" >-25</text>
<line x1="486.60" y1="165.30" x2="489.50" y2="165.30" stroke="#000" stroke-width="1.1" />
<text x="484.90" y="167.80" font-size="7.0" font-weight="bold" text-anchor="end" fill="#1a1a1a" >-50</text>
<line x1="487.90" y1="36.23" x2="489.50" y2="36.23" stroke="#000" stroke-width="0.9" />
<line x1="487.90" y1="59.70" x2="489.50" y2="59.70" stroke="#000" stroke-width="0.9" />
<line x1="487.90" y1="83.17" x2="489.50" y2="83.17" stroke="#000" stroke-width="0.9" />
<line x1="487.90" y1="106.63" x2="489.50" y2="106.63" stroke="#000" stroke-width="0.9" />
<line x1="487.90" y1="130.10" x2="489.50" y2="130.10" stroke="#000" stroke-width="0.9" />
<line x1="487.90" y1="153.57" x2="489.50" y2="153.57" stroke="#000" stroke-width="0.9" />
<line x1="489.50" y1="165.30" x2="489.50" y2="168.60" stroke="#000" stroke-width="1.1" />
<text x="489.50" y="175.70" font-size="7.0" font-weight="bold" text-anchor="middle" fill="#1a1a1a" >-1</text>
<line x1="537.95" y1="165.30" x2="537.95" y2="168.60" stroke="#000" stroke-width="1.1" />
<text x="537.95" y="175.70" font-size="7.0" font-weight="bold" text-anchor="middle" fill="#1a1a1a" >0</text>
<line x1="586.40" y1="165.30" x2="586.40" y2="168.60" stroke="#000" stroke-width="1.1" />
<text x="586.40" y="175.70" font-size="7.0" font-weight="bold" text-anchor="middle" fill="#1a1a1a" >1</text>
<line x1="634.85" y1="165.30" x2="634.85" y2="168.60" stroke="#000" stroke-width="1.1" />
<text x="634.85" y="175.70" font-size="7.0" font-weight="bold" text-anchor="middle" fill="#1a1a1a" >2</text>
<line x1="683.30" y1="165.30" x2="683.30" y2="168.60" stroke="#000" stroke-width="1.1" />
<text x="683.30" y="175.70" font-size="7.0" font-weight="bold" text-anchor="middle" fill="#1a1a1a" >3</text>
<line x1="513.73" y1="165.30" x2="513.73" y2="167.20" stroke="#000" stroke-width="0.9" />
<line x1="562.17" y1="165.30" x2="562.17" y2="167.20" stroke="#000" stroke-width="0.9" />
<line x1="610.62" y1="165.30" x2="610.62" y2="167.20" stroke="#000" stroke-width="0.9" />
<line x1="659.07" y1="165.30" x2="659.07" y2="167.20" stroke="#000" stroke-width="0.9" />
<text x="585.60" y="187.30" font-size="8.2" font-weight="bold" text-anchor="middle" fill="#1a1a1a" >Energy(eV)</text>
<text x="0.00" y="0.00" font-size="8.2" font-weight="bold" text-anchor="middle" fill="#1a1a1a" transform="translate(467.8,92.4) rotate(-90)">Density of states(arb.units)</text>
<line x1="490.90" y1="30.80" x2="511.10" y2="30.80" stroke="#2b8fd4" stroke-width="1.5" />
<line x1="490.90" y1="40.50" x2="511.10" y2="40.50" stroke="#ee6b2d" stroke-width="1.5" />
<text x="512.50" y="33.70" font-size="8.0" font-weight="bold" text-anchor="start" fill="#1a1a1a" >Pb-Pb dimer</text>
<text x="512.50" y="43.30" font-size="7.85" font-weight="bold" text-anchor="start" fill="#1a1a1a" >MTFA-passivated</text>
<text x="578.40" y="96.80" font-size="7.9" font-weight="bold" text-anchor="middle" fill="#1a1a1a" >Trap State</text>
<line x1="583.80" y1="114.90" x2="581.60" y2="102.50" stroke="#000" stroke-width="0.9" />
<polygon points="581.1,98.6 579.7,103.3 583.2,102.8" fill="#1a1a1a"/>
<line x1="55.90" y1="274.60" x2="55.90" y2="383.60" stroke="#2a2a2a" stroke-width="1.1" stroke-dasharray="3.4,1.7"/>
<line x1="149.50" y1="270.50" x2="149.50" y2="382.80" stroke="#2a2a2a" stroke-width="1.1" stroke-dasharray="3.4,1.7"/>
<polyline points="16.30,318.50 16.98,318.46 17.93,318.41 19.05,318.34 20.25,318.28 21.43,318.23 22.50,318.20 23.47,318.20 24.41,318.24 25.33,318.28 26.25,318.32 27.17,318.33 28.10,318.30 29.06,318.23 30.05,318.13 31.04,318.01 32.01,317.87 32.94,317.70 33.80,317.50 34.59,317.28 35.34,317.05 36.04,316.79 36.71,316.50 37.36,316.17 38.00,315.80 38.63,315.38 39.24,314.93 39.84,314.44 40.41,313.90 40.97,313.33 41.50,312.70 42.01,312.04 42.48,311.34 42.94,310.59 43.39,309.80 43.84,308.93 44.30,308.00 44.78,306.98 45.26,305.89 45.75,304.74 46.24,303.53 46.72,302.28 47.20,301.00 47.68,299.66 48.16,298.25 48.63,296.79 49.10,295.33 49.56,293.89 50.00,292.50 50.43,291.14 50.84,289.77 51.24,288.43 51.63,287.14 52.02,285.92 52.40,284.80 52.78,283.77 53.16,282.79 53.52,281.89 53.89,281.09 54.25,280.38 54.60,279.80 54.94,279.34 55.25,279.00 55.56,278.77 55.88,278.63 56.22,278.58 56.60,278.60 57.02,278.69 57.48,278.86 57.96,279.12 58.45,279.47 58.94,279.93 59.40,280.50 59.85,281.20 60.29,282.02 60.72,282.94 61.15,283.96 61.57,285.05 62.00,286.20 62.42,287.45 62.84,288.82 63.26,290.27 63.68,291.74 64.09,293.20 64.50,294.60 64.90,295.95 65.29,297.30 65.68,298.63 66.07,299.93 66.48,301.19 66.90,302.40 67.33,303.55 67.77,304.66 68.23,305.72 68.69,306.75 69.18,307.74 69.70,308.70 70.25,309.63 70.82,310.54 71.41,311.42 72.03,312.24 72.66,313.01 73.30,313.70 73.97,314.32 74.68,314.87 75.41,315.36 76.13,315.80 76.83,316.17 77.50,316.50 78.12,316.76 78.70,316.94 79.27,317.06 79.83,317.15 80.40,317.22 81.00,317.30 81.62,317.38 82.26,317.44 82.91,317.49 83.56,317.52 84.23,317.53 84.90,317.50 85.58,317.41 86.28,317.26 86.99,317.09 87.70,316.93 88.40,316.82 89.10,316.80 89.78,316.88 90.44,317.03 91.11,317.23 91.78,317.46 92.47,317.73 93.20,318.00 93.95,318.31 94.71,318.66 95.49,319.04 96.31,319.42 97.18,319.78 98.10,320.10 99.12,320.39 100.23,320.66 101.39,320.91 102.56,321.14 103.67,321.34 104.70,321.50 105.61,321.62 106.43,321.70 107.21,321.75 107.98,321.78 108.80,321.79 109.70,321.80 110.70,321.80 111.75,321.80 112.85,321.78 113.97,321.74 115.09,321.69 116.20,321.60 117.30,321.49 118.42,321.37 119.54,321.22 120.66,321.04 121.75,320.84 122.80,320.60 123.83,320.34 124.86,320.06 125.86,319.74 126.82,319.39 127.74,318.98 128.60,318.50 129.39,317.96 130.12,317.37 130.81,316.73 131.46,316.03 132.08,315.25 132.70,314.40 133.31,313.46 133.89,312.45 134.45,311.36 134.99,310.22 135.51,309.03 136.00,307.80 136.46,306.53 136.89,305.21 137.30,303.85 137.70,302.44 138.09,300.99 138.50,299.50 138.92,297.95 139.34,296.35 139.76,294.70 140.17,293.03 140.59,291.36 141.00,289.70 141.41,288.02 141.81,286.30 142.22,284.57 142.62,282.89 143.01,281.28 143.40,279.80 143.78,278.44 144.15,277.16 144.51,275.96 144.87,274.83 145.24,273.78 145.60,272.80 145.97,271.88 146.34,271.02 146.72,270.23 147.09,269.53 147.45,268.91 147.80,268.40 148.13,267.98 148.44,267.65 148.75,267.41 149.06,267.27 149.37,267.23 149.70,267.30 150.05,267.47 150.41,267.74 150.79,268.12 151.16,268.60 151.54,269.19 151.90,269.90 152.25,270.71 152.59,271.62 152.93,272.64 153.27,273.79 153.63,275.07 154.00,276.50 154.39,278.15 154.81,280.03 155.23,282.04 155.66,284.10 156.08,286.12 156.50,288.00 156.90,289.76 157.30,291.48 157.70,293.16 158.10,294.79 158.50,296.37 158.90,297.90 159.30,299.38 159.70,300.82 160.09,302.21 160.50,303.55 160.94,304.85 161.40,306.10 161.89,307.32 162.41,308.51 162.95,309.66 163.51,310.74 164.09,311.76 164.70,312.70 165.34,313.56 166.01,314.34 166.70,315.06 167.40,315.70 168.11,316.28 168.80,316.80 169.47,317.25 170.13,317.63 170.79,317.94 171.47,318.19 172.16,318.37 172.90,318.50 173.69,318.54 174.53,318.49 175.40,318.38 176.27,318.24 177.11,318.10 177.90,318.00 178.64,317.91 179.33,317.79 180.01,317.68 180.67,317.60 181.33,317.56 182.00,317.60 182.67,317.72 183.33,317.90 183.99,318.13 184.67,318.40 185.36,318.69 186.10,319.00 186.86,319.34 187.64,319.74 188.44,320.16 189.28,320.57 190.16,320.96 191.10,321.30 192.09,321.58 193.14,321.83 194.23,322.04 195.36,322.24 196.52,322.42 197.70,322.60 199.01,322.77 200.47,322.93 201.96,323.08 203.36,323.21 204.55,323.32 205.40,323.40" fill="none" stroke="#2b8fd4" stroke-width="1.45" stroke-linejoin="round" stroke-linecap="round" />
<polyline points="16.30,379.30 17.14,379.27 18.31,379.22 19.69,379.16 21.16,379.10 22.60,379.05 23.90,379.00 25.06,378.96 26.18,378.93 27.27,378.90 28.34,378.87 29.42,378.84 30.50,378.80 31.61,378.77 32.73,378.74 33.85,378.71 34.95,378.67 36.00,378.60 37.00,378.50 37.93,378.37 38.81,378.22 39.65,378.04 40.46,377.84 41.24,377.59 42.00,377.30 42.74,376.96 43.46,376.57 44.16,376.15 44.83,375.69 45.47,375.21 46.10,374.70 46.70,374.20 47.26,373.71 47.80,373.20 48.33,372.62 48.86,371.93 49.40,371.10 49.95,370.12 50.50,369.04 51.05,367.84 51.60,366.55 52.15,365.17 52.70,363.70 53.26,362.09 53.82,360.32 54.38,358.46 54.94,356.57 55.48,354.73 56.00,353.00 56.50,351.33 56.98,349.66 57.44,348.04 57.90,346.50 58.35,345.11 58.80,343.90 59.25,342.88 59.70,342.00 60.15,341.26 60.59,340.66 61.00,340.17 61.40,339.80 61.76,339.54 62.09,339.41 62.41,339.40 62.72,339.51 63.04,339.74 63.40,340.10 63.79,340.60 64.20,341.24 64.62,342.01 65.06,342.87 65.48,343.81 65.90,344.80 66.30,345.86 66.69,347.01 67.07,348.23 67.46,349.51 67.87,350.84 68.30,352.20 68.76,353.62 69.24,355.12 69.74,356.67 70.26,358.22 70.78,359.75 71.30,361.20 71.83,362.61 72.37,364.01 72.91,365.38 73.47,366.70 74.03,367.95 74.60,369.10 75.17,370.15 75.73,371.12 76.30,372.02 76.89,372.86 77.52,373.65 78.20,374.40 78.93,375.12 79.70,375.79 80.51,376.42 81.35,377.00 82.22,377.52 83.10,378.00 84.02,378.41 85.00,378.76 86.00,379.05 87.00,379.31 87.97,379.56 88.90,379.80 89.75,380.04 90.53,380.27 91.29,380.48 92.06,380.67 92.88,380.84 93.80,381.00 94.78,381.14 95.79,381.26 96.84,381.36 97.98,381.45 99.22,381.53 100.60,381.60 102.15,381.66 103.85,381.72 105.66,381.76 107.53,381.79 109.39,381.81 111.20,381.80 112.99,381.78 114.80,381.74 116.61,381.68 118.40,381.61 120.14,381.51 121.80,381.40 123.40,381.28 124.96,381.16 126.47,381.01 127.93,380.83 129.30,380.60 130.60,380.30 131.80,379.94 132.93,379.52 133.97,379.06 134.96,378.53 135.90,377.95 136.80,377.30 137.65,376.59 138.43,375.83 139.17,375.01 139.87,374.12 140.54,373.15 141.20,372.10 141.85,370.96 142.47,369.74 143.06,368.44 143.63,367.06 144.18,365.62 144.70,364.10 145.18,362.50 145.63,360.82 146.05,359.07 146.46,357.26 146.87,355.40 147.30,353.50 147.75,351.51 148.20,349.40 148.65,347.24 149.10,345.10 149.55,343.07 150.00,341.20 150.44,339.46 150.89,337.78 151.32,336.20 151.76,334.75 152.19,333.47 152.60,332.40 153.01,331.56 153.41,330.91 153.80,330.44 154.18,330.11 154.55,329.87 154.90,329.70 155.23,329.57 155.53,329.51 155.81,329.54 156.10,329.71 156.39,330.06 156.70,330.60 157.03,331.35 157.36,332.28 157.69,333.38 158.04,334.64 158.41,336.05 158.80,337.60 159.22,339.35 159.66,341.33 160.12,343.46 160.59,345.67 161.05,347.87 161.50,350.00 161.93,352.11 162.34,354.27 162.75,356.43 163.17,358.53 163.62,360.54 164.10,362.40 164.62,364.11 165.16,365.70 165.73,367.19 166.33,368.60 166.95,369.93 167.60,371.20 168.27,372.40 168.97,373.53 169.69,374.57 170.44,375.55 171.25,376.46 172.10,377.30 172.99,378.06 173.91,378.74 174.88,379.35 175.90,379.90 177.00,380.42 178.20,380.90 179.52,381.35 180.96,381.76 182.48,382.12 184.04,382.44 185.59,382.74 187.10,383.00 188.56,383.22 190.01,383.40 191.46,383.55 192.92,383.67 194.39,383.79 195.90,383.90 197.55,384.01 199.37,384.11 201.20,384.21 202.91,384.29 204.36,384.35 205.40,384.40" fill="none" stroke="#ee6b2d" stroke-width="1.45" stroke-linejoin="round" stroke-linecap="round" />
<rect x="15.55" y="259.50" width="190.55" height="139.80" fill="none" stroke="#000" stroke-width="1.25"/>
<line x1="34.61" y1="399.30" x2="34.61" y2="401.90" stroke="#000" stroke-width="1.0" />
<text x="34.61" y="409.90" font-size="6.9" font-weight="bold" text-anchor="middle" fill="#1a1a1a" >144</text>
<line x1="72.72" y1="399.30" x2="72.72" y2="401.90" stroke="#000" stroke-width="1.0" />
<text x="72.72" y="409.90" font-size="6.9" font-weight="bold" text-anchor="middle" fill="#1a1a1a" >142</text>
<line x1="110.82" y1="399.30" x2="110.82" y2="401.90" stroke="#000" stroke-width="1.0" />
<text x="110.82" y="409.90" font-size="6.9" font-weight="bold" text-anchor="middle" fill="#1a1a1a" >140</text>
<line x1="148.94" y1="399.30" x2="148.94" y2="401.90" stroke="#000" stroke-width="1.0" />
<text x="148.94" y="409.90" font-size="6.9" font-weight="bold" text-anchor="middle" fill="#1a1a1a" >138</text>
<line x1="187.04" y1="399.30" x2="187.04" y2="401.90" stroke="#000" stroke-width="1.0" />
<text x="187.04" y="409.90" font-size="6.9" font-weight="bold" text-anchor="middle" fill="#1a1a1a" >136</text>
<text x="110.20" y="423.40" font-size="8.3" font-weight="bold" text-anchor="middle" fill="#1a1a1a" >Binding energy(eV)</text>
<text x="0.00" y="0.00" font-size="8.4" font-weight="bold" text-anchor="middle" fill="#1a1a1a" transform="translate(9.4,325.9) rotate(-90)">Intensity(arb.units)</text>
<line x1="154.10" y1="264.60" x2="170.60" y2="264.60" stroke="#2b8fd4" stroke-width="1.5" />
<line x1="154.10" y1="272.80" x2="170.60" y2="272.80" stroke="#ee6b2d" stroke-width="1.5" />
<text x="171.60" y="267.50" font-size="6.4" font-weight="bold" text-anchor="start" fill="#1a1a1a" >W/O</text>
<text x="171.60" y="275.10" font-size="6.55" font-weight="bold" text-anchor="start" fill="#1a1a1a" >With MTFA</text>
<text x="48.20" y="270.80" font-size="6.8" font-weight="bold" text-anchor="start" fill="#1a1a1a" >Pb<tspan font-size="4.2" dy="-2.8">2+</tspan><tspan dy="2.8"> 4</tspan><tspan font-style="italic">f</tspan><tspan font-size="3.7" dy="1.2">5/2</tspan></text>
<text x="121.90" y="269.60" font-size="6.8" font-weight="bold" text-anchor="start" fill="#1a1a1a" >Pb<tspan font-size="4.2" dy="-2.8">2+</tspan><tspan dy="2.8"> 4</tspan><tspan font-style="italic">f</tspan><tspan font-size="3.7" dy="1.2">7/2</tspan></text>
<text x="85.80" y="314.90" font-size="6.8" font-weight="bold" text-anchor="start" fill="#1a1a1a" >Pb<tspan font-size="4.2" dy="-2.8">0</tspan></text>
<text x="177.90" y="315.20" font-size="6.8" font-weight="bold" text-anchor="start" fill="#1a1a1a" >Pb<tspan font-size="4.2" dy="-2.8">0</tspan></text>
<polyline points="249.20,303.00 249.64,300.31 250.09,301.26 250.53,301.25 250.97,301.08 251.42,300.73 251.86,299.66 252.30,300.49 252.75,301.66 253.19,304.26 253.63,302.50 254.08,301.02 254.52,300.74 254.96,300.25 255.40,299.93 255.85,300.62 256.29,301.34 256.73,301.26 257.18,301.72 257.62,301.05 258.06,301.31 258.51,302.40 258.95,301.58 259.39,300.38 259.84,300.52 260.28,301.64 260.72,302.40 261.17,300.79 261.61,300.47 262.05,300.98 262.50,299.78 262.94,300.05 263.38,301.14 263.83,301.02 264.27,300.61 264.71,299.89 265.16,298.01 265.60,299.78 266.04,298.89 266.48,298.19 266.93,299.80 267.37,300.37 267.81,299.23 268.26,298.59 268.70,299.32 269.14,299.96 269.59,301.00 270.03,300.63 270.47,300.16 270.92,300.37 271.36,299.19 271.80,298.55 272.25,299.64 272.69,299.80 273.13,298.86 273.58,298.36 274.02,298.23 274.46,296.99 274.91,298.92 275.35,299.01 275.79,297.49 276.24,298.02 276.68,298.07 277.12,298.42 277.56,296.71 278.01,297.32 278.45,299.20 278.89,299.04 279.34,296.64 279.78,297.33 280.22,298.24 280.67,298.25 281.11,299.06 281.55,297.63 282.00,297.72 282.44,297.60 282.88,298.91 283.33,298.20 283.77,297.00 284.21,296.65 284.66,298.98 285.10,299.11 285.54,298.90 285.99,298.95 286.43,298.01 286.87,296.78 287.32,296.29 287.76,296.84 288.20,297.89 288.64,296.20 289.09,296.16 289.53,296.78 289.97,297.41 290.42,297.29 290.86,295.55 291.30,295.04 291.75,296.76 292.19,298.19 292.63,297.93 293.08,297.09 293.52,296.58 293.96,296.76 294.41,296.72 294.85,296.98 295.29,296.07 295.74,296.30 296.18,296.50 296.62,296.87 297.07,297.43 297.51,299.05 297.95,298.75 298.39,297.32 298.84,294.60 299.28,294.93 299.72,295.49 300.17,295.54 300.61,294.34 301.05,296.52 301.50,296.70 301.94,294.58 302.38,294.16 302.83,294.62 303.27,295.56 303.71,296.72 304.16,297.44 304.60,296.08 305.04,296.03 305.49,296.20 305.93,297.10 306.37,296.81 306.82,296.28 307.26,294.48 307.70,294.30 308.15,294.65 308.59,296.25 309.03,295.84 309.47,294.62 309.92,294.43 310.36,294.82 310.80,293.91 311.25,293.72 311.69,295.47 312.13,296.81 312.58,294.82 313.02,293.49 313.46,292.74 313.91,292.92 314.35,294.59 314.79,295.13 315.24,294.52 315.68,294.44 316.12,294.30 316.57,293.70 317.01,292.48 317.45,293.06 317.90,293.57 318.34,292.98 318.78,292.83 319.23,292.71 319.67,293.34 320.11,294.13 320.55,293.37 321.00,293.46 321.44,294.31 321.88,294.71 322.33,294.41 322.77,292.15 323.21,293.22 323.66,293.03 324.10,293.34 324.54,294.18 324.99,294.55 325.43,294.26 325.87,293.84 326.32,294.26 326.76,292.99 327.20,292.78 327.65,293.21 328.09,293.04 328.53,294.68 328.98,294.76 329.42,294.74 329.86,292.95 330.31,292.08 330.75,292.59 331.19,292.81 331.63,292.03 332.08,292.33 332.52,292.71 332.96,293.32 333.41,292.22 333.85,292.51 334.29,291.36 334.74,290.59 335.18,290.52 335.62,290.52 336.07,291.79 336.51,292.67 336.95,292.24 337.40,292.65 337.84,293.23 338.28,292.23 338.73,291.57 339.17,290.67 339.61,289.98 340.06,290.91 340.50,290.03 340.94,291.19 341.39,291.60 341.83,292.02 342.27,291.00 342.71,290.27 343.16,290.78 343.60,290.37 344.04,290.45 344.49,290.66 344.93,290.50 345.37,290.15 345.82,289.69 346.26,289.44 346.70,288.42 347.15,289.26 347.59,289.56 348.03,291.33 348.48,291.14 348.92,288.86 349.36,289.65 349.81,289.70 350.25,289.21 350.69,290.01 351.14,289.14 351.58,288.07 352.02,289.01 352.47,289.59 352.91,289.40 353.35,288.78 353.79,290.02 354.24,290.07 354.68,288.50 355.12,288.50 355.57,288.97 356.01,289.35 356.45,290.77 356.90,289.66 357.34,288.12 357.78,288.12 358.23,289.50 358.67,291.04 359.11,289.56 359.56,289.15 360.00,289.38 360.44,289.64 360.89,290.66 361.33,289.16 361.77,289.24 362.22,289.18 362.66,288.83 363.10,288.18 363.55,289.67 363.99,288.85 364.43,288.08 364.87,287.26 365.32,287.49 365.76,288.79 366.20,289.44 366.65,289.44 367.09,289.58 367.53,289.01 367.98,288.44 368.42,288.84 368.86,288.60 369.31,288.10 369.75,288.75 370.19,289.13 370.64,288.13 371.08,287.55 371.52,288.64 371.97,289.34 372.41,287.78 372.85,287.19 373.30,287.54 373.74,287.78 374.18,286.04 374.63,287.30 375.07,288.05 375.51,287.13 375.95,288.27 376.40,287.72 376.84,286.63 377.28,286.41 377.73,285.31 378.17,286.33 378.61,287.90 379.06,286.94 379.50,287.96 379.94,287.32 380.39,287.37 380.83,286.10 381.27,284.21 381.72,285.20 382.16,285.93 382.60,284.84 383.05,284.73 383.49,285.85 383.93,285.09 384.38,284.09 384.82,285.10 385.26,286.34 385.71,285.97 386.15,286.97 386.59,287.42 387.03,285.85 387.48,284.26 387.92,284.08 388.36,285.40 388.81,286.36 389.25,286.11 389.69,285.83 390.14,285.19 390.58,285.28 391.02,284.80 391.47,284.36 391.91,283.40 392.35,283.13 392.80,283.79 393.24,283.55 393.68,283.93 394.13,285.15 394.57,285.80 395.01,287.63 395.46,286.23 395.90,284.60 396.34,285.23 396.78,284.91 397.23,284.33 397.67,285.01 398.11,283.12 398.56,281.60 399.00,283.91 399.44,284.37 399.89,285.15 400.33,283.65 400.77,283.29 401.22,284.75 401.66,283.54 402.10,284.23 402.55,285.28 402.99,284.34 403.43,283.77 403.88,284.04 404.32,284.21 404.76,283.33 405.21,284.05 405.65,284.92 406.09,285.63 406.54,283.53 406.98,282.65 407.42,283.57 407.86,283.20 408.31,283.38 408.75,283.71 409.19,283.99 409.64,282.78 410.08,281.95 410.52,280.35 410.97,281.78 411.41,283.75 411.85,282.42 412.30,281.53 412.74,281.55 413.18,282.84 413.63,282.55 414.07,281.71 414.51,282.79 414.96,283.08 415.40,282.93 415.84,282.48 416.29,283.76 416.73,283.06 417.17,282.02 417.62,281.53 418.06,281.93 418.50,282.62 418.94,282.29 419.39,282.96 419.83,283.09 420.27,283.42 420.72,282.86 421.16,281.30 421.60,279.99 422.05,281.52 422.49,282.38 422.93,282.03 423.38,281.84 423.82,281.00 424.26,280.56 424.71,280.72 425.15,282.21 425.59,281.57 426.04,280.32 426.48,279.67 426.92,280.90 427.37,282.35 427.81,281.54 428.25,280.77 428.70,282.30 429.14,282.76 429.58,282.24 430.02,282.00 430.47,282.03 430.91,281.61 431.35,281.11 431.80,280.42 432.24,281.57 432.68,281.60 433.13,281.56 433.57,279.21 434.01,280.49 434.46,281.11 434.90,280.06" fill="none" stroke="#2b8fd4" stroke-width="1.7" stroke-linejoin="round" stroke-linecap="round" />
<polyline points="249.20,342.15 249.64,342.40 250.09,342.10 250.53,341.40 250.97,341.66 251.42,342.56 251.86,342.72 252.30,341.98 252.75,341.73 253.19,341.98 253.63,342.09 254.08,340.82 254.52,340.49 254.96,341.11 255.40,340.72 255.85,340.93 256.29,341.56 256.73,341.62 257.18,341.08 257.62,341.40 258.06,340.61 258.51,341.10 258.95,340.26 259.39,340.41 259.84,341.50 260.28,341.13 260.72,340.71 261.17,341.04 261.61,341.59 262.05,341.45 262.50,341.58 262.94,341.90 263.38,341.01 263.83,340.76 264.27,341.14 264.71,342.19 265.16,342.50 265.60,342.35 266.04,341.51 266.48,341.35 266.93,341.70 267.37,341.36 267.81,341.85 268.26,341.73 268.70,340.89 269.14,340.96 269.59,341.47 270.03,342.86 270.47,343.22 270.92,341.65 271.36,340.62 271.80,339.66 272.25,340.74 272.69,340.90 273.13,340.54 273.58,341.00 274.02,340.14 274.46,340.58 274.91,340.79 275.35,340.40 275.79,341.52 276.24,341.56 276.68,339.97 277.12,339.85 277.56,341.02 278.01,340.77 278.45,340.04 278.89,340.41 279.34,340.71 279.78,340.93 280.22,341.45 280.67,341.65 281.11,342.37 281.55,342.24 282.00,341.77 282.44,341.92 282.88,342.01 283.33,341.22 283.77,340.25 284.21,341.01 284.66,341.27 285.10,341.77 285.54,341.18 285.99,341.06 286.43,341.31 286.87,341.81 287.32,341.00 287.76,340.48 288.20,340.58 288.64,340.32 289.09,340.50 289.53,340.56 289.97,341.05 290.42,341.67 290.86,340.57 291.30,340.27 291.75,340.38 292.19,340.48 292.63,339.53 293.08,339.56 293.52,340.21 293.96,340.58 294.41,340.19 294.85,339.66 295.29,339.59 295.74,340.60 296.18,341.24 296.62,340.65 297.07,340.34 297.51,340.14 297.95,339.39 298.39,339.48 298.84,339.74 299.28,340.01 299.72,339.63 300.17,339.25 300.61,340.62 301.05,341.04 301.50,339.98 301.94,339.92 302.38,340.05 302.83,339.82 303.27,339.07 303.71,340.11 304.16,339.74 304.60,340.11 305.04,339.56 305.49,338.98 305.93,339.21 306.37,339.50 306.82,338.61 307.26,338.45 307.70,338.15 308.15,337.90 308.59,339.38 309.03,339.35 309.47,338.97 309.92,339.07 310.36,338.03 310.80,338.44 311.25,339.55 311.69,338.64 312.13,336.01 312.58,334.96 313.02,336.57 313.46,337.99 313.91,337.36 314.35,337.23 314.79,337.35 315.24,336.64 315.68,337.00 316.12,337.38 316.57,337.10 317.01,336.58 317.45,335.96 317.90,336.07 318.34,335.87 318.78,336.87 319.23,337.13 319.67,334.67 320.11,333.14 320.55,333.91 321.00,334.71 321.44,335.07 321.88,334.55 322.33,333.03 322.77,332.78 323.21,333.31 323.66,332.37 324.10,332.68 324.54,332.18 324.99,332.19 325.43,332.03 325.87,331.72 326.32,331.00 326.76,329.72 327.20,329.73 327.65,329.50 328.09,329.44 328.53,329.38 328.98,328.08 329.42,327.04 329.86,326.61 330.31,326.69 330.75,326.71 331.19,325.91 331.63,326.25 332.08,325.57 332.52,324.36 332.96,323.43 333.41,323.90 333.85,323.57 334.29,322.28 334.74,323.38 335.18,323.64 335.62,322.51 336.07,322.36 336.51,323.03 336.95,321.84 337.40,320.02 337.84,319.78 338.28,319.57 338.73,318.77 339.17,317.73 339.61,318.76 340.06,318.48 340.50,318.45 340.94,318.49 341.39,318.70 341.83,317.93 342.27,317.57 342.71,318.48 343.16,318.96 343.60,318.40 344.04,318.95 344.49,318.49 344.93,318.29 345.37,319.10 345.82,318.57 346.26,319.13 346.70,318.96 347.15,319.13 347.59,318.58 348.03,319.18 348.48,320.64 348.92,320.77 349.36,320.72 349.81,320.92 350.25,321.36 350.69,320.78 351.14,321.16 351.58,322.10 352.02,322.30 352.47,322.79 352.91,323.63 353.35,324.12 353.79,324.89 354.24,326.39 354.68,326.84 355.12,326.98 355.57,326.50 356.01,326.11 356.45,326.03 356.90,326.57 357.34,326.40 357.78,327.69 358.23,329.49 358.67,330.58 359.11,330.30 359.56,329.62 360.00,330.18 360.44,330.33 360.89,331.25 361.33,331.53 361.77,332.66 362.22,333.95 362.66,333.86 363.10,334.24 363.55,333.30 363.99,333.14 364.43,334.47 364.87,334.85 365.32,333.82 365.76,333.64 366.20,333.29 366.65,334.23 367.09,335.22 367.53,334.91 367.98,334.39 368.42,334.31 368.86,335.57 369.31,336.37 369.75,336.43 370.19,335.98 370.64,335.71 371.08,337.12 371.52,336.70 371.97,336.57 372.41,336.62 372.85,335.48 373.30,336.32 373.74,336.95 374.18,337.59 374.63,338.25 375.07,337.47 375.51,336.17 375.95,336.85 376.40,337.60 376.84,337.44 377.28,336.47 377.73,336.45 378.17,337.85 378.61,338.17 379.06,337.57 379.50,337.19 379.94,338.14 380.39,336.43 380.83,337.66 381.27,339.39 381.72,338.57 382.16,338.06 382.60,337.80 383.05,338.62 383.49,337.80 383.93,338.24 384.38,338.27 384.82,337.91 385.26,338.45 385.71,337.54 386.15,337.69 386.59,338.22 387.03,338.32 387.48,338.94 387.92,339.18 388.36,338.44 388.81,338.03 389.25,338.04 389.69,338.42 390.14,339.02 390.58,338.75 391.02,338.84 391.47,338.49 391.91,338.27 392.35,338.83 392.80,338.19 393.24,338.80 393.68,339.44 394.13,338.30 394.57,338.09 395.01,337.56 395.46,337.72 395.90,337.56 396.34,338.06 396.78,338.35 397.23,339.08 397.67,339.91 398.11,339.45 398.56,339.26 399.00,338.84 399.44,338.43 399.89,337.79 400.33,337.44 400.77,338.81 401.22,340.00 401.66,339.36 402.10,338.93 402.55,339.69 402.99,338.76 403.43,338.05 403.88,337.67 404.32,337.87 404.76,338.89 405.21,340.05 405.65,338.91 406.09,337.97 406.54,338.16 406.98,338.18 407.42,337.68 407.86,338.70 408.31,339.40 408.75,339.34 409.19,339.02 409.64,337.75 410.08,337.72 410.52,339.55 410.97,339.50 411.41,338.11 411.85,338.64 412.30,339.02 412.74,339.25 413.18,338.98 413.63,338.59 414.07,338.89 414.51,338.97 414.96,338.43 415.40,336.94 415.84,336.27 416.29,337.29 416.73,337.63 417.17,338.79 417.62,339.41 418.06,339.07 418.50,338.65 418.94,339.04 419.39,339.44 419.83,338.79 420.27,339.41 420.72,339.53 421.16,339.45 421.60,339.66 422.05,338.85 422.49,339.06 422.93,338.22 423.38,337.85 423.82,338.02 424.26,338.64 424.71,338.27 425.15,338.36 425.59,338.27 426.04,339.63 426.48,340.27 426.92,339.68 427.37,340.02 427.81,339.97 428.25,340.33 428.70,338.95 429.14,338.06 429.58,339.36 430.02,338.76 430.47,337.88 430.91,337.72 431.35,337.48 431.80,338.02 432.24,338.31 432.68,339.61 433.13,339.11 433.57,337.43 434.01,337.22 434.46,337.57 434.90,337.30" fill="none" stroke="#444444" stroke-width="1.7" stroke-linejoin="round" stroke-linecap="round" />
<polyline points="249.20,386.01 249.64,385.76 250.09,385.13 250.53,385.37 250.97,386.60 251.42,387.71 251.86,387.56 252.30,386.45 252.75,386.22 253.19,385.32 253.63,385.40 254.08,384.96 254.52,385.42 254.96,384.18 255.40,384.07 255.85,385.12 256.29,385.26 256.73,383.85 257.18,384.21 257.62,385.05 258.06,384.96 258.51,384.25 258.95,384.60 259.39,385.00 259.84,386.08 260.28,385.20 260.72,382.93 261.17,382.21 261.61,384.29 262.05,385.59 262.50,385.16 262.94,385.03 263.38,383.69 263.83,383.06 264.27,384.45 264.71,384.62 265.16,384.27 265.60,383.00 266.04,383.48 266.48,383.60 266.93,384.17 267.37,383.29 267.81,382.79 268.26,383.30 268.70,384.55 269.14,383.70 269.59,382.48 270.03,381.94 270.47,382.54 270.92,383.75 271.36,381.78 271.80,382.05 272.25,383.79 272.69,384.26 273.13,383.45 273.58,383.83 274.02,384.10 274.46,383.95 274.91,383.60 275.35,384.28 275.79,383.81 276.24,383.73 276.68,382.31 277.12,382.65 277.56,381.15 278.01,380.82 278.45,382.09 278.89,381.83 279.34,382.06 279.78,381.83 280.22,383.25 280.67,382.22 281.11,381.05 281.55,382.04 282.00,382.52 282.44,381.57 282.88,382.64 283.33,383.99 283.77,383.07 284.21,381.70 284.66,381.23 285.10,381.41 285.54,379.35 285.99,378.01 286.43,379.50 286.87,380.63 287.32,382.52 287.76,381.53 288.20,379.92 288.64,379.87 289.09,380.85 289.53,380.17 289.97,380.09 290.42,380.60 290.86,380.86 291.30,380.87 291.75,381.19 292.19,382.32 292.63,381.98 293.08,380.29 293.52,382.30 293.96,381.65 294.41,381.26 294.85,380.07 295.29,380.35 295.74,380.48 296.18,380.52 296.62,381.03 297.07,380.51 297.51,379.18 297.95,379.68 298.39,380.64 298.84,380.49 299.28,379.52 299.72,379.24 300.17,379.03 300.61,378.10 301.05,378.45 301.50,380.31 301.94,379.49 302.38,379.03 302.83,378.98 303.27,380.64 303.71,381.02 304.16,379.54 304.60,379.17 305.04,378.95 305.49,380.53 305.93,379.94 306.37,378.67 306.82,379.69 307.26,379.48 307.70,379.18 308.15,378.78 308.59,377.82 309.03,377.92 309.47,378.75 309.92,378.16 310.36,377.99 310.80,379.67 311.25,378.38 311.69,377.29 312.13,377.42 312.58,378.66 313.02,379.05 313.46,378.61 313.91,378.18 314.35,376.52 314.79,376.74 315.24,377.07 315.68,377.55 316.12,377.31 316.57,376.67 317.01,379.31 317.45,377.57 317.90,377.55 318.34,378.29 318.78,378.22 319.23,376.67 319.67,374.14 320.11,375.33 320.55,376.97 321.00,375.91 321.44,374.84 321.88,374.64 322.33,377.19 322.77,377.14 323.21,375.83 323.66,376.05 324.10,375.94 324.54,375.22 324.99,375.77 325.43,376.53 325.87,377.11 326.32,377.41 326.76,376.31 327.20,375.69 327.65,375.95 328.09,375.04 328.53,374.83 328.98,376.28 329.42,375.72 329.86,375.81 330.31,375.85 330.75,374.90 331.19,375.83 331.63,375.96 332.08,375.50 332.52,375.37 332.96,373.99 333.41,372.86 333.85,373.91 334.29,374.40 334.74,375.57 335.18,375.26 335.62,374.48 336.07,375.10 336.51,376.32 336.95,376.23 337.40,375.44 337.84,374.99 338.28,374.36 338.73,374.44 339.17,374.86 339.61,374.50 340.06,374.18 340.50,372.81 340.94,371.82 341.39,371.95 341.83,373.55 342.27,375.41 342.71,375.10 343.16,372.87 343.60,372.36 344.04,374.15 344.49,373.95 344.93,372.87 345.37,374.18 345.82,374.40 346.26,374.82 346.70,374.39 347.15,374.36 347.59,373.57 348.03,372.41 348.48,372.48 348.92,372.69 349.36,373.31 349.81,371.90 350.25,371.48 350.69,373.39 351.14,374.51 351.58,374.75 352.02,373.68 352.47,371.42 352.91,371.36 353.35,371.83 353.79,371.65 354.24,370.48 354.68,371.80 355.12,372.27 355.57,371.52 356.01,372.37 356.45,373.26 356.90,372.79 357.34,373.29 357.78,373.32 358.23,372.69 358.67,372.20 359.11,371.94 359.56,372.60 360.00,371.41 360.44,371.06 360.89,371.77 361.33,371.19 361.77,371.93 362.22,372.49 362.66,371.75 363.10,371.66 363.55,372.30 363.99,371.65 364.43,369.54 364.87,369.80 365.32,371.90 365.76,371.05 366.20,368.71 366.65,368.98 367.09,370.08 367.53,369.96 367.98,370.79 368.42,370.94 368.86,370.64 369.31,369.75 369.75,371.21 370.19,372.07 370.64,370.56 371.08,371.48 371.52,371.65 371.97,370.98 372.41,369.85 372.85,368.68 373.30,369.04 373.74,370.61 374.18,371.32 374.63,371.46 375.07,371.23 375.51,370.64 375.95,369.13 376.40,368.39 376.84,369.46 377.28,369.97 377.73,369.15 378.17,367.82 378.61,367.90 379.06,367.76 379.50,368.52 379.94,368.14 380.39,368.66 380.83,369.26 381.27,369.55 381.72,369.80 382.16,367.56 382.60,366.73 383.05,369.30 383.49,370.60 383.93,370.37 384.38,369.36 384.82,369.07 385.26,368.28 385.71,367.04 386.15,367.53 386.59,368.33 387.03,368.37 387.48,369.20 387.92,367.11 388.36,367.48 388.81,368.63 389.25,367.33 389.69,366.22 390.14,365.99 390.58,367.10 391.02,368.92 391.47,368.57 391.91,367.97 392.35,367.42 392.80,368.06 393.24,367.44 393.68,366.38 394.13,366.63 394.57,367.59 395.01,368.23 395.46,367.53 395.90,368.06 396.34,368.69 396.78,366.42 397.23,365.79 397.67,367.43 398.11,367.39 398.56,366.80 399.00,366.73 399.44,366.50 399.89,366.77 400.33,366.54 400.77,366.65 401.22,365.27 401.66,365.22 402.10,365.93 402.55,365.98 402.99,366.57 403.43,366.05 403.88,365.54 404.32,365.79 404.76,364.99 405.21,363.91 405.65,364.02 406.09,364.49 406.54,365.00 406.98,365.80 407.42,366.54 407.86,366.77 408.31,367.56 408.75,366.98 409.19,366.01 409.64,367.02 410.08,366.61 410.52,365.17 410.97,365.54 411.41,366.16 411.85,365.81 412.30,366.00 412.74,365.71 413.18,365.44 413.63,364.76 414.07,364.80 414.51,364.60 414.96,364.54 415.40,363.28 415.84,364.61 416.29,365.78 416.73,365.21 417.17,364.58 417.62,364.43 418.06,363.30 418.50,362.98 418.94,363.42 419.39,364.02 419.83,364.47 420.27,363.64 420.72,363.96 421.16,362.39 421.60,362.49 422.05,363.70 422.49,364.42 422.93,362.66 423.38,361.47 423.82,363.12 424.26,363.11 424.71,361.98 425.15,361.75 425.59,362.25 426.04,363.18 426.48,363.23 426.92,362.54 427.37,364.54 427.81,363.41 428.25,362.67 428.70,363.28 429.14,363.70 429.58,365.11 430.02,364.16 430.47,362.40 430.91,361.86 431.35,361.74 431.80,362.10 432.24,362.60 432.68,362.34 433.13,363.41 433.57,362.48 434.01,362.19 434.46,362.22 434.90,360.43" fill="none" stroke="#e0383c" stroke-width="1.7" stroke-linejoin="round" stroke-linecap="round" />
<rect x="248.60" y="259.40" width="186.90" height="139.30" fill="none" stroke="#000" stroke-width="1.25"/>
<line x1="248.60" y1="398.70" x2="248.60" y2="401.30" stroke="#000" stroke-width="1.0" />
<text x="248.60" y="409.20" font-size="6.8" font-weight="bold" text-anchor="middle" fill="#1a1a1a" >692</text>
<line x1="264.18" y1="398.70" x2="264.18" y2="400.30" stroke="#000" stroke-width="0.9" />
<line x1="279.75" y1="398.70" x2="279.75" y2="401.30" stroke="#000" stroke-width="1.0" />
<text x="279.75" y="409.20" font-size="6.8" font-weight="bold" text-anchor="middle" fill="#1a1a1a" >690</text>
<line x1="295.32" y1="398.70" x2="295.32" y2="400.30" stroke="#000" stroke-width="0.9" />
<line x1="310.90" y1="398.70" x2="310.90" y2="401.30" stroke="#000" stroke-width="1.0" />
<text x="310.90" y="409.20" font-size="6.8" font-weight="bold" text-anchor="middle" fill="#1a1a1a" >688</text>
<line x1="326.48" y1="398.70" x2="326.48" y2="400.30" stroke="#000" stroke-width="0.9" />
<line x1="342.05" y1="398.70" x2="342.05" y2="401.30" stroke="#000" stroke-width="1.0" />
<text x="342.05" y="409.20" font-size="6.8" font-weight="bold" text-anchor="middle" fill="#1a1a1a" >686</text>
<line x1="357.62" y1="398.70" x2="357.62" y2="400.30" stroke="#000" stroke-width="0.9" />
<line x1="373.20" y1="398.70" x2="373.20" y2="401.30" stroke="#000" stroke-width="1.0" />
<text x="373.20" y="409.20" font-size="6.8" font-weight="bold" text-anchor="middle" fill="#1a1a1a" >684</text>
<line x1="388.77" y1="398.70" x2="388.77" y2="400.30" stroke="#000" stroke-width="0.9" />
<line x1="404.35" y1="398.70" x2="404.35" y2="401.30" stroke="#000" stroke-width="1.0" />
<text x="404.35" y="409.20" font-size="6.8" font-weight="bold" text-anchor="middle" fill="#1a1a1a" >682</text>
<line x1="419.93" y1="398.70" x2="419.93" y2="400.30" stroke="#000" stroke-width="0.9" />
<line x1="435.50" y1="398.70" x2="435.50" y2="401.30" stroke="#000" stroke-width="1.0" />
<text x="435.50" y="409.20" font-size="6.8" font-weight="bold" text-anchor="middle" fill="#1a1a1a" >680</text>
<text x="341.50" y="423.00" font-size="8.1" font-weight="bold" text-anchor="middle" fill="#1a1a1a" >Binding energy(eV)</text>
<text x="0.00" y="0.00" font-size="8.4" font-weight="bold" text-anchor="middle" fill="#1a1a1a" transform="translate(240.6,329.4) rotate(-90)">Intensity(arb.units)</text>
<line x1="251.20" y1="266.00" x2="267.70" y2="266.00" stroke="#2b8fd4" stroke-width="1.5" />
<line x1="251.20" y1="274.30" x2="267.70" y2="274.30" stroke="#444" stroke-width="1.5" />
<line x1="251.20" y1="282.30" x2="267.70" y2="282.30" stroke="#e0383c" stroke-width="1.5" />
<text x="268.40" y="268.50" font-size="6.45" font-weight="bold" text-anchor="start" fill="#1a1a1a" >W/O</text>
<text x="268.40" y="277.00" font-size="6.45" font-weight="bold" text-anchor="start" fill="#1a1a1a" >With MTFA</text>
<text x="268.40" y="285.00" font-size="6.45" font-weight="bold" text-anchor="start" fill="#1a1a1a" >With MTFA-20 nm depth (etched)</text>
<text x="334.30" y="313.90" font-size="7.5" font-weight="bold" text-anchor="start" fill="#1a1a1a" >F 1<tspan font-weight="normal">s</tspan></text>
<line x1="524.50" y1="262.00" x2="524.50" y2="354.60" stroke="#777" stroke-width="0.8" stroke-dasharray="1,1"/>
<line x1="525.50" y1="262.00" x2="525.50" y2="354.60" stroke="#999" stroke-width="0.8" stroke-dasharray="1,1"/>
<line x1="528.50" y1="262.00" x2="528.50" y2="354.60" stroke="#222" stroke-width="0.9" stroke-dasharray="1,1.2"/>
<line x1="628.50" y1="260.50" x2="628.50" y2="398.00" stroke="#222" stroke-width="0.9" stroke-dasharray="1,1.2"/>
<line x1="633.30" y1="261.00" x2="633.30" y2="398.00" stroke="#777" stroke-width="0.8" stroke-dasharray="1,1"/>
<line x1="634.30" y1="261.00" x2="634.30" y2="398.00" stroke="#999" stroke-width="0.8" stroke-dasharray="1,1"/>
<line x1="661.50" y1="283.00" x2="661.50" y2="398.00" stroke="#222" stroke-width="0.9" stroke-dasharray="1,1.2"/>
<line x1="664.30" y1="283.00" x2="664.30" y2="398.00" stroke="#777" stroke-width="0.8" stroke-dasharray="1,1"/>
<line x1="665.30" y1="283.00" x2="665.30" y2="398.00" stroke="#999" stroke-width="0.8" stroke-dasharray="1,1"/>
<line x1="679.30" y1="262.00" x2="679.30" y2="398.00" stroke="#777" stroke-width="0.8" stroke-dasharray="1,1"/>
<line x1="680.30" y1="262.00" x2="680.30" y2="398.00" stroke="#999" stroke-width="0.8" stroke-dasharray="1,1"/>
<polyline points="464.20,290.20 468.93,290.22 475.72,290.24 483.21,290.27 490.00,290.30 496.17,290.31 502.30,290.32 507.78,290.34 512.00,290.40 514.49,290.49 515.69,290.61 516.29,290.77 517.00,291.00 517.89,291.28 518.62,291.61 519.30,292.03 520.00,292.60 520.76,293.40 521.53,294.37 522.29,295.38 523.00,296.30 523.66,297.16 524.28,298.02 524.89,298.74 525.50,299.20 526.06,299.33 526.57,299.22 527.17,298.94 528.00,298.60 529.12,298.13 530.44,297.52 531.90,296.90 533.40,296.40 535.00,296.08 536.72,295.87 538.43,295.69 540.00,295.50 541.32,295.28 542.48,295.06 543.65,294.84 545.00,294.60 546.59,294.33 548.31,294.04 550.13,293.75 552.00,293.50 553.88,293.29 555.81,293.12 557.84,292.96 560.00,292.80 562.36,292.65 564.88,292.51 567.45,292.36 570.00,292.20 572.38,292.01 574.69,291.79 577.15,291.58 580.00,291.40 583.52,291.25 587.50,291.12 591.48,291.00 595.00,290.90 597.85,290.82 600.31,290.76 602.62,290.70 605.00,290.60 607.50,290.45 609.99,290.26 612.49,290.07 615.00,289.90 617.71,289.72 620.56,289.52 623.18,289.39 625.20,289.40 626.43,289.61 627.11,289.97 627.48,290.37 627.80,290.70 628.05,290.96 628.12,291.21 628.15,291.37 628.30,291.40 628.59,291.20 628.95,290.82 629.36,290.44 629.80,290.20 630.29,290.12 630.84,290.13 631.39,290.25 631.90,290.50 632.35,291.04 632.77,291.80 633.18,292.49 633.60,292.80 634.05,292.55 634.52,291.94 634.98,291.23 635.40,290.70 635.77,290.36 636.10,290.09 636.41,289.95 636.70,290.00 636.96,290.40 637.20,291.06 637.44,291.72 637.70,292.10 638.01,292.05 638.35,291.74 638.69,291.39 639.00,291.20 639.25,291.18 639.47,291.22 639.70,291.41 640.00,291.80 640.39,292.61 640.85,293.74 641.33,294.78 641.80,295.30 642.22,295.13 642.62,294.51 643.06,293.66 643.60,292.80 644.29,291.88 645.08,290.83 645.90,289.80 646.70,289.00 647.44,288.48 648.17,288.14 648.91,287.91 649.70,287.70 650.56,287.50 651.46,287.34 652.39,287.24 653.30,287.20 654.24,287.23 655.20,287.32 656.11,287.48 656.90,287.70 657.53,287.94 658.06,288.23 658.50,288.62 658.90,289.20 659.24,290.00 659.51,290.96 659.75,292.07 660.00,293.30 660.26,294.78 660.52,296.48 660.77,298.11 661.00,299.40 661.20,300.32 661.39,300.99 661.58,301.40 661.80,301.50 662.06,301.06 662.35,300.17 662.66,299.29 663.00,298.90 663.37,299.37 663.78,300.38 664.20,301.29 664.60,301.50 664.97,300.52 665.33,298.79 665.69,297.06 666.10,296.10 666.55,296.17 667.03,296.84 667.55,297.85 668.10,298.90 668.75,299.98 669.46,301.21 670.15,302.56 670.70,304.00 671.05,305.75 671.27,307.74 671.45,309.54 671.70,310.70 672.03,310.88 672.38,310.38 672.77,309.76 673.20,309.60 673.69,310.06 674.22,310.83 674.77,311.76 675.30,312.70 675.80,313.69 676.29,314.79 676.78,315.86 677.30,316.80 677.87,317.68 678.48,318.53 679.07,319.13 679.60,319.30 680.05,319.02 680.45,318.38 680.82,317.33 681.20,315.80 681.62,313.36 682.05,310.18 682.43,307.11 682.70,305.00" fill="none" stroke="#ee6b2d" stroke-width="1.5" stroke-linejoin="round" stroke-linecap="round" />
<polyline points="464.20,326.00 469.09,326.00 476.16,326.00 483.70,326.00 490.00,326.00 494.70,325.99 498.68,325.97 502.07,325.96 505.00,326.00 507.38,326.05 509.19,326.11 510.65,326.24 512.00,326.50 513.19,326.93 514.14,327.50 515.02,328.14 516.00,328.80 517.16,329.57 518.39,330.44 519.61,331.21 520.70,331.70 521.63,331.80 522.46,331.63 523.23,331.32 524.00,331.00 524.72,330.65 525.39,330.23 526.12,329.79 527.00,329.40 528.04,329.07 529.19,328.77 530.49,328.49 532.00,328.20 533.74,327.89 535.69,327.57 537.79,327.27 540.00,327.00 542.36,326.77 544.88,326.57 547.45,326.38 550.00,326.20 552.27,326.01 554.38,325.82 556.80,325.64 560.00,325.50 564.30,325.40 569.38,325.34 574.77,325.29 580.00,325.20 585.12,325.07 590.31,324.91 595.35,324.74 600.00,324.60 604.22,324.48 608.12,324.38 611.72,324.29 615.00,324.20 617.89,324.09 620.43,323.98 622.74,323.90 625.00,323.90 627.24,324.04 629.39,324.27 631.40,324.50 633.20,324.60 634.82,324.42 636.26,324.06 637.50,323.80 638.50,323.90 639.16,324.66 639.54,325.85 639.80,326.99 640.10,327.60 640.41,327.45 640.68,326.84 641.01,326.04 641.50,325.30 642.20,324.63 643.04,323.91 643.99,323.24 645.00,322.70 646.09,322.33 647.27,322.07 648.50,321.91 649.70,321.80 650.90,321.73 652.13,321.73 653.31,321.80 654.40,322.00 655.36,322.32 656.22,322.76 657.05,323.29 657.90,323.90 658.80,324.59 659.70,325.38 660.60,326.23 661.50,327.10 662.38,327.95 663.26,328.81 664.13,329.77 665.00,330.90 665.88,332.30 666.75,333.91 667.62,335.56 668.50,337.10 669.37,338.50 670.24,339.83 671.12,341.12 672.00,342.40 672.88,343.63 673.76,344.81 674.66,346.04 675.60,347.40 676.65,349.24 677.78,351.39 678.85,353.23 679.70,354.10 680.26,353.70 680.61,352.42 680.89,350.65 681.20,348.80 681.61,346.64 682.04,344.07 682.43,341.66 682.70,340.00" fill="none" stroke="#2b8fd4" stroke-width="1.5" stroke-linejoin="round" stroke-linecap="round" />
<polyline points="464.20,356.20 467.06,356.27 471.16,356.36 475.74,356.48 480.00,356.60 483.92,356.73 487.86,356.87 491.62,357.02 495.00,357.20 497.84,357.41 500.28,357.64 502.58,357.88 505.00,358.10 507.77,358.28 510.71,358.45 513.42,358.62 515.50,358.80 516.66,358.95 517.18,359.09 517.51,359.30 518.10,359.70 519.09,360.35 520.24,361.19 521.42,362.10 522.50,363.00 523.46,363.86 524.36,364.74 525.21,365.62 526.00,366.50 526.71,367.42 527.35,368.36 527.96,369.25 528.60,370.00 529.27,370.63 529.95,371.17 530.63,371.56 531.30,371.70 531.96,371.51 532.61,371.05 533.25,370.49 533.90,370.00 534.57,369.57 535.25,369.12 535.91,368.74 536.50,368.50 537.01,368.40 537.46,368.41 537.88,368.54 538.30,368.80 538.71,369.38 539.09,370.21 539.51,370.91 540.00,371.10 540.62,370.54 541.32,369.48 542.04,368.28 542.70,367.30 543.31,366.54 543.89,365.85 544.43,365.33 544.90,365.10 545.29,365.24 545.61,365.67 545.90,366.26 546.20,366.90 546.53,367.70 546.85,368.68 547.18,369.54 547.50,370.00 547.82,369.96 548.12,369.57 548.45,368.95 548.80,368.20 549.17,367.23 549.56,366.02 550.00,364.81 550.50,363.80 551.12,363.05 551.82,362.45 552.54,361.97 553.20,361.60 553.79,361.35 554.33,361.24 554.86,361.20 555.40,361.20 555.95,361.23 556.51,361.32 557.06,361.45 557.60,361.60 558.13,361.86 558.65,362.21 559.17,362.48 559.70,362.50 560.22,362.14 560.74,361.51 561.28,360.82 561.90,360.30 562.61,360.01 563.39,359.84 564.20,359.70 565.00,359.50 565.77,359.23 566.53,358.92 567.33,358.60 568.20,358.30 569.05,357.99 569.88,357.68 570.93,357.40 572.40,357.20 574.57,357.10 577.26,357.07 579.99,357.11 582.30,357.20 584.06,357.35 585.51,357.57 586.78,357.83 588.00,358.10 589.16,358.45 590.19,358.86 591.19,359.20 592.20,359.30 593.08,359.06 593.86,358.57 594.85,358.02 596.40,357.60 598.82,357.32 601.86,357.10 604.99,356.95 607.70,356.90 609.86,356.99 611.75,357.21 613.44,357.44 615.00,357.60 616.46,357.62 617.77,357.56 618.92,357.52 619.90,357.60 620.66,357.73 621.22,357.90 621.67,358.27 622.10,359.00 622.51,360.13 622.85,361.58 623.17,363.34 623.50,365.40 623.86,367.86 624.22,370.70 624.57,373.71 624.90,376.70 625.20,380.01 625.47,383.62 625.74,386.77 626.00,388.70 626.26,389.03 626.52,388.23 626.77,386.79 627.00,385.20 627.18,383.31 627.32,380.95 627.48,378.59 627.70,376.70 627.98,375.56 628.31,374.86 628.68,374.21 629.10,373.20 629.58,371.61 630.11,369.69 630.66,367.76 631.20,366.10 631.74,364.73 632.29,363.51 632.82,362.54 633.30,361.90 633.72,361.60 634.09,361.59 634.45,361.92 634.80,362.60 635.16,364.06 635.51,366.14 635.85,368.03 636.20,368.90 636.55,368.25 636.90,366.62 637.25,364.73 637.60,363.30 637.96,362.41 638.32,361.73 638.67,361.30 639.00,361.20 639.30,361.72 639.58,362.73 639.84,363.68 640.10,364.00 640.36,363.36 640.61,362.12 640.85,360.78 641.10,359.80 641.35,359.04 641.61,358.34 641.86,358.16 642.10,359.00 642.32,361.53 642.52,365.31 642.72,369.13 642.90,371.80 643.06,373.11 643.21,373.66 643.35,373.45 643.50,372.50 643.64,370.32 643.76,367.08 643.91,363.72 644.10,361.20 644.30,359.84 644.51,359.11 644.82,358.70 645.30,358.30 646.02,357.86 646.91,357.54 647.90,357.33 648.90,357.20 649.94,357.19 651.05,357.29 652.13,357.44 653.10,357.60 653.93,357.67 654.67,357.71 655.33,357.86 655.90,358.30 656.35,358.96 656.69,359.79 656.98,360.95 657.30,362.60 657.65,364.97 657.99,367.91 658.34,371.02 658.70,373.90 659.08,376.57 659.49,379.19 659.87,381.62 660.20,383.70 660.44,385.52 660.63,387.12 660.80,388.27 661.00,388.70 661.24,388.00 661.49,386.42 661.75,384.73 662.00,383.70 662.25,383.57 662.51,383.92 662.76,384.53 663.00,385.20 663.20,386.23 663.38,387.62 663.57,388.67 663.80,388.70 664.09,387.24 664.41,384.76 664.76,381.94 665.10,379.50 665.44,377.48 665.79,375.56 666.15,373.86 666.50,372.50 666.82,371.53 667.11,370.87 667.45,370.48 667.90,370.30 668.53,370.42 669.29,370.82 670.06,371.35 670.70,371.80 671.18,371.91 671.57,371.84 671.90,372.11 672.20,373.20 672.46,375.90 672.67,379.73 672.87,383.29 673.10,385.20 673.34,384.65 673.58,382.53 673.88,379.97 674.30,378.10 674.89,377.17 675.60,376.61 676.36,376.26 677.10,376.00 677.83,375.90 678.59,376.00 679.30,376.10 679.90,376.00 680.35,375.69 680.69,375.26 680.98,374.67 681.30,373.90 681.68,372.76 682.09,371.32 682.45,369.95 682.70,369.00" fill="none" stroke="#111" stroke-width="1.7" stroke-linejoin="round" stroke-linecap="round" />
<rect x="463.55" y="259.85" width="219.85" height="139.30" fill="none" stroke="#000" stroke-width="1.25"/>
<line x1="463.55" y1="399.15" x2="463.55" y2="401.75" stroke="#000" stroke-width="1.0" />
<text x="463.55" y="409.70" font-size="6.9" font-weight="bold" text-anchor="middle" fill="#1a1a1a" >4000</text>
<line x1="481.05" y1="399.15" x2="481.05" y2="400.75" stroke="#000" stroke-width="0.9" />
<line x1="498.55" y1="399.15" x2="498.55" y2="401.75" stroke="#000" stroke-width="1.0" />
<text x="498.55" y="409.70" font-size="6.9" font-weight="bold" text-anchor="middle" fill="#1a1a1a" >3500</text>
<line x1="516.05" y1="399.15" x2="516.05" y2="400.75" stroke="#000" stroke-width="0.9" />
<line x1="533.55" y1="399.15" x2="533.55" y2="401.75" stroke="#000" stroke-width="1.0" />
<text x="533.55" y="409.70" font-size="6.9" font-weight="bold" text-anchor="middle" fill="#1a1a1a" >3000</text>
<line x1="551.05" y1="399.15" x2="551.05" y2="400.75" stroke="#000" stroke-width="0.9" />
<line x1="568.55" y1="399.15" x2="568.55" y2="401.75" stroke="#000" stroke-width="1.0" />
<text x="568.55" y="409.70" font-size="6.9" font-weight="bold" text-anchor="middle" fill="#1a1a1a" >2500</text>
<line x1="586.05" y1="399.15" x2="586.05" y2="400.75" stroke="#000" stroke-width="0.9" />
<line x1="603.55" y1="399.15" x2="603.55" y2="401.75" stroke="#000" stroke-width="1.0" />
<text x="603.55" y="409.70" font-size="6.9" font-weight="bold" text-anchor="middle" fill="#1a1a1a" >2000</text>
<line x1="621.05" y1="399.15" x2="621.05" y2="400.75" stroke="#000" stroke-width="0.9" />
<line x1="638.55" y1="399.15" x2="638.55" y2="401.75" stroke="#000" stroke-width="1.0" />
<text x="638.55" y="409.70" font-size="6.9" font-weight="bold" text-anchor="middle" fill="#1a1a1a" >1500</text>
<line x1="656.05" y1="399.15" x2="656.05" y2="400.75" stroke="#000" stroke-width="0.9" />
<line x1="673.55" y1="399.15" x2="673.55" y2="401.75" stroke="#000" stroke-width="1.0" />
<text x="673.55" y="409.70" font-size="6.9" font-weight="bold" text-anchor="middle" fill="#1a1a1a" >1000</text>
<text x="572.50" y="421.40" font-size="8.5" font-weight="bold" text-anchor="middle" fill="#1a1a1a" >Wavelength(nm)</text>
<text x="0.00" y="0.00" font-size="8.4" font-weight="bold" text-anchor="middle" fill="#1a1a1a" transform="translate(457.8,327.3) rotate(-90)">Transmittance</text>
<text x="509.60" y="273.90" font-size="6.3" font-weight="bold" text-anchor="start" fill="#1a1a1a" >N-H</text>
<text x="532.40" y="273.90" font-size="6.3" font-weight="bold" text-anchor="start" fill="#1a1a1a" >stretch</text>
<line x1="505.40" y1="276.40" x2="522.40" y2="276.40" stroke="#000" stroke-width="0.9" />
<polygon points="525.2,276.4 522.0,275.0 522.0,277.79999999999995" fill="#1a1a1a"/>
<line x1="549.90" y1="276.40" x2="531.50" y2="276.40" stroke="#000" stroke-width="0.9" />
<polygon points="528.7,276.4 531.9000000000001,275.0 531.9000000000001,277.79999999999995" fill="#1a1a1a"/>
<text x="595.10" y="266.70" font-size="6.4" font-weight="bold" text-anchor="start" fill="#1a1a1a" >N-H blend</text>
<line x1="608.40" y1="268.60" x2="630.80" y2="268.60" stroke="#000" stroke-width="0.9" />
<polygon points="633.6,268.6 630.4,267.20000000000005 630.4,270.0" fill="#1a1a1a"/>
<text x="591.90" y="281.70" font-size="6.5" font-weight="bold" text-anchor="start" fill="#1a1a1a" >C=O bond</text>
<line x1="608.30" y1="283.60" x2="625.50" y2="283.60" stroke="#000" stroke-width="0.9" />
<polygon points="628.3,283.6 625.0999999999999,282.20000000000005 625.0999999999999,285.0" fill="#1a1a1a"/>
<text x="648.10" y="270.00" font-size="6.3" font-weight="bold" text-anchor="start" fill="#1a1a1a" >C-H bend</text>
<line x1="660.30" y1="271.70" x2="676.90" y2="271.70" stroke="#000" stroke-width="0.9" />
<polygon points="679.7,271.7 676.5,270.3 676.5,273.09999999999997" fill="#1a1a1a"/>
<text x="648.10" y="281.20" font-size="6.3" font-weight="bold" text-anchor="start" fill="#1a1a1a" >C-F bond</text>
<line x1="650.00" y1="284.80" x2="658.50" y2="284.80" stroke="#000" stroke-width="0.9" />
<polygon points="661.3,284.8 658.0999999999999,283.40000000000003 658.0999999999999,286.2" fill="#1a1a1a"/>
<line x1="677.30" y1="284.80" x2="667.80" y2="284.80" stroke="#000" stroke-width="0.9" />
<polygon points="665.0,284.8 668.2,283.40000000000003 668.2,286.2" fill="#1a1a1a"/>
<text x="547.60" y="303.20" font-size="7.7" font-weight="bold" text-anchor="start" fill="#ee6b2d" >MTFA+MAPbBr<tspan font-size="5.3" dy="1.8">3</tspan></text>
<text x="560.40" y="335.40" font-size="7.7" font-weight="bold" text-anchor="start" fill="#2b8fd4" >MAPbBr<tspan font-size="5.3" dy="1.8">3</tspan></text>
<text x="565.60" y="370.90" font-size="7.9" font-weight="bold" text-anchor="start" fill="#111" >MTFA</text>
</svg>
</body></html>
